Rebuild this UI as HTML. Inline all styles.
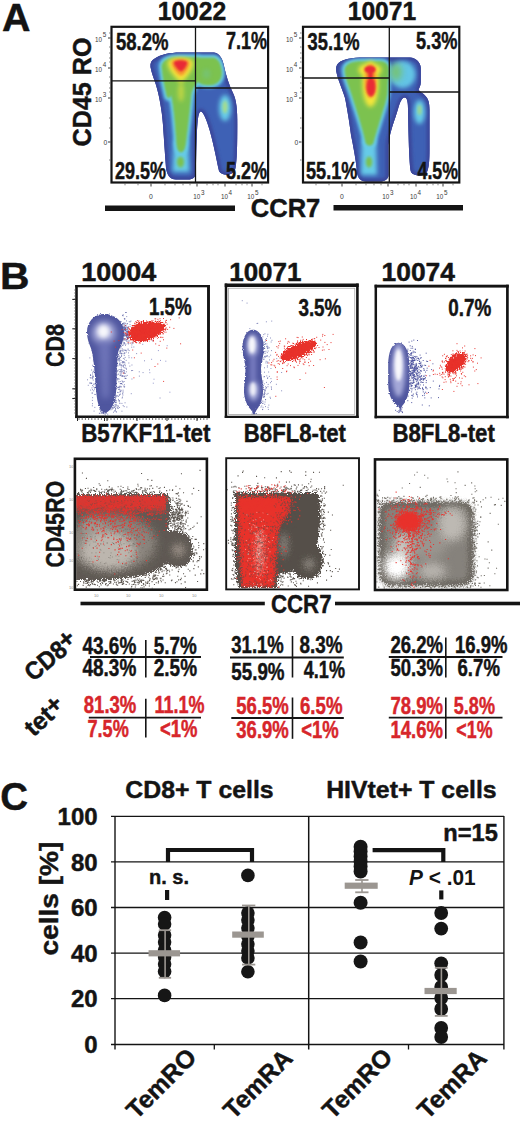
<!DOCTYPE html>
<html><head><meta charset="utf-8"><title>Figure</title>
<style>
html,body{margin:0;padding:0;background:#fff;}
body{width:520px;height:1121px;overflow:hidden;font-family:"Liberation Sans",sans-serif;}
svg{display:block;font-family:"Liberation Sans",sans-serif;}
</style></head><body>
<svg width="520" height="1121" viewBox="0 0 520 1121">
<defs>
<filter id="bl06" x="-20%" y="-20%" width="140%" height="140%"><feGaussianBlur stdDeviation="0.6"/></filter>
<filter id="bl1" x="-30%" y="-30%" width="160%" height="160%"><feGaussianBlur stdDeviation="1"/></filter>
<filter id="bl15" x="-30%" y="-30%" width="160%" height="160%"><feGaussianBlur stdDeviation="1.5"/></filter>
<filter id="bl2" x="-40%" y="-40%" width="180%" height="180%"><feGaussianBlur stdDeviation="2"/></filter>
<filter id="bl3" x="-50%" y="-50%" width="200%" height="200%"><feGaussianBlur stdDeviation="3"/></filter>
<filter id="bl4" x="-50%" y="-50%" width="200%" height="200%"><feGaussianBlur stdDeviation="4"/></filter>
<path id="shA1" d="M180,52.5 L214,52.5 C220,53 223,60 224,66 C226,75 229,85 233,93 C236.5,100 237.5,110 237.3,125 C237.3,145 237,160 235.5,168 C233.5,176.5 222,176.5 219,171 C216.5,160 213,140 208,125 C205,116 202,110 200,112 C197.5,114 196.5,130 196,172 C196,177 193,179.5 188,179.5 L176,179.5 C170,179.5 167,175 166,168 C165,155 164,140 163,125 C162,110 159,95 156,85 C154,79 151.5,73 150.5,67 C150,63 151.5,60.5 154,59 C160,54.5 170,52.5 180,52.5 Z"/>
<path id="shA2" d="M364,57.5 L410,57.5 C416,58 420.5,62 420.8,68 L420.8,82 C420.8,86 419,88 418.5,90 C420,92 423,93 425.5,96 C428.5,99 429.5,103 429.5,110 L429.5,150 C429.5,160 429,168 427,172 C425,176.5 413,176.5 411,172 C409,165 408.5,130 408,112 C408.3,102 407,97.5 404.8,97.5 C402,97.5 400,102 398,109 C395,120 390,130 388.5,145 L388.5,175 C388.5,179 385,181.5 380,181.5 L366,181.5 C360,181.5 357.5,177 357,172 C356,160 353,145 351,135 C349,120 347,108 345,98 C342,88 337.5,79 336.2,71 C335.6,67.5 336.5,65 338.5,63 C343,59 352,57.5 364,57.5 Z"/>
<clipPath id="cA1"><use href="#shA1"/></clipPath>
<clipPath id="cA2"><use href="#shA2"/></clipPath>
</defs>
<g id="panelA">
<use href="#shA1" fill="#3b469b" filter="url(#bl06)"/>
<g clip-path="url(#cA1)">
<use href="#shA1" fill="#3e61b5"/>
<use href="#shA1" fill="none" stroke="#3b469b" stroke-width="6" filter="url(#bl15)"/>
<g filter="url(#bl2)" fill="#66cbe8"><path d="M174,140 L188,140 L189.5,172 L172.5,172 Z"/></g>
<g filter="url(#bl2)" fill="#66cbe8"><ellipse cx="225" cy="108" rx="6" ry="13"/></g>
<g filter="url(#bl15)" fill="#66cbe8" stroke="#66cbe8" stroke-width="6.5" stroke-linejoin="round"><path d="M162,68 C161,61 168,57.5 178,57.5 L199,57.5 L199,80 C196,84 192,88 191,95 C190,105 188,125 186,140 C185,148 184,152 181,152 C178,152 177,148 176.5,140 C175.5,125 174,108 172,98 C171.5,95 171,93 170.5,95 C170,98 168,99 167,96 C165,88 163,78 162,68 Z"/><path d="M197,58 L214,58 C219,59 221,66 221.5,72 C222,80 217,85 209,85 C203,85 198,83 197,80 Z"/></g>
<g filter="url(#bl1)" fill="#7bc24f" stroke="#7bc24f" stroke-width="0.8" stroke-linejoin="round"><path d="M162,68 C161,61 168,57.5 178,57.5 L199,57.5 L199,80 C196,84 192,88 191,95 C190,105 188,125 186,140 C185,148 184,152 181,152 C178,152 177,148 176.5,140 C175.5,125 174,108 172,98 C171.5,95 171,93 170.5,95 C170,98 168,99 167,96 C165,88 163,78 162,68 Z"/><path d="M197,58 L214,58 C219,59 221,66 221.5,72 C222,80 217,85 209,85 C203,85 198,83 197,80 Z"/></g>
<g filter="url(#bl15)" fill="#7bc24f"><ellipse cx="180.5" cy="162" rx="3.6" ry="5.5"/></g>
<g filter="url(#bl2)" fill="#66cbe8" opacity="0.22"><ellipse cx="206.5" cy="74" rx="4" ry="5"/></g>
<g filter="url(#bl15)" fill="#a6dc8e"><ellipse cx="225" cy="107" rx="2.6" ry="6.5"/></g>
<g filter="url(#bl2)" fill="#f4e63a"><path d="M168,61 C172,56.5 189,56.5 193,61 C195,67 186,80 181,82 C176,80 166,67 168,61 Z"/><ellipse cx="181" cy="92" rx="3" ry="10" opacity="0.55"/></g>
<g filter="url(#bl15)" fill="#f6982e"><path d="M171.5,61.5 C175,58.5 186,58.5 189.5,61.5 C190.5,66 185,75 181,76 C177,75 170.5,66 171.5,61.5 Z"/></g>
<g filter="url(#bl1)" fill="#e92c36"><path d="M174,62 C176.5,59.8 184.5,59.8 187,62 C188,64.5 184,70.5 181,71.5 C178,70.5 173,64.5 174,62 Z"/></g>
</g>
<use href="#shA2" fill="#3b469b" filter="url(#bl06)"/>
<g clip-path="url(#cA2)">
<use href="#shA2" fill="#3e61b5"/>
<use href="#shA2" fill="none" stroke="#3b469b" stroke-width="6" filter="url(#bl15)"/>
<g filter="url(#bl2)" fill="#66cbe8"><path d="M362,138 L376,138 L377,175 L361,175 Z"/></g>
<g filter="url(#bl2)" fill="#66cbe8" opacity="0.95"><ellipse cx="402.5" cy="74.5" rx="13" ry="13.5"/></g>
<g filter="url(#bl2)" fill="#66cbe8"><ellipse cx="419.5" cy="112" rx="5.5" ry="12"/></g>
<g filter="url(#bl15)" fill="#66cbe8" stroke="#66cbe8" stroke-width="6.5" stroke-linejoin="round"><path d="M345,70 C345,64 352,61.5 362,61.5 L380,61.5 C386,61.5 388.5,65 388.5,70 L387,95 C385,105 378,125 373,143 C372,146 367,146 366,143 C362,125 356,108 353,98 C350,88 345,78 345,70 Z"/></g>
<g filter="url(#bl1)" fill="#7bc24f" stroke="#7bc24f" stroke-width="0.8" stroke-linejoin="round"><path d="M345,70 C345,64 352,61.5 362,61.5 L380,61.5 C386,61.5 388.5,65 388.5,70 L387,95 C385,105 378,125 373,143 C372,146 367,146 366,143 C362,125 356,108 353,98 C350,88 345,78 345,70 Z"/></g>
<g filter="url(#bl3)" fill="#7bc24f" opacity="0.7"><ellipse cx="396" cy="72" rx="6" ry="9"/></g>
<g filter="url(#bl15)" fill="#7bc24f"><ellipse cx="369" cy="162" rx="3.2" ry="5.5"/></g>
<g filter="url(#bl15)" fill="#9fd88a"><ellipse cx="419.5" cy="110" rx="2" ry="5"/></g>
<g filter="url(#bl2)" fill="#f4e63a"><ellipse cx="370.5" cy="84" rx="8" ry="23"/><ellipse cx="370" cy="70" rx="11.5" ry="7"/></g>
<g filter="url(#bl15)" fill="#f6982e"><ellipse cx="370.5" cy="81" rx="5.8" ry="17"/></g>
<g filter="url(#bl1)" fill="#e92c36"><ellipse cx="370" cy="69.5" rx="5.8" ry="3.8"/><ellipse cx="371" cy="87" rx="4.6" ry="9.5"/><rect x="368.3" y="70" width="4.4" height="10"/></g>
</g>
<text x="2" y="31" font-size="38" font-weight="bold" fill="#141414" stroke="#141414" stroke-width="0.45" stroke-linejoin="round" textLength="28.5" lengthAdjust="spacingAndGlyphs" >A</text>
<text x="157.7" y="20.3" font-size="25" font-weight="bold" fill="#141414" stroke="#141414" stroke-width="0.45" stroke-linejoin="round" textLength="68.5" lengthAdjust="spacingAndGlyphs" >10022</text>
<text x="347.7" y="20.3" font-size="25" font-weight="bold" fill="#141414" stroke="#141414" stroke-width="0.45" stroke-linejoin="round" textLength="68.5" lengthAdjust="spacingAndGlyphs" >10071</text>
<text x="90.8" y="146.5" font-size="26" font-weight="bold" fill="#141414" stroke="#141414" stroke-width="0.45" stroke-linejoin="round" textLength="109" lengthAdjust="spacingAndGlyphs" transform="rotate(-90 90.8 146.5)" >CD45 RO</text>
<rect x="111.5" y="26.8" width="156.6" height="155.7" fill="none" stroke="#141414" stroke-width="2.2" />
<rect x="303" y="26.8" width="156.3" height="155.7" fill="none" stroke="#141414" stroke-width="2.2" />
<line x1="195.5" y1="27" x2="195.5" y2="182" stroke="#141414" stroke-width="1.3" />
<line x1="112" y1="80.8" x2="195.5" y2="80.8" stroke="#141414" stroke-width="1.3" />
<line x1="195.5" y1="88" x2="268" y2="88" stroke="#141414" stroke-width="1.3" />
<line x1="389.3" y1="27" x2="389.3" y2="182" stroke="#141414" stroke-width="1.3" />
<line x1="303" y1="78" x2="389.3" y2="78" stroke="#141414" stroke-width="1.3" />
<line x1="389.3" y1="92" x2="459" y2="92" stroke="#141414" stroke-width="1.3" />
<text x="116" y="49.5" font-size="23" font-weight="bold" fill="#141414" stroke="#141414" stroke-width="0.45" stroke-linejoin="round" textLength="52.5" lengthAdjust="spacingAndGlyphs" >58.2%</text>
<text x="226" y="49" font-size="23" font-weight="bold" fill="#141414" stroke="#141414" stroke-width="0.45" stroke-linejoin="round" textLength="41" lengthAdjust="spacingAndGlyphs" >7.1%</text>
<text x="115" y="178.8" font-size="23" font-weight="bold" fill="#141414" stroke="#141414" stroke-width="0.45" stroke-linejoin="round" textLength="51" lengthAdjust="spacingAndGlyphs" >29.5%</text>
<text x="226" y="178.8" font-size="23" font-weight="bold" fill="#141414" stroke="#141414" stroke-width="0.45" stroke-linejoin="round" textLength="41" lengthAdjust="spacingAndGlyphs" >5.2%</text>
<text x="307.5" y="49.5" font-size="23" font-weight="bold" fill="#141414" stroke="#141414" stroke-width="0.45" stroke-linejoin="round" textLength="52" lengthAdjust="spacingAndGlyphs" >35.1%</text>
<text x="416" y="49" font-size="23" font-weight="bold" fill="#141414" stroke="#141414" stroke-width="0.45" stroke-linejoin="round" textLength="41.5" lengthAdjust="spacingAndGlyphs" >5.3%</text>
<text x="306" y="178.8" font-size="23" font-weight="bold" fill="#141414" stroke="#141414" stroke-width="0.45" stroke-linejoin="round" textLength="51.5" lengthAdjust="spacingAndGlyphs" >55.1%</text>
<text x="417.5" y="179.2" font-size="23" font-weight="bold" fill="#141414" stroke="#141414" stroke-width="0.45" stroke-linejoin="round" textLength="40.5" lengthAdjust="spacingAndGlyphs" >4.5%</text>
<text x="95.0" y="41.6" font-size="6.3" fill="#3c3c3c">10</text><text x="102.7" y="37.300000000000004" font-size="6.3" fill="#3c3c3c">5</text>
<text x="95.0" y="71.6" font-size="6.3" fill="#3c3c3c">10</text><text x="102.7" y="67.3" font-size="6.3" fill="#3c3c3c">4</text>
<text x="95.0" y="101.6" font-size="6.3" fill="#3c3c3c">10</text><text x="102.7" y="97.3" font-size="6.3" fill="#3c3c3c">3</text>
<text x="103.5" y="144.6" font-size="6.8" fill="#3c3c3c">0</text>
<text x="193.3" y="199.4" font-size="6.3" fill="#3c3c3c">10</text><text x="201.0" y="195.1" font-size="6.3" fill="#3c3c3c">3</text>
<text x="220.9" y="199.4" font-size="6.3" fill="#3c3c3c">10</text><text x="228.6" y="195.1" font-size="6.3" fill="#3c3c3c">4</text>
<text x="247.3" y="199.4" font-size="6.3" fill="#3c3c3c">10</text><text x="255.0" y="195.1" font-size="6.3" fill="#3c3c3c">5</text>
<text x="149" y="199.4" font-size="6.8" fill="#3c3c3c">0</text>
<line x1="108" y1="38" x2="110.5" y2="38" stroke="#222" stroke-width="0.9" />
<line x1="108" y1="68" x2="110.5" y2="68" stroke="#222" stroke-width="0.9" />
<line x1="108" y1="98" x2="110.5" y2="98" stroke="#222" stroke-width="0.9" />
<line x1="108" y1="142" x2="110.5" y2="142" stroke="#222" stroke-width="0.9" />
<line x1="109" y1="33" x2="110.5" y2="33" stroke="#555" stroke-width="0.7" />
<line x1="109" y1="47" x2="110.5" y2="47" stroke="#555" stroke-width="0.7" />
<line x1="109" y1="53" x2="110.5" y2="53" stroke="#555" stroke-width="0.7" />
<line x1="109" y1="58" x2="110.5" y2="58" stroke="#555" stroke-width="0.7" />
<line x1="109" y1="62" x2="110.5" y2="62" stroke="#555" stroke-width="0.7" />
<line x1="109" y1="77" x2="110.5" y2="77" stroke="#555" stroke-width="0.7" />
<line x1="109" y1="83" x2="110.5" y2="83" stroke="#555" stroke-width="0.7" />
<line x1="109" y1="88" x2="110.5" y2="88" stroke="#555" stroke-width="0.7" />
<line x1="109" y1="92" x2="110.5" y2="92" stroke="#555" stroke-width="0.7" />
<line x1="109" y1="118" x2="110.5" y2="118" stroke="#555" stroke-width="0.7" />
<line x1="109" y1="128" x2="110.5" y2="128" stroke="#555" stroke-width="0.7" />
<line x1="109" y1="160" x2="110.5" y2="160" stroke="#555" stroke-width="0.7" />
<line x1="151" y1="183.6" x2="151" y2="186.5" stroke="#222" stroke-width="0.9" />
<line x1="197" y1="183.6" x2="197" y2="186.5" stroke="#222" stroke-width="0.9" />
<line x1="225" y1="183.6" x2="225" y2="186.5" stroke="#222" stroke-width="0.9" />
<line x1="252" y1="183.6" x2="252" y2="186.5" stroke="#222" stroke-width="0.9" />
<line x1="125" y1="183.6" x2="125" y2="185.3" stroke="#555" stroke-width="0.7" />
<line x1="138" y1="183.6" x2="138" y2="185.3" stroke="#555" stroke-width="0.7" />
<line x1="165" y1="183.6" x2="165" y2="185.3" stroke="#555" stroke-width="0.7" />
<line x1="175" y1="183.6" x2="175" y2="185.3" stroke="#555" stroke-width="0.7" />
<line x1="183" y1="183.6" x2="183" y2="185.3" stroke="#555" stroke-width="0.7" />
<line x1="190" y1="183.6" x2="190" y2="185.3" stroke="#555" stroke-width="0.7" />
<line x1="207" y1="183.6" x2="207" y2="185.3" stroke="#555" stroke-width="0.7" />
<line x1="213" y1="183.6" x2="213" y2="185.3" stroke="#555" stroke-width="0.7" />
<line x1="218" y1="183.6" x2="218" y2="185.3" stroke="#555" stroke-width="0.7" />
<line x1="236" y1="183.6" x2="236" y2="185.3" stroke="#555" stroke-width="0.7" />
<line x1="242" y1="183.6" x2="242" y2="185.3" stroke="#555" stroke-width="0.7" />
<line x1="247" y1="183.6" x2="247" y2="185.3" stroke="#555" stroke-width="0.7" />
<line x1="262" y1="183.6" x2="262" y2="185.3" stroke="#555" stroke-width="0.7" />
<text x="286.0" y="41.6" font-size="6.3" fill="#3c3c3c">10</text><text x="293.7" y="37.300000000000004" font-size="6.3" fill="#3c3c3c">5</text>
<text x="286.0" y="71.6" font-size="6.3" fill="#3c3c3c">10</text><text x="293.7" y="67.3" font-size="6.3" fill="#3c3c3c">4</text>
<text x="286.0" y="101.6" font-size="6.3" fill="#3c3c3c">10</text><text x="293.7" y="97.3" font-size="6.3" fill="#3c3c3c">3</text>
<text x="294.5" y="144.6" font-size="6.8" fill="#3c3c3c">0</text>
<text x="382.3" y="199.4" font-size="6.3" fill="#3c3c3c">10</text><text x="390.0" y="195.1" font-size="6.3" fill="#3c3c3c">3</text>
<text x="409.9" y="199.4" font-size="6.3" fill="#3c3c3c">10</text><text x="417.59999999999997" y="195.1" font-size="6.3" fill="#3c3c3c">4</text>
<text x="436.3" y="199.4" font-size="6.3" fill="#3c3c3c">10</text><text x="444.0" y="195.1" font-size="6.3" fill="#3c3c3c">5</text>
<text x="340" y="199.4" font-size="6.8" fill="#3c3c3c">0</text>
<line x1="299" y1="38" x2="301.5" y2="38" stroke="#222" stroke-width="0.9" />
<line x1="299" y1="68" x2="301.5" y2="68" stroke="#222" stroke-width="0.9" />
<line x1="299" y1="98" x2="301.5" y2="98" stroke="#222" stroke-width="0.9" />
<line x1="299" y1="142" x2="301.5" y2="142" stroke="#222" stroke-width="0.9" />
<line x1="300" y1="33" x2="301.5" y2="33" stroke="#555" stroke-width="0.7" />
<line x1="300" y1="47" x2="301.5" y2="47" stroke="#555" stroke-width="0.7" />
<line x1="300" y1="53" x2="301.5" y2="53" stroke="#555" stroke-width="0.7" />
<line x1="300" y1="58" x2="301.5" y2="58" stroke="#555" stroke-width="0.7" />
<line x1="300" y1="62" x2="301.5" y2="62" stroke="#555" stroke-width="0.7" />
<line x1="300" y1="77" x2="301.5" y2="77" stroke="#555" stroke-width="0.7" />
<line x1="300" y1="83" x2="301.5" y2="83" stroke="#555" stroke-width="0.7" />
<line x1="300" y1="88" x2="301.5" y2="88" stroke="#555" stroke-width="0.7" />
<line x1="300" y1="92" x2="301.5" y2="92" stroke="#555" stroke-width="0.7" />
<line x1="300" y1="118" x2="301.5" y2="118" stroke="#555" stroke-width="0.7" />
<line x1="300" y1="128" x2="301.5" y2="128" stroke="#555" stroke-width="0.7" />
<line x1="300" y1="160" x2="301.5" y2="160" stroke="#555" stroke-width="0.7" />
<line x1="342" y1="183.6" x2="342" y2="186.5" stroke="#222" stroke-width="0.9" />
<line x1="388" y1="183.6" x2="388" y2="186.5" stroke="#222" stroke-width="0.9" />
<line x1="416" y1="183.6" x2="416" y2="186.5" stroke="#222" stroke-width="0.9" />
<line x1="443" y1="183.6" x2="443" y2="186.5" stroke="#222" stroke-width="0.9" />
<line x1="316" y1="183.6" x2="316" y2="185.3" stroke="#555" stroke-width="0.7" />
<line x1="329" y1="183.6" x2="329" y2="185.3" stroke="#555" stroke-width="0.7" />
<line x1="356" y1="183.6" x2="356" y2="185.3" stroke="#555" stroke-width="0.7" />
<line x1="366" y1="183.6" x2="366" y2="185.3" stroke="#555" stroke-width="0.7" />
<line x1="374" y1="183.6" x2="374" y2="185.3" stroke="#555" stroke-width="0.7" />
<line x1="381" y1="183.6" x2="381" y2="185.3" stroke="#555" stroke-width="0.7" />
<line x1="398" y1="183.6" x2="398" y2="185.3" stroke="#555" stroke-width="0.7" />
<line x1="404" y1="183.6" x2="404" y2="185.3" stroke="#555" stroke-width="0.7" />
<line x1="409" y1="183.6" x2="409" y2="185.3" stroke="#555" stroke-width="0.7" />
<line x1="427" y1="183.6" x2="427" y2="185.3" stroke="#555" stroke-width="0.7" />
<line x1="433" y1="183.6" x2="433" y2="185.3" stroke="#555" stroke-width="0.7" />
<line x1="438" y1="183.6" x2="438" y2="185.3" stroke="#555" stroke-width="0.7" />
<line x1="453" y1="183.6" x2="453" y2="185.3" stroke="#555" stroke-width="0.7" />
<rect x="105" y="205.5" width="130" height="5.5" fill="#141414" />
<rect x="333.5" y="205" width="129.5" height="5.5" fill="#141414" />
<text x="250.8" y="216.6" font-size="25.5" font-weight="bold" fill="#141414" stroke="#141414" stroke-width="0.45" stroke-linejoin="round" textLength="69.5" lengthAdjust="spacingAndGlyphs" >CCR7</text>
</g>
<defs>
<filter id="rough" x="-5%" y="-5%" width="110%" height="110%"><feTurbulence type="fractalNoise" baseFrequency="0.85" numOctaves="1" seed="3" result="n"/><feDisplacementMap in="SourceGraphic" in2="n" scale="5" xChannelSelector="R" yChannelSelector="G"/></filter>
<filter id="rough2" x="-10%" y="-10%" width="120%" height="120%"><feTurbulence type="fractalNoise" baseFrequency="0.9" numOctaves="1" seed="8" result="n"/><feDisplacementMap in="SourceGraphic" in2="n" scale="3" xChannelSelector="R" yChannelSelector="G"/></filter>
<filter id="rough3" x="-10%" y="-10%" width="120%" height="120%"><feTurbulence type="fractalNoise" baseFrequency="0.8" numOctaves="2" seed="5" result="n"/><feDisplacementMap in="SourceGraphic" in2="n" scale="8" xChannelSelector="R" yChannelSelector="G"/></filter>
<clipPath id="cB1"><rect x="77.8" y="287.3" width="129.3" height="128.2"/></clipPath>
<clipPath id="cB2"><rect x="228.5" y="288" width="127" height="126.5"/></clipPath>
<clipPath id="cB3"><rect x="378.5" y="288" width="127" height="126.5"/></clipPath>
<clipPath id="cB4"><rect x="76.2" y="460.1" width="129.4" height="128.4"/></clipPath>
<clipPath id="cB5"><rect x="227.1" y="459.1" width="131" height="129.2"/></clipPath>
<clipPath id="cB6"><rect x="376.3" y="460.7" width="129.7" height="128"/></clipPath>
<path id="blob1" d="M104,314 C115,314 124,322 124,332 C124,340 121,346 118.5,351 C117,356 117,370 116.5,385 C116,396 115,402 112,407 C109.5,411 106.5,413 104.5,413 C102,413 99,408 98,403 C96.5,397 95.5,385 94.8,374 C94,362 92.5,354 91.5,350 C90,345 87,340 87,332 C87,322 94,314 104,314 Z"/>
<path id="blob2" d="M253,329.7 C259,329.7 263.8,337 263.8,347 C263.8,356 261.5,362 261,368.6 C261,375 263,382 263,391 C263,400 259,407 256,411 L254,416 L252,411 C248,407 244,400 244,391 C244,382 245.5,375 245.5,368.6 C245.5,362 242.5,356 242.5,347 C242.5,337 247,329.7 253,329.7 Z"/>
<path id="blob3" d="M398.5,342.7 C405.5,342.7 409.3,352 409.3,365 L409.3,384 C409.3,395 406,402 402.5,405.5 L400.5,409.5 L398,406 C392,402 388.2,395 388.2,384 L388.2,365 C388.2,352 392,342.7 398.5,342.7 Z"/>
<clipPath id="cb1"><use href="#blob1"/></clipPath>
<clipPath id="cb2"><use href="#blob2"/></clipPath>
<clipPath id="cb3"><use href="#blob3"/></clipPath>
</defs>
<g id="panelB">
<defs><linearGradient id="rfade" x1="0" y1="0" x2="0" y2="1"><stop offset="0" stop-color="#e8322c" stop-opacity="0.95"/><stop offset="0.55" stop-color="#e8322c" stop-opacity="0.9"/><stop offset="1" stop-color="#e8322c" stop-opacity="0"/></linearGradient></defs>
<g clip-path="url(#cB1)">
<path d="M125.1,335.8h0.9M129.8,321.8h0.9M129.3,334.1h0.9M123.2,339.0h0.9M124.0,335.3h0.9M123.2,333.8h0.9M127.0,338.6h0.9M124.8,333.1h0.9M127.6,334.4h0.9M118.5,331.1h0.9M130.5,336.4h0.9M124.7,325.4h0.9M127.4,337.5h0.9M124.5,328.5h0.9M123.7,324.4h0.9M126.6,334.6h0.9M127.9,343.9h0.9M124.3,338.7h0.9M124.5,328.4h0.9M127.4,336.9h0.9M122.0,328.8h0.9M119.7,331.1h0.9M126.4,332.6h0.9M122.7,315.8h0.9M118.3,333.3h0.9M122.2,324.8h0.9M123.4,327.1h0.9M120.8,321.7h0.9M119.8,321.4h0.9M125.1,325.4h0.9M128.1,337.8h0.9M124.2,343.7h0.9M122.4,331.8h0.9M126.3,339.6h0.9M127.5,330.2h0.9M123.9,318.6h0.9M126.9,333.0h0.9M128.7,335.1h0.9M124.3,329.0h0.9M122.2,334.1h0.9M126.2,336.0h0.9M125.9,326.0h0.9M128.8,321.7h0.9M120.5,330.5h0.9M122.7,330.5h0.9M122.1,329.5h0.9M118.9,338.9h0.9M125.4,344.1h0.9M126.8,329.1h0.9M122.4,336.9h0.9M129.8,338.6h0.9M127.9,337.0h0.9M127.2,339.3h0.9M126.4,329.3h0.9M128.3,337.2h0.9M120.3,346.2h0.9M127.1,337.6h0.9M127.1,327.7h0.9M118.8,336.3h0.9M126.2,340.8h0.9M124.1,334.6h0.9M127.7,328.1h0.9M123.5,342.8h0.9M124.9,323.3h0.9M126.2,335.5h0.9M121.9,331.9h0.9M127.1,323.6h0.9M124.6,340.5h0.9M126.7,334.4h0.9M123.2,323.8h0.9M128.8,336.2h0.9M127.1,329.0h0.9M124.4,318.7h0.9M127.2,327.2h0.9M129.4,333.8h0.9M131.3,336.4h0.9M119.5,333.2h0.9M128.1,332.3h0.9M126.6,335.3h0.9M124.7,330.5h0.9M121.5,340.2h0.9M129.4,333.0h0.9M120.6,334.1h0.9M127.0,335.8h0.9M129.6,324.6h0.9M119.4,327.0h0.9M123.9,342.7h0.9M120.4,334.3h0.9M125.9,330.0h0.9M130.3,334.4h0.9M132.1,328.6h0.9M118.8,333.9h0.9M123.0,327.3h0.9M127.5,333.9h0.9M130.5,321.0h0.9M126.5,341.3h0.9M122.4,328.4h0.9M126.0,320.9h0.9M124.9,330.4h0.9M124.3,329.4h0.9M122.4,333.1h0.9M126.4,324.0h0.9M126.1,334.8h0.9M124.7,357.4h0.9M124.2,323.0h0.9M120.5,334.4h0.9M123.3,329.8h0.9M129.2,333.3h0.9M124.3,319.3h0.9M120.0,323.9h0.9M129.7,335.2h0.9M126.9,331.7h0.9M132.4,343.4h0.9M125.2,327.1h0.9M123.4,333.2h0.9M119.9,352.4h0.9M129.6,326.6h0.9M134.0,325.7h0.9M122.1,331.8h0.9M122.7,331.7h0.9M127.1,337.9h0.9M122.1,332.9h0.9M124.1,326.7h0.9M123.8,333.5h0.9M125.7,350.5h0.9M128.8,340.9h0.9M125.1,312.5h0.9M128.2,331.0h0.9M123.5,325.9h0.9M126.1,336.4h0.9M117.5,330.8h0.9M119.9,345.5h0.9M127.8,338.5h0.9M122.9,338.2h0.9M127.0,333.3h0.9M126.9,331.7h0.9M129.6,334.4h0.9M127.8,341.1h0.9M128.6,335.7h0.9M124.6,329.5h0.9M122.6,340.9h0.9M122.4,333.3h0.9M123.3,331.5h0.9M121.0,326.5h0.9M123.1,328.0h0.9M124.7,327.5h0.9M125.9,312.5h0.9M123.8,339.1h0.9M118.3,336.0h0.9M124.7,330.5h0.9M125.8,339.3h0.9M128.8,335.1h0.9M127.0,334.6h0.9M122.7,314.7h0.9M122.5,330.4h0.9M132.0,335.7h0.9M127.6,343.3h0.9M131.4,344.9h0.9M132.5,342.0h0.9M122.1,323.9h0.9M126.3,316.6h0.9M126.6,336.0h0.9M127.0,332.2h0.9M126.9,338.7h0.9M125.7,331.1h0.9M125.6,333.5h0.9M119.7,321.5h0.9M124.4,335.1h0.9M122.4,328.9h0.9M125.4,334.4h0.9M123.4,335.2h0.9M127.2,331.2h0.9M127.9,334.2h0.9M126.1,331.9h0.9M126.1,337.3h0.9M125.3,335.5h0.9M123.4,328.2h0.9M124.4,327.9h0.9M123.3,344.2h0.9M126.4,331.3h0.9M125.0,338.9h0.9M127.0,334.8h0.9M120.3,328.1h0.9M128.1,326.8h0.9M122.3,332.8h0.9M122.4,333.8h0.9M124.3,336.3h0.9M123.0,323.1h0.9M126.0,327.8h0.9M123.0,331.3h0.9M121.3,343.2h0.9M122.0,315.5h0.9M129.6,335.1h0.9M125.2,328.2h0.9M120.9,335.0h0.9M125.0,328.6h0.9M119.6,334.6h0.9M131.3,343.0h0.9M119.7,334.5h0.9M126.7,335.0h0.9M121.3,353.2h0.9M117.4,370.4h0.9M121.9,350.8h0.9M119.3,365.1h0.9M117.2,347.5h0.9M119.9,394.1h0.9M119.2,351.7h0.9M122.6,366.0h0.9M119.9,365.0h0.9M118.1,387.3h0.9M125.1,345.3h0.9M123.5,367.5h0.9M124.4,364.7h0.9M122.1,376.5h0.9M119.6,375.6h0.9M118.5,360.6h0.9M119.0,371.8h0.9M123.3,362.0h0.9M120.4,375.5h0.9M114.8,366.4h0.9M119.9,357.5h0.9M115.0,367.6h0.9M120.6,373.8h0.9M115.8,404.3h0.9M115.6,360.1h0.9M120.4,372.9h0.9M119.7,391.4h0.9M114.2,334.7h0.9M122.6,340.1h0.9M127.6,349.0h0.9M114.8,366.2h0.9M126.4,407.0h0.9M117.6,374.3h0.9M118.3,387.3h0.9M119.4,364.4h0.9M114.9,328.6h0.9M124.5,331.0h0.9M121.7,384.3h0.9M117.4,371.0h0.9M119.0,347.2h0.9M114.7,385.9h0.9M118.8,343.4h0.9M123.3,386.1h0.9M114.0,391.2h0.9M118.5,355.8h0.9M120.5,350.3h0.9M123.7,381.5h0.9M124.7,350.5h0.9M118.4,381.8h0.9M117.4,348.9h0.9M121.6,380.9h0.9M118.7,369.5h0.9M118.9,361.1h0.9M123.8,353.7h0.9M125.9,371.8h0.9M120.9,337.7h0.9M119.3,363.6h0.9M122.0,361.7h0.9M113.4,378.9h0.9M119.9,347.9h0.9M116.3,395.4h0.9M128.4,363.0h0.9M122.5,349.8h0.9M120.5,390.2h0.9M119.3,394.6h0.9M111.2,365.0h0.9M122.5,353.7h0.9M125.7,368.3h0.9M117.4,357.0h0.9M122.4,363.0h0.9M122.5,392.9h0.9M114.6,374.3h0.9M123.3,370.3h0.9M124.7,373.5h0.9M120.8,367.1h0.9M119.8,381.5h0.9M122.8,382.1h0.9M114.6,362.1h0.9M120.3,369.7h0.9M123.7,406.6h0.9M115.7,374.7h0.9M123.5,365.0h0.9M118.5,400.8h0.9M112.7,368.2h0.9M119.6,350.4h0.9M116.6,378.8h0.9M121.1,353.6h0.9M115.9,360.0h0.9M123.7,373.2h0.9M117.4,366.0h0.9M121.2,355.8h0.9M117.9,359.2h0.9M118.9,358.5h0.9M124.2,386.7h0.9M120.8,356.5h0.9M118.6,358.8h0.9M115.6,400.6h0.9M124.1,359.1h0.9M122.6,391.8h0.9M118.9,389.1h0.9M120.9,365.6h0.9M116.4,345.3h0.9M116.4,375.2h0.9M117.1,378.8h0.9M121.2,383.5h0.9M121.0,369.2h0.9M117.4,387.3h0.9M122.6,390.2h0.9M122.7,351.1h0.9M120.6,390.9h0.9M123.6,370.8h0.9M119.0,358.9h0.9M119.6,362.9h0.9M121.7,398.0h0.9M119.9,383.7h0.9M122.8,339.4h0.9M115.6,369.3h0.9M125.0,365.8h0.9M117.3,365.2h0.9M119.4,359.8h0.9M115.2,344.7h0.9M122.1,381.8h0.9M124.5,353.0h0.9M123.7,362.1h0.9M122.9,358.4h0.9M114.5,356.4h0.9M117.3,379.9h0.9M118.4,374.1h0.9M116.7,357.2h0.9M123.9,352.9h0.9M120.6,360.5h0.9M119.9,383.5h0.9M121.7,370.0h0.9M116.7,371.7h0.9M116.8,362.7h0.9M116.9,363.9h0.9M121.7,371.5h0.9M121.2,338.5h0.9M122.0,393.8h0.9M123.8,355.4h0.9M115.2,358.9h0.9M118.0,389.4h0.9M120.5,371.6h0.9M115.3,368.7h0.9M118.1,358.7h0.9M123.5,343.0h0.9M123.9,371.0h0.9M123.8,387.1h0.9M120.2,353.6h0.9M119.3,389.8h0.9M123.8,350.0h0.9M118.7,356.3h0.9M121.2,376.1h0.9M124.6,368.0h0.9M118.7,379.1h0.9M117.9,356.1h0.9M120.0,351.5h0.9M122.1,338.1h0.9M121.7,348.7h0.9M120.5,350.8h0.9M121.9,345.2h0.9M114.4,372.9h0.9M117.0,357.4h0.9M120.6,336.2h0.9M116.7,407.7h0.9M115.3,354.6h0.9M115.8,347.9h0.9M116.8,387.8h0.9M119.4,386.6h0.9M116.4,349.6h0.9M120.8,344.4h0.9M125.9,352.0h0.9M119.5,386.1h0.9M124.5,363.0h0.9M121.0,355.1h0.9M116.1,367.5h0.9M119.1,387.3h0.9M116.6,345.8h0.9M122.7,361.9h0.9M116.0,345.9h0.9M124.6,402.8h0.9M122.0,397.1h0.9M112.9,383.2h0.9M122.7,365.9h0.9M125.4,378.5h0.9M117.2,334.4h0.9M123.4,372.4h0.9M113.7,346.6h0.9M120.9,346.8h0.9M114.2,356.7h0.9M121.7,362.4h0.9M113.7,377.2h0.9M110.8,379.2h0.9M121.4,372.2h0.9M128.0,352.9h0.9M117.9,378.8h0.9M122.9,366.1h0.9M120.4,386.9h0.9M118.9,353.3h0.9M122.2,323.8h0.9M125.7,360.4h0.9M115.7,402.4h0.9M122.0,375.5h0.9M121.2,364.9h0.9M115.0,382.1h0.9M125.7,376.1h0.9M126.8,375.4h0.9M116.7,359.8h0.9M126.1,369.2h0.9M120.2,371.2h0.9M119.4,357.7h0.9M125.3,350.1h0.9M120.8,370.2h0.9M121.1,383.5h0.9M125.3,378.4h0.9M124.5,375.9h0.9M123.1,376.1h0.9M115.1,409.3h0.9M114.5,372.2h0.9M123.9,384.7h0.9M120.8,386.8h0.9M114.2,394.3h0.9M114.9,402.6h0.9M117.7,406.5h0.9M119.9,391.8h0.9M115.1,387.2h0.9M115.3,396.0h0.9M114.3,400.6h0.9M109.8,397.7h0.9M117.9,396.4h0.9M113.1,408.1h0.9M108.0,408.9h0.9M113.5,407.3h0.9M108.0,395.5h0.9M110.5,402.6h0.9M114.1,400.8h0.9M110.8,392.1h0.9M117.8,408.3h0.9M108.9,402.7h0.9M114.9,398.7h0.9M116.0,412.0h0.9M119.1,407.5h0.9M117.3,408.1h0.9M114.8,410.5h0.9M114.3,407.1h0.9M113.8,393.2h0.9M118.0,399.4h0.9M111.7,409.1h0.9M115.9,396.7h0.9M113.7,402.4h0.9M114.9,404.9h0.9M113.1,412.2h0.9M121.5,411.2h0.9M111.7,408.4h0.9M114.9,400.8h0.9M115.0,408.5h0.9M116.2,405.8h0.9M115.6,401.0h0.9M115.5,411.6h0.9M117.5,405.6h0.9M108.8,396.8h0.9M114.1,411.0h0.9M109.7,400.3h0.9M114.9,406.2h0.9M109.9,391.4h0.9M110.7,402.0h0.9M113.8,395.5h0.9M118.9,395.3h0.9M116.1,388.7h0.9M115.1,417.1h0.9M119.0,401.0h0.9M110.7,403.7h0.9M106.7,409.8h0.9M112.6,401.2h0.9M113.1,405.7h0.9M118.4,392.6h0.9M121.5,403.4h0.9M109.4,399.2h0.9M122.7,405.6h0.9M119.5,403.3h0.9M117.0,392.4h0.9M115.3,389.1h0.9M122.5,395.0h0.9M114.3,407.2h0.9M112.4,405.0h0.9M114.5,404.9h0.9M109.3,387.9h0.9M115.7,383.2h0.9M113.7,397.7h0.9M115.2,399.7h0.9M115.3,397.8h0.9M110.3,404.5h0.9M118.7,400.8h0.9M110.5,393.7h0.9M117.2,395.9h0.9M108.5,403.0h0.9M115.4,402.5h0.9M111.2,401.5h0.9M114.2,417.9h0.9M111.8,400.2h0.9M92.2,385.5h0.9M90.5,378.3h0.9M91.5,350.4h0.9M92.8,386.8h0.9M92.9,376.3h0.9M91.8,393.0h0.9M92.6,377.7h0.9M92.1,378.7h0.9M89.2,383.0h0.9M87.1,379.8h0.9M95.5,373.7h0.9M93.2,354.9h0.9M91.9,405.8h0.9M89.4,357.9h0.9M90.1,375.2h0.9M94.0,389.1h0.9M87.8,385.3h0.9M91.5,387.9h0.9M93.3,390.8h0.9M92.2,397.7h0.9M93.1,384.2h0.9M91.8,420.7h0.9M95.6,365.8h0.9M90.5,383.2h0.9M90.0,374.9h0.9M92.4,372.4h0.9M94.1,384.0h0.9M91.9,400.4h0.9M93.6,370.1h0.9M91.2,370.0h0.9M90.2,390.1h0.9M94.1,387.6h0.9M94.4,407.4h0.9M94.3,394.4h0.9M91.3,383.2h0.9M90.3,375.4h0.9M90.2,383.0h0.9M91.7,377.5h0.9M92.9,360.9h0.9M92.8,380.1h0.9M89.8,377.5h0.9M92.3,376.7h0.9M92.0,374.0h0.9M92.1,403.7h0.9M92.0,389.7h0.9M91.7,393.1h0.9M92.9,371.5h0.9M92.2,365.7h0.9M92.3,376.0h0.9M91.0,383.4h0.9M102.0,410.7h0.9M102.4,413.5h0.9M105.9,413.0h0.9M103.9,410.8h0.9M100.0,411.7h0.9M101.7,411.3h0.9M101.0,412.6h0.9M103.5,410.9h0.9M99.5,413.4h0.9M102.5,407.2h0.9M105.1,411.3h0.9M103.1,407.8h0.9M100.3,410.8h0.9M101.2,413.3h0.9M103.4,412.1h0.9M104.4,411.7h0.9M105.5,412.2h0.9M102.6,415.9h0.9M99.0,409.2h0.9M107.3,414.2h0.9M103.9,408.2h0.9M104.2,410.8h0.9M103.9,412.4h0.9M99.9,409.9h0.9M102.0,412.5h0.9M103.8,413.8h0.9M106.1,409.0h0.9M103.2,411.8h0.9M93.6,411.1h0.9M102.3,407.1h0.9M104.1,411.5h0.9M106.9,410.0h0.9M105.1,415.3h0.9M110.5,409.8h0.9M107.3,416.2h0.9M107.0,410.7h0.9M105.8,416.8h0.9M98.9,413.3h0.9M105.5,413.1h0.9M104.8,414.0h0.9M144.0,360.8h0.9M149.0,369.9h0.9M152.3,340.8h0.9M131.5,365.0h0.9M122.5,345.5h0.9M108.3,364.3h0.9M131.1,370.6h0.9M142.6,372.6h0.9M138.8,371.8h0.9M136.2,353.6h0.9M131.5,379.0h0.9M128.6,357.7h0.9M132.2,370.5h0.9M138.9,376.1h0.9M117.4,360.0h0.9M142.3,344.3h0.9M120.4,374.7h0.9M133.4,347.0h0.9M128.7,350.6h0.9M131.3,347.2h0.9M124.5,378.3h0.9M123.4,362.2h0.9M132.7,328.9h0.9M124.1,376.6h0.9M159.6,398.0h0.9M130.8,393.7h0.9M128.4,355.8h0.9M129.4,366.1h0.9M124.2,373.0h0.9M110.4,379.1h0.9" stroke="#50569f" stroke-width="0.9" fill="none" opacity="0.8"/>
<g filter="url(#rough2)"><use href="#blob1" fill="#50569f"/></g>
<g clip-path="url(#cb1)"><g filter="url(#bl3)"><ellipse cx="104" cy="333" rx="12" ry="12" fill="#a4a8d8"/><path d="M98,340 L111,340 L109,398 L102,398 Z" fill="#6d73b8"/></g><g filter="url(#bl2)"><ellipse cx="103.5" cy="331.5" rx="6.2" ry="6.8" fill="#f6f6fb"/></g></g>
<g filter="url(#rough3)"><path d="M129,333 C129,327 136,322 146,321.5 C155,321 165,322 165.5,326 C166,330 158,337 150,340 C142,343 134,343 131,340 C129.5,338 129,336 129,333 Z" fill="#e8322c"/></g>
<path d="M146.8,333.3h1.0M134.5,335.2h1.0M154.4,331.2h1.0M153.4,333.8h1.0M131.6,334.3h1.0M142.1,332.7h1.0M150.8,339.9h1.0M145.8,330.8h1.0M152.4,334.1h1.0M154.5,329.5h1.0M151.2,327.3h1.0M144.1,328.8h1.0M130.4,329.7h1.0M152.5,329.7h1.0M160.3,324.6h1.0M166.6,324.2h1.0M146.9,337.7h1.0M145.3,330.4h1.0M162.7,333.8h1.0M161.7,329.2h1.0M150.5,334.9h1.0M152.8,326.1h1.0M137.8,333.6h1.0M155.2,343.9h1.0M137.9,337.4h1.0M145.4,336.7h1.0M144.8,332.6h1.0M141.8,336.7h1.0M121.8,329.6h1.0M136.0,328.3h1.0M149.9,332.6h1.0M146.1,335.6h1.0M141.1,329.7h1.0M150.2,329.0h1.0M152.8,327.5h1.0M154.7,328.0h1.0M135.8,326.4h1.0M144.4,323.2h1.0M142.1,331.3h1.0M134.4,323.6h1.0M128.6,329.1h1.0M144.0,327.6h1.0M135.2,327.3h1.0M169.2,327.3h1.0M144.2,328.8h1.0M143.3,331.0h1.0M140.4,326.4h1.0M165.1,322.7h1.0M136.3,335.8h1.0M144.5,333.2h1.0M137.0,330.2h1.0M144.9,333.2h1.0M145.6,332.0h1.0M157.8,329.3h1.0M132.4,342.7h1.0M145.1,328.8h1.0M163.7,329.5h1.0M140.8,334.3h1.0M143.6,330.0h1.0M134.9,326.6h1.0M118.4,340.6h1.0M145.0,332.5h1.0M158.5,328.4h1.0M140.8,332.1h1.0M125.9,335.2h1.0M147.6,325.4h1.0M147.0,332.2h1.0M154.5,318.8h1.0M155.5,328.6h1.0M141.2,323.4h1.0M149.7,328.0h1.0M127.2,338.8h1.0M157.5,326.9h1.0M147.2,327.8h1.0M158.0,331.1h1.0M156.9,326.9h1.0M142.2,329.2h1.0M143.7,329.0h1.0M138.1,340.9h1.0M124.3,339.1h1.0M144.9,333.6h1.0M146.0,324.0h1.0M134.8,336.6h1.0M151.9,322.2h1.0M147.4,333.1h1.0M149.4,323.7h1.0M139.7,343.0h1.0M124.8,325.7h1.0M155.5,335.5h1.0M153.2,333.6h1.0M142.5,321.4h1.0M140.9,330.4h1.0M144.4,339.1h1.0M145.6,337.1h1.0M138.4,323.0h1.0M123.5,332.5h1.0M152.8,322.6h1.0M128.5,328.6h1.0M141.4,328.0h1.0M144.6,341.3h1.0M148.7,330.8h1.0M128.1,333.2h1.0M158.4,326.1h1.0M153.6,332.8h1.0M154.8,332.6h1.0M158.4,322.8h1.0M138.9,340.4h1.0M110.8,332.0h1.0M149.1,328.4h1.0M160.4,330.1h1.0M160.3,337.2h1.0M139.7,330.0h1.0M145.2,332.4h1.0M150.4,337.0h1.0M127.1,338.2h1.0M140.0,338.3h1.0M140.2,337.7h1.0M163.2,328.4h1.0M139.6,335.5h1.0M163.8,332.0h1.0M146.0,330.5h1.0M129.7,343.1h1.0M167.5,314.9h1.0M134.4,327.9h1.0M154.2,337.0h1.0M164.8,329.0h1.0M139.4,328.4h1.0M133.1,335.5h1.0M158.4,334.1h1.0M146.0,327.5h1.0M133.6,337.6h1.0M134.2,332.5h1.0M141.6,330.9h1.0M156.2,328.1h1.0M144.1,337.3h1.0M151.7,323.1h1.0M163.3,324.9h1.0M160.3,331.3h1.0M160.0,320.8h1.0M157.4,319.3h1.0M129.3,337.4h1.0M159.1,327.9h1.0M149.3,329.1h1.0M144.8,331.7h1.0M133.1,327.9h1.0M132.2,350.0h1.0M132.8,327.9h1.0M145.2,328.4h1.0M131.7,325.7h1.0M136.7,330.3h1.0M141.0,340.3h1.0M153.1,329.2h1.0M143.4,334.5h1.0M143.8,328.4h1.0M162.3,337.4h1.0M142.7,332.3h1.0M150.9,322.6h1.0M135.4,337.2h1.0M149.0,327.9h1.0M147.9,333.7h1.0M148.0,331.0h1.0M141.2,333.1h1.0M135.0,333.8h1.0M141.7,326.5h1.0M139.2,323.6h1.0M158.2,333.5h1.0M155.5,327.9h1.0M133.3,334.9h1.0M152.1,326.7h1.0M138.5,320.9h1.0M149.4,322.7h1.0M142.3,339.3h1.0M129.2,329.8h1.0M156.4,326.3h1.0M149.1,321.7h1.0M132.1,330.6h1.0M125.1,333.0h1.0M139.9,330.7h1.0M133.1,333.0h1.0M141.3,328.1h1.0M151.9,326.1h1.0M161.7,327.2h1.0M142.5,333.2h1.0M160.6,326.7h1.0M160.4,337.4h1.0M141.5,332.7h1.0M128.2,335.3h1.0M154.4,325.2h1.0M153.7,334.8h1.0M170.1,319.7h1.0M159.5,318.7h1.0M153.2,323.6h1.0M164.8,330.1h1.0M133.4,326.9h1.0M149.5,337.1h1.0M143.0,331.1h1.0M163.0,318.5h1.0M151.8,328.1h1.0M115.1,347.2h1.0M159.7,322.8h1.0M134.7,325.6h1.0M154.9,331.6h1.0M142.4,338.7h1.0M149.8,335.5h1.0M152.5,327.4h1.0M148.3,331.2h1.0M136.2,334.5h1.0M162.5,333.7h1.0M152.8,341.2h1.0M145.8,330.0h1.0M155.2,336.0h1.0M139.9,330.0h1.0M167.1,329.4h1.0M147.4,325.0h1.0M149.2,325.6h1.0M150.3,332.0h1.0M135.3,327.8h1.0M134.5,338.0h1.0M147.8,327.1h1.0M150.0,330.2h1.0M160.5,327.0h1.0M150.6,327.7h1.0M134.6,333.8h1.0M153.0,335.2h1.0M158.6,345.4h1.0M155.6,321.9h1.0M150.1,331.4h1.0M132.8,332.4h1.0M157.6,323.0h1.0M138.6,333.8h1.0M151.3,324.5h1.0M129.1,333.7h1.0M155.8,335.5h1.0M135.4,321.5h1.0M158.1,329.4h1.0M165.6,328.9h1.0M157.6,322.7h1.0M134.1,336.1h1.0M136.4,334.6h1.0M136.3,330.7h1.0M154.6,335.6h1.0M148.3,322.8h1.0M148.5,333.7h1.0M149.2,328.6h1.0M151.1,323.6h1.0M152.9,328.1h1.0M163.9,324.8h1.0M146.4,335.1h1.0M146.6,322.1h1.0M125.9,333.8h1.0M131.3,331.2h1.0M140.4,340.6h1.0M132.0,327.3h1.0M149.6,335.8h1.0M155.2,318.8h1.0M141.7,333.4h1.0M140.6,331.0h1.0M140.9,333.8h1.0M146.6,326.5h1.0M137.9,321.3h1.0M125.1,329.6h1.0M165.5,309.5h1.0M150.8,323.0h1.0M134.4,323.1h1.0M161.9,328.7h1.0M138.0,335.5h1.0M139.1,342.8h1.0M130.7,334.1h1.0M165.0,321.1h1.0M180.1,343.8h1.0M134.6,335.8h1.0M152.7,329.2h1.0M162.9,327.8h1.0M178.7,317.9h1.0M113.6,341.1h1.0M151.1,334.0h1.0M159.7,341.3h1.0M127.7,342.4h1.0M155.5,336.9h1.0M152.7,340.0h1.0M159.0,328.2h1.0M139.5,329.9h1.0M154.7,330.5h1.0M138.3,324.4h1.0M157.4,329.5h1.0M150.6,329.1h1.0M143.6,337.2h1.0M127.5,334.6h1.0M171.1,315.1h1.0M165.0,329.7h1.0M163.0,339.8h1.0M136.9,320.5h1.0M142.6,327.3h1.0M173.4,328.4h1.0M158.3,321.1h1.0M135.3,329.8h1.0M149.3,332.1h1.0M149.4,322.4h1.0M145.9,334.3h1.0M134.9,336.6h1.0M166.0,320.4h1.0M157.4,330.8h1.0M146.7,339.7h1.0M125.1,333.9h1.0M140.4,336.1h1.0M149.2,336.3h1.0M161.3,328.4h1.0M144.1,339.5h1.0M165.5,332.2h1.0M149.8,324.7h1.0M154.5,366.5h1.0M133.4,377.8h1.0M122.8,373.2h1.0M133.9,357.8h1.0M140.7,353.1h1.0M157.3,364.0h1.0M163.1,381.4h1.0M166.3,348.1h1.0" stroke="#e8322c" stroke-width="1.0" fill="none" opacity="0.95"/>
<path d="M151.1,359.3h1.0M119.1,403.2h1.0M127.6,349.9h1.0M152.8,383.2h1.0M160.0,360.4h1.0M157.9,350.6h1.0M153.5,379.2h1.0M131.2,357.8h1.0M169.4,392.2h1.0M149.3,372.7h1.0M165.3,361.2h1.0M166.7,345.7h1.0" stroke="#8b8fc8" stroke-width="1.0" fill="none" opacity="0.9"/>
</g>
<g clip-path="url(#cB2)">
<path d="M267.0,378.4h0.9M264.7,356.2h0.9M266.8,356.0h0.9M264.3,351.6h0.9M263.6,359.3h0.9M264.0,346.5h0.9M263.4,357.8h0.9M264.3,348.4h0.9M267.5,346.9h0.9M261.9,352.4h0.9M260.9,350.6h0.9M264.5,333.8h0.9M268.2,372.0h0.9M266.8,352.6h0.9M267.4,334.3h0.9M267.3,362.0h0.9M262.9,351.0h0.9M264.8,353.3h0.9M258.7,358.3h0.9M263.2,342.3h0.9M265.9,321.8h0.9M261.1,350.3h0.9M260.0,353.7h0.9M261.7,361.3h0.9M265.0,343.7h0.9M267.1,348.6h0.9M270.2,355.2h0.9M267.7,348.1h0.9M261.2,348.8h0.9M259.5,353.8h0.9M264.9,341.3h0.9M266.9,367.1h0.9M261.0,342.0h0.9M263.4,351.6h0.9M263.6,348.0h0.9M264.7,344.2h0.9M264.2,356.6h0.9M265.7,361.3h0.9M266.9,365.8h0.9M264.8,357.1h0.9M266.3,346.7h0.9M269.0,359.9h0.9M262.4,336.8h0.9M262.3,351.7h0.9M265.8,356.4h0.9M268.7,356.8h0.9M265.0,339.7h0.9M267.0,336.2h0.9M264.0,367.8h0.9M266.7,346.0h0.9M263.3,334.6h0.9M266.1,338.7h0.9M265.5,351.2h0.9M265.5,362.9h0.9M267.7,351.0h0.9M267.0,363.0h0.9M263.4,353.3h0.9M266.6,355.7h0.9M261.0,360.8h0.9M266.9,347.2h0.9M264.4,390.1h0.9M262.9,395.0h0.9M262.3,382.6h0.9M265.1,390.9h0.9M261.9,381.2h0.9M263.9,376.5h0.9M262.0,409.6h0.9M263.5,396.6h0.9M262.5,401.2h0.9M266.1,382.4h0.9M263.9,391.8h0.9M263.8,390.0h0.9M267.3,377.8h0.9M257.3,397.5h0.9M261.2,384.8h0.9M257.6,390.0h0.9M263.6,376.9h0.9M264.6,402.0h0.9M265.0,399.6h0.9M264.2,396.0h0.9M261.7,382.9h0.9M267.5,386.7h0.9M264.3,404.3h0.9M263.0,389.3h0.9M261.1,394.7h0.9M264.5,393.4h0.9M262.5,380.9h0.9M262.6,407.3h0.9M264.0,372.2h0.9M264.1,394.3h0.9M261.8,391.2h0.9M266.3,375.9h0.9M261.4,395.4h0.9M261.1,397.2h0.9M264.2,392.6h0.9M263.8,383.8h0.9M263.7,396.5h0.9M262.7,403.2h0.9M263.6,394.3h0.9M262.3,409.3h0.9M259.9,400.6h0.9M265.2,399.7h0.9M261.3,405.9h0.9M263.0,385.4h0.9M265.2,386.8h0.9M263.6,397.2h0.9M269.6,397.2h0.9M260.5,407.1h0.9M261.9,403.5h0.9M263.7,393.8h0.9M266.5,394.3h0.9M263.0,389.3h0.9M260.4,388.4h0.9M266.1,387.6h0.9M261.5,401.1h0.9M263.1,387.4h0.9M265.5,388.6h0.9M262.1,393.7h0.9M262.5,387.0h0.9M264.6,389.9h0.9M258.2,385.5h0.9M271.0,389.4h0.9M267.6,393.4h0.9M270.1,382.7h0.9M271.0,388.0h0.9M259.9,370.0h0.9M281.2,372.5h0.9M270.0,398.3h0.9M270.1,338.0h0.9M260.4,384.9h0.9M272.5,440.6h0.9M271.5,340.3h0.9M267.6,407.3h0.9M270.7,342.0h0.9M275.9,384.3h0.9M267.9,409.4h0.9M265.1,406.6h0.9M276.3,358.6h0.9M271.0,350.6h0.9M268.8,347.8h0.9M281.2,390.8h0.9M270.5,368.5h0.9M268.9,376.4h0.9M271.1,381.4h0.9M267.7,384.4h0.9M270.8,386.8h0.9M270.5,378.6h0.9M266.4,343.9h0.9M268.4,405.1h0.9M271.3,321.1h0.9M256.1,413.6h0.9M252.4,409.5h0.9M253.2,405.7h0.9M252.5,408.1h0.9M252.8,414.2h0.9M253.5,415.1h0.9M253.0,414.9h0.9M251.4,414.3h0.9M255.3,409.4h0.9M252.4,415.1h0.9M256.3,416.6h0.9M253.3,411.0h0.9M252.2,415.9h0.9M254.4,412.0h0.9M255.4,413.7h0.9M251.7,414.2h0.9M253.0,408.7h0.9M256.4,417.5h0.9M251.6,410.5h0.9M251.9,412.8h0.9M257.3,323.3h0.9M249.4,328.6h0.9M246.6,303.1h0.9M256.6,323.5h0.9M241.8,300.7h0.9" stroke="#50569f" stroke-width="0.9" fill="none" opacity="0.8"/>
<g filter="url(#rough2)"><use href="#blob2" fill="#50569f"/></g>
<g clip-path="url(#cb2)"><g filter="url(#bl2)"><ellipse cx="252.5" cy="346" rx="6" ry="12" fill="#a4a8d8"/><ellipse cx="253.5" cy="390" rx="5.5" ry="11" fill="#a4a8d8"/><rect x="250" y="355" width="6" height="30" fill="#777cbf"/></g><g filter="url(#bl15)"><ellipse cx="252" cy="345" rx="3.6" ry="8.5" fill="#f6f6fb"/><ellipse cx="253" cy="389" rx="3" ry="7" fill="#eeeff8"/></g></g>
<g filter="url(#rough3)"><ellipse cx="298.5" cy="350.5" rx="19.5" ry="7" fill="#e8322c" transform="rotate(-25 298.5 350.5)"/></g>
<path d="M289.7,355.2h1.0M290.2,356.0h1.0M304.7,345.8h1.0M313.0,350.7h1.0M322.5,347.0h1.0M311.4,344.5h1.0M290.8,352.9h1.0M301.1,347.7h1.0M283.2,355.1h1.0M309.7,352.5h1.0M303.3,349.6h1.0M291.6,351.9h1.0M297.3,349.8h1.0M297.4,354.0h1.0M291.2,351.7h1.0M314.0,345.0h1.0M332.6,334.4h1.0M310.8,352.3h1.0M312.9,350.2h1.0M297.7,343.0h1.0M294.8,351.3h1.0M324.4,342.4h1.0M294.0,350.1h1.0M305.0,352.0h1.0M298.4,352.4h1.0M306.7,350.0h1.0M298.3,350.3h1.0M306.1,348.7h1.0M286.3,359.1h1.0M294.7,344.1h1.0M311.9,339.2h1.0M285.6,350.9h1.0M295.3,361.4h1.0M314.5,344.7h1.0M304.2,349.9h1.0M311.0,345.7h1.0M273.5,359.3h1.0M299.0,346.2h1.0M286.9,360.6h1.0M283.0,355.7h1.0M306.8,355.4h1.0M312.3,345.2h1.0M282.9,358.3h1.0M286.4,354.9h1.0M292.4,352.9h1.0M297.6,351.1h1.0M287.7,364.0h1.0M328.5,349.5h1.0M302.9,342.1h1.0M295.5,353.3h1.0M294.8,356.2h1.0M322.3,334.4h1.0M322.0,336.1h1.0M292.6,350.8h1.0M297.6,337.6h1.0M314.0,346.9h1.0M285.9,356.2h1.0M292.3,352.9h1.0M313.8,343.9h1.0M291.8,355.0h1.0M299.0,363.1h1.0M284.5,358.1h1.0M292.3,358.1h1.0M305.2,344.5h1.0M290.6,356.2h1.0M283.9,355.6h1.0M291.6,352.9h1.0M316.2,337.3h1.0M299.0,345.8h1.0M293.6,355.4h1.0M302.0,353.1h1.0M304.5,350.3h1.0M298.6,346.8h1.0M279.6,361.1h1.0M296.6,337.4h1.0M298.4,355.9h1.0M307.8,346.0h1.0M284.5,358.6h1.0M312.6,350.4h1.0M292.3,351.1h1.0M282.0,363.6h1.0M312.3,341.7h1.0M294.1,355.6h1.0M301.8,346.8h1.0M297.5,352.8h1.0M313.6,351.6h1.0M309.3,342.0h1.0M309.5,342.1h1.0M305.7,345.4h1.0M281.5,360.2h1.0M286.0,371.7h1.0M299.5,346.9h1.0M283.8,346.2h1.0M302.3,345.3h1.0M297.0,342.6h1.0M281.9,355.3h1.0M287.2,356.0h1.0M284.1,352.1h1.0M287.4,352.1h1.0M292.3,343.2h1.0M306.4,348.0h1.0M311.6,340.4h1.0M290.2,360.5h1.0M294.6,358.3h1.0M313.7,338.7h1.0M307.6,344.4h1.0M301.2,349.7h1.0M274.4,366.1h1.0M283.9,348.2h1.0M300.1,349.5h1.0M296.0,362.2h1.0M320.2,340.1h1.0M300.0,351.2h1.0M301.7,349.2h1.0M284.0,350.9h1.0M289.1,360.3h1.0M291.8,355.3h1.0M292.0,354.6h1.0M297.5,355.2h1.0M304.3,352.4h1.0M297.1,340.9h1.0M310.6,347.8h1.0M282.5,355.0h1.0M301.2,350.4h1.0M299.7,346.2h1.0M314.2,338.6h1.0M298.2,356.2h1.0M302.1,349.0h1.0M289.0,353.6h1.0M302.6,347.3h1.0M303.1,349.1h1.0M291.6,353.9h1.0M288.7,342.2h1.0M296.4,347.0h1.0M304.4,346.7h1.0M287.5,360.0h1.0M311.2,352.4h1.0M293.0,348.2h1.0M323.6,349.9h1.0M314.8,343.7h1.0M295.2,355.1h1.0M290.6,351.6h1.0M324.3,335.5h1.0M308.6,354.1h1.0M304.4,346.9h1.0M293.7,352.5h1.0M299.6,356.8h1.0M311.1,354.5h1.0M302.2,340.9h1.0M289.1,354.3h1.0M312.3,344.4h1.0M305.9,357.5h1.0M293.4,367.0h1.0M309.5,345.6h1.0M297.5,353.5h1.0M309.1,350.8h1.0M295.0,359.0h1.0M302.0,347.6h1.0M282.6,363.1h1.0M301.3,345.8h1.0M276.3,346.6h1.0M297.6,343.8h1.0M271.3,364.9h1.0M299.6,354.8h1.0M301.8,337.0h1.0M300.2,340.3h1.0M311.8,344.7h1.0M279.8,341.1h1.0M317.1,345.5h1.0M318.5,347.5h1.0M279.2,343.6h1.0M291.6,358.6h1.0M292.0,353.1h1.0M301.5,357.6h1.0M301.4,351.4h1.0M271.1,362.6h1.0M305.5,348.6h1.0M297.9,356.7h1.0M288.0,357.2h1.0M309.2,346.4h1.0M291.9,346.3h1.0M312.2,347.5h1.0M304.7,348.5h1.0M299.1,361.1h1.0M311.6,345.1h1.0M307.4,346.6h1.0M291.9,350.9h1.0M282.6,362.7h1.0M292.3,353.0h1.0M304.0,344.8h1.0M299.5,359.7h1.0M321.9,350.2h1.0M300.7,347.8h1.0M298.7,345.5h1.0M305.6,354.2h1.0M287.3,351.9h1.0M303.4,364.6h1.0M291.2,354.0h1.0M275.0,367.6h1.0M276.5,354.4h1.0M306.8,347.3h1.0M296.2,358.4h1.0M298.4,353.8h1.0M281.4,356.3h1.0M297.5,365.4h1.0M308.9,350.6h1.0M299.3,349.7h1.0M291.8,351.1h1.0M315.0,342.2h1.0M301.0,357.7h1.0M293.3,349.5h1.0M311.4,345.5h1.0M278.0,356.4h1.0M307.5,354.1h1.0M286.2,356.2h1.0M292.0,359.2h1.0M292.5,357.3h1.0M298.9,347.9h1.0M301.4,353.9h1.0M304.1,354.0h1.0M298.6,344.9h1.0M315.6,347.3h1.0M324.9,358.8h1.0M305.9,346.3h1.0M308.4,350.3h1.0M291.8,347.1h1.0M287.7,358.9h1.0M304.0,345.5h1.0M300.8,354.5h1.0M308.1,346.6h1.0M276.3,355.2h1.0M330.5,342.6h1.0M284.4,356.7h1.0M297.0,346.4h1.0M309.8,346.5h1.0M281.6,353.9h1.0M293.6,355.9h1.0M276.5,361.3h1.0M282.3,356.8h1.0M279.0,364.2h1.0M277.7,360.6h1.0M308.5,359.2h1.0M268.4,363.0h1.0M310.7,340.8h1.0M294.1,349.8h1.0M291.2,359.0h1.0M278.3,341.6h1.0M302.5,358.9h1.0M293.3,360.7h1.0M285.1,338.8h1.0M310.1,361.2h1.0M284.2,346.2h1.0M290.6,356.2h1.0M302.7,363.8h1.0M302.7,339.4h1.0M287.0,343.2h1.0M292.9,347.4h1.0M291.6,348.2h1.0M302.8,352.3h1.0M311.0,345.9h1.0M281.1,357.0h1.0M291.0,353.5h1.0M292.9,355.4h1.0M298.9,347.4h1.0M313.5,352.4h1.0M293.8,356.7h1.0M293.8,347.8h1.0M313.1,365.5h1.0M275.1,352.4h1.0M286.6,365.7h1.0M286.4,352.9h1.0M294.9,359.4h1.0M298.3,359.6h1.0M290.0,365.6h1.0M319.6,359.7h1.0M282.9,353.4h1.0M299.5,379.5h1.0M308.6,354.9h1.0M301.3,347.0h1.0M290.1,346.4h1.0M305.2,373.1h1.0M308.7,365.7h1.0M293.8,356.7h1.0M304.2,359.8h1.0M286.3,371.1h1.0M295.2,357.3h1.0M272.5,361.0h1.0M282.8,360.6h1.0M282.2,368.5h1.0M309.5,351.5h1.0M284.8,349.6h1.0M299.7,361.4h1.0M277.6,347.9h1.0M289.3,352.1h1.0M293.9,367.7h1.0M284.0,362.7h1.0M305.2,354.9h1.0M273.6,365.3h1.0M304.5,362.1h1.0M326.7,344.6h1.0M278.2,345.7h1.0M294.9,358.7h1.0M265.9,340.5h1.0M287.7,341.4h1.0M276.6,377.0h1.0M304.3,362.2h1.0M286.2,355.7h1.0M270.4,364.8h1.0M277.7,363.6h1.0M276.6,372.0h1.0M276.7,379.4h1.0M280.2,361.6h1.0M308.0,362.6h1.0M315.1,348.7h1.0M323.9,387.5h1.0M275.3,396.3h1.0M285.1,352.5h1.0M277.0,372.0h1.0" stroke="#e8322c" stroke-width="1.0" fill="none" opacity="0.95"/>
</g>
<g clip-path="url(#cB3)">
<path d="M412.7,351.2h1.0M413.4,360.5h1.0M413.8,374.5h1.0M408.5,384.6h1.0M410.8,362.9h1.0M415.9,365.3h1.0M410.6,367.2h1.0M414.4,367.7h1.0M415.1,357.2h1.0M407.7,363.7h1.0M414.3,372.2h1.0M413.1,370.8h1.0M413.4,369.7h1.0M415.5,356.4h1.0M412.4,362.3h1.0M411.4,360.2h1.0M412.8,383.0h1.0M410.3,388.3h1.0M412.5,373.9h1.0M406.0,390.1h1.0M415.6,365.6h1.0M409.8,365.7h1.0M412.6,352.7h1.0M412.0,372.4h1.0M411.5,363.6h1.0M411.5,370.7h1.0M411.4,375.8h1.0M407.0,366.4h1.0M409.8,355.0h1.0M414.2,368.9h1.0M408.6,368.6h1.0M408.5,369.9h1.0M416.6,378.2h1.0M414.3,366.8h1.0M415.2,366.1h1.0M411.1,391.9h1.0M411.9,383.4h1.0M413.1,368.4h1.0M412.6,357.5h1.0M411.0,363.9h1.0M407.4,374.5h1.0M409.3,380.5h1.0M407.3,400.7h1.0M415.2,366.5h1.0M410.1,371.7h1.0M410.7,365.2h1.0M411.9,370.8h1.0M411.2,364.9h1.0M412.5,356.0h1.0M409.6,383.0h1.0M407.3,371.5h1.0M415.6,386.4h1.0M409.3,363.4h1.0M409.9,373.3h1.0M409.1,378.4h1.0M409.7,345.8h1.0M411.2,353.0h1.0M413.0,379.6h1.0M408.4,371.3h1.0M411.8,346.4h1.0M409.4,360.5h1.0M414.2,356.5h1.0M408.0,363.8h1.0M411.4,389.9h1.0M412.9,362.7h1.0M407.6,396.1h1.0M411.4,366.9h1.0M411.5,360.7h1.0M409.1,390.3h1.0M410.5,382.3h1.0M413.6,387.9h1.0M411.7,395.2h1.0M410.0,383.9h1.0M410.5,385.9h1.0M412.2,348.2h1.0M414.3,359.7h1.0M413.1,376.0h1.0M412.9,373.0h1.0M415.0,379.6h1.0M407.2,364.3h1.0M407.4,384.7h1.0M405.3,396.4h1.0M413.2,378.0h1.0M405.3,381.3h1.0M410.9,377.0h1.0M412.9,382.5h1.0M407.5,373.3h1.0M409.4,364.1h1.0M410.4,373.1h1.0M412.9,372.0h1.0M407.2,351.0h1.0M411.8,373.6h1.0M412.8,371.0h1.0M411.4,373.3h1.0M411.4,363.6h1.0M414.2,376.8h1.0M411.6,378.6h1.0M411.0,361.5h1.0M410.2,374.8h1.0M412.7,380.6h1.0M410.3,380.2h1.0M412.7,358.7h1.0M411.3,357.4h1.0M413.9,370.8h1.0M409.0,357.0h1.0M411.2,402.6h1.0M411.9,360.0h1.0M412.1,360.1h1.0M413.9,378.6h1.0M412.0,364.2h1.0M413.3,340.1h1.0M415.9,368.3h1.0M413.1,357.4h1.0M408.4,363.3h1.0M407.4,349.2h1.0M412.7,358.3h1.0M410.1,367.7h1.0M411.7,368.8h1.0M410.6,355.4h1.0M414.3,360.5h1.0M414.0,358.7h1.0M408.2,371.4h1.0M411.7,367.6h1.0M410.3,353.4h1.0M407.7,377.7h1.0M412.6,360.4h1.0M410.6,374.4h1.0M412.1,357.6h1.0M417.2,373.2h1.0M414.3,367.8h1.0M413.8,370.0h1.0M410.0,375.7h1.0M408.0,374.9h1.0M414.1,371.4h1.0M410.2,371.4h1.0M411.1,352.9h1.0M410.1,368.4h1.0M411.3,341.1h1.0M417.0,340.5h1.0M410.2,365.2h1.0M410.3,366.4h1.0M411.5,388.4h1.0M411.7,377.8h1.0M408.0,383.5h1.0M406.6,365.3h1.0M409.5,375.0h1.0M410.5,384.2h1.0M409.0,376.1h1.0M408.5,373.9h1.0M408.6,370.7h1.0M410.0,357.6h1.0M410.7,358.0h1.0M406.9,351.1h1.0M409.6,374.7h1.0M411.8,366.0h1.0M410.6,360.9h1.0M407.5,374.1h1.0M410.1,362.2h1.0M410.9,383.0h1.0M412.9,394.1h1.0M406.9,375.4h1.0M412.6,360.8h1.0M409.8,350.5h1.0M411.4,395.5h1.0M412.6,375.5h1.0M408.8,354.6h1.0M408.9,383.5h1.0M410.6,348.3h1.0M412.7,364.0h1.0M409.6,366.6h1.0M414.8,349.2h1.0M411.3,358.6h1.0M427.1,361.5h1.0M414.6,385.2h1.0M418.1,366.3h1.0M416.6,356.9h1.0M409.3,386.3h1.0M414.0,376.8h1.0M417.3,377.8h1.0M420.6,365.2h1.0M414.9,389.7h1.0M418.1,372.6h1.0M414.9,352.3h1.0M419.0,361.5h1.0M405.4,364.7h1.0M419.1,372.2h1.0M413.7,382.4h1.0M413.8,366.0h1.0M403.7,367.4h1.0M411.7,398.2h1.0M419.2,374.9h1.0M426.7,368.2h1.0M413.3,374.4h1.0M413.5,360.2h1.0M418.6,379.9h1.0M417.7,384.7h1.0M413.8,367.6h1.0M415.7,385.0h1.0M414.7,370.8h1.0M419.2,377.2h1.0M420.0,365.8h1.0M424.3,365.2h1.0M420.6,357.5h1.0M419.4,376.4h1.0M417.2,370.9h1.0M420.7,371.2h1.0M412.1,361.6h1.0M426.1,361.2h1.0M417.7,367.0h1.0M422.8,379.2h1.0M412.9,377.3h1.0M421.1,366.5h1.0M418.3,377.2h1.0M415.7,393.3h1.0M413.5,375.2h1.0M412.6,396.2h1.0M424.5,378.8h1.0M422.0,388.6h1.0M417.0,368.2h1.0M417.4,386.9h1.0M413.2,361.0h1.0M408.3,376.7h1.0M408.5,370.3h1.0M413.8,352.0h1.0M415.8,359.0h1.0M411.2,386.4h1.0M420.1,379.4h1.0M418.8,388.2h1.0M417.2,376.1h1.0M408.6,342.1h1.0M415.5,376.7h1.0M416.4,367.7h1.0M410.8,368.4h1.0M406.7,369.0h1.0M425.1,365.5h1.0M419.3,363.4h1.0M414.8,387.6h1.0M423.7,378.9h1.0M421.5,366.8h1.0M418.5,369.3h1.0M417.5,384.7h1.0M420.0,378.1h1.0M423.1,376.1h1.0M416.8,360.5h1.0M415.5,369.2h1.0M419.1,361.5h1.0M403.8,352.9h1.0M416.9,383.8h1.0M414.7,370.3h1.0M416.4,369.4h1.0M415.7,363.4h1.0M418.0,382.2h1.0M417.0,396.9h1.0M416.8,380.4h1.0M415.9,384.1h1.0M418.5,360.2h1.0M414.2,375.8h1.0M420.9,376.3h1.0M408.9,390.3h1.0M417.4,374.0h1.0M418.5,363.5h1.0M410.8,373.2h1.0M414.6,369.1h1.0M422.5,389.8h1.0M415.9,381.2h1.0M412.5,377.7h1.0M403.1,375.9h1.0M418.0,383.2h1.0M417.0,368.5h1.0M419.2,363.8h1.0M425.7,353.2h1.0M416.5,386.9h1.0M417.1,379.4h1.0M413.4,380.9h1.0M416.2,374.3h1.0M416.4,392.2h1.0M419.9,363.1h1.0M419.0,387.1h1.0M413.1,364.6h1.0M414.4,368.9h1.0M422.7,360.5h1.0M412.2,374.8h1.0M419.9,370.6h1.0M423.8,378.6h1.0M419.4,367.4h1.0M417.6,358.5h1.0M422.6,380.0h1.0M418.1,388.0h1.0M416.5,381.9h1.0M415.6,373.2h1.0M421.7,378.2h1.0M419.6,355.1h1.0M423.5,370.1h1.0M415.0,386.5h1.0M415.1,378.8h1.0M414.5,364.4h1.0M417.8,383.2h1.0M413.4,372.3h1.0M420.7,381.8h1.0M418.0,358.3h1.0M412.1,367.9h1.0M403.2,377.3h1.0M408.3,377.1h1.0M423.0,379.8h1.0M416.2,373.6h1.0M417.2,371.6h1.0M414.6,378.9h1.0M418.3,383.3h1.0M407.8,357.1h1.0M407.5,370.2h1.0M409.1,371.5h1.0M416.8,375.5h1.0M419.7,384.9h1.0M418.6,359.2h1.0M415.9,379.6h1.0M410.7,354.7h1.0M420.1,365.5h1.0M415.2,368.0h1.0M416.4,370.8h1.0M416.2,367.0h1.0M414.4,368.1h1.0M413.2,370.0h1.0M413.8,370.8h1.0M410.7,353.5h1.0M417.6,358.4h1.0M415.7,369.0h1.0M421.1,379.5h1.0M408.3,384.8h1.0M421.8,405.0h1.0M416.2,374.9h1.0M415.7,365.1h1.0M412.9,375.7h1.0M412.8,381.2h1.0M409.8,375.3h1.0M420.5,362.2h1.0M415.5,372.7h1.0M419.7,373.3h1.0M420.2,358.3h1.0M414.2,360.5h1.0M415.4,386.9h1.0M414.9,349.4h1.0M421.1,375.6h1.0M417.1,370.9h1.0M417.2,389.0h1.0M419.7,380.5h1.0M416.1,364.3h1.0M425.7,387.6h1.0M412.3,367.6h1.0M422.1,395.6h1.0M422.8,391.9h1.0M411.4,372.9h1.0M420.4,382.3h1.0M417.8,375.8h1.0M420.4,363.9h1.0M411.1,385.4h1.0M417.6,378.5h1.0M412.1,383.1h1.0M415.0,385.5h1.0M422.9,389.3h1.0M415.9,385.2h1.0M425.3,386.9h1.0M426.5,388.8h1.0M428.8,405.8h1.0M425.1,387.9h1.0M424.3,397.9h1.0M438.9,386.5h1.0M429.3,375.8h1.0M439.1,385.4h1.0M420.6,367.3h1.0M425.7,382.6h1.0M422.9,378.8h1.0M423.3,368.5h1.0M424.0,393.3h1.0M425.1,392.2h1.0M423.0,385.0h1.0M438.5,388.9h1.0M430.7,397.9h1.0M420.8,378.6h1.0M422.2,365.3h1.0M431.1,369.6h1.0M429.8,387.6h1.0M421.8,382.5h1.0M432.4,363.8h1.0M416.1,394.4h1.0M422.7,382.4h1.0M438.0,397.6h1.0M407.9,392.4h1.0M424.6,375.3h1.0M432.8,381.1h1.0M425.0,372.1h1.0M420.6,370.9h1.0M419.8,376.8h1.0M411.6,385.5h1.0M416.8,395.0h1.0M426.4,370.4h1.0M422.0,387.8h1.0M425.9,380.6h1.0M425.0,377.7h1.0M428.0,392.5h1.0M414.5,376.3h1.0M423.9,395.2h1.0M423.6,376.6h1.0M423.8,370.2h1.0M419.8,388.6h1.0M410.8,364.3h1.0M396.7,411.6h1.0M398.7,405.6h1.0M399.1,407.8h1.0M398.5,410.6h1.0M395.1,410.3h1.0M396.4,406.5h1.0M400.1,406.9h1.0M400.1,410.2h1.0M397.1,406.5h1.0M399.6,409.7h1.0M399.5,411.4h1.0M401.1,409.1h1.0M397.6,402.4h1.0M402.0,412.0h1.0M398.5,411.9h1.0M401.9,412.6h1.0M400.9,411.2h1.0M397.1,404.9h1.0M398.4,412.6h1.0M399.6,409.9h1.0" stroke="#454b9a" stroke-width="1.0" fill="none" opacity="0.9"/>
<g filter="url(#rough2)"><use href="#blob3" fill="#50569f"/></g>
<g clip-path="url(#cb3)"><g filter="url(#bl2)"><ellipse cx="398.5" cy="370" rx="7" ry="27" fill="#a4a8d8"/></g><g filter="url(#bl15)"><ellipse cx="398.5" cy="365" rx="4" ry="16" fill="#f8f8fc"/></g></g>
<g filter="url(#rough3)"><ellipse cx="456" cy="362.5" rx="12.5" ry="7.2" fill="#e8322c" transform="rotate(-40 456 362.5)"/></g>
<path d="M464.0,360.0h1.0M453.2,360.7h1.0M456.8,366.0h1.0M454.1,362.8h1.0M471.1,360.3h1.0M452.6,354.6h1.0M453.0,361.0h1.0M446.5,366.6h1.0M459.6,360.6h1.0M456.0,362.0h1.0M452.3,355.7h1.0M456.5,350.4h1.0M461.4,359.5h1.0M461.1,368.0h1.0M462.3,366.9h1.0M455.7,360.5h1.0M462.2,360.6h1.0M457.8,355.7h1.0M452.7,356.3h1.0M455.0,371.5h1.0M463.7,360.8h1.0M460.8,356.6h1.0M448.7,366.6h1.0M461.7,364.0h1.0M455.0,365.7h1.0M442.0,372.5h1.0M457.0,363.8h1.0M462.1,357.6h1.0M450.6,364.8h1.0M449.8,363.5h1.0M465.5,360.8h1.0M448.1,366.4h1.0M446.9,362.9h1.0M460.1,371.0h1.0M464.1,364.1h1.0M461.8,361.3h1.0M452.9,365.0h1.0M455.1,364.9h1.0M452.3,356.7h1.0M453.9,364.5h1.0M451.9,368.1h1.0M449.0,367.4h1.0M462.0,360.6h1.0M452.5,360.8h1.0M474.4,348.6h1.0M455.1,353.5h1.0M451.6,366.3h1.0M454.4,360.2h1.0M454.2,355.8h1.0M457.5,359.0h1.0M459.1,360.3h1.0M457.2,358.0h1.0M458.4,366.7h1.0M458.0,356.6h1.0M472.6,354.9h1.0M455.9,367.5h1.0M452.0,362.2h1.0M465.1,364.3h1.0M459.6,351.0h1.0M462.9,360.3h1.0M463.9,356.5h1.0M458.4,365.7h1.0M449.9,357.8h1.0M456.5,354.7h1.0M457.7,355.9h1.0M466.5,354.0h1.0M466.0,354.8h1.0M445.1,371.9h1.0M460.1,357.5h1.0M449.9,363.3h1.0M439.0,368.1h1.0M457.2,358.9h1.0M456.8,365.3h1.0M457.2,368.1h1.0M446.7,367.2h1.0M453.3,371.7h1.0M450.6,358.5h1.0M449.5,373.1h1.0M452.0,359.0h1.0M457.6,362.8h1.0M452.2,359.7h1.0M454.9,357.3h1.0M454.0,360.8h1.0M453.5,373.8h1.0M447.7,365.3h1.0M458.9,364.1h1.0M462.5,358.1h1.0M458.0,362.9h1.0M454.0,366.3h1.0M459.1,364.0h1.0M441.3,367.3h1.0M450.1,367.8h1.0M454.9,365.8h1.0M453.8,360.7h1.0M455.2,365.5h1.0M451.2,360.1h1.0M451.1,371.3h1.0M450.3,362.8h1.0M456.7,360.2h1.0M447.3,374.9h1.0M452.1,372.7h1.0M452.1,362.2h1.0M463.1,352.6h1.0M463.3,362.8h1.0M456.5,343.7h1.0M468.4,360.7h1.0M457.4,369.7h1.0M452.3,358.9h1.0M452.6,373.0h1.0M464.4,357.9h1.0M461.9,360.5h1.0M452.4,350.8h1.0M458.5,357.3h1.0M458.2,359.5h1.0M456.0,359.9h1.0M456.5,359.7h1.0M462.5,355.3h1.0M442.2,355.8h1.0M449.0,367.1h1.0M453.9,359.9h1.0M462.8,356.2h1.0M455.9,359.4h1.0M454.8,363.6h1.0M462.0,359.3h1.0M462.3,368.6h1.0M441.8,369.2h1.0M455.2,374.0h1.0M442.5,372.3h1.0M451.9,360.3h1.0M448.8,359.4h1.0M461.4,363.5h1.0M464.2,346.0h1.0M455.3,369.0h1.0M457.2,363.8h1.0M451.9,362.3h1.0M436.8,374.4h1.0M452.9,368.2h1.0M452.1,366.8h1.0M460.1,363.9h1.0M450.9,366.8h1.0M446.5,367.2h1.0M461.3,361.5h1.0M451.9,358.3h1.0M453.2,370.2h1.0M451.6,366.6h1.0M450.7,359.8h1.0M457.8,354.5h1.0M463.7,354.0h1.0M442.3,362.3h1.0M467.5,361.7h1.0M459.4,365.8h1.0M454.8,356.5h1.0M461.6,357.1h1.0M455.5,373.8h1.0M462.6,359.6h1.0M444.9,365.3h1.0M446.4,356.7h1.0M445.7,360.6h1.0M470.1,358.3h1.0M467.1,355.3h1.0M456.5,353.6h1.0M461.4,362.5h1.0M451.7,363.8h1.0M464.6,351.0h1.0M462.9,353.3h1.0M460.1,356.1h1.0M460.7,369.3h1.0M451.0,360.6h1.0M454.3,361.3h1.0M468.4,360.7h1.0M455.1,372.9h1.0M453.7,358.1h1.0M472.6,361.9h1.0M465.0,362.1h1.0M462.0,347.9h1.0M464.4,367.1h1.0M454.1,354.6h1.0M466.7,357.9h1.0M456.5,354.7h1.0M452.6,353.9h1.0M455.8,368.2h1.0M448.5,371.5h1.0M465.0,354.4h1.0M454.3,365.2h1.0M451.4,365.7h1.0M460.7,356.9h1.0M447.4,362.8h1.0M449.9,371.4h1.0M452.9,365.3h1.0M455.1,361.7h1.0M456.1,358.7h1.0M458.5,358.6h1.0M457.3,351.6h1.0M454.6,361.7h1.0M455.4,356.7h1.0M459.7,367.7h1.0M449.4,361.9h1.0M457.3,358.5h1.0M458.5,360.5h1.0M470.1,355.8h1.0M454.5,369.7h1.0M453.9,378.4h1.0M475.8,369.6h1.0M444.0,361.9h1.0M443.9,354.3h1.0M475.0,355.6h1.0M441.6,376.9h1.0M462.3,372.3h1.0M459.0,377.9h1.0M434.6,374.1h1.0M453.4,391.4h1.0M459.1,369.5h1.0M428.4,366.2h1.0M452.6,380.5h1.0M460.1,369.1h1.0M449.1,375.5h1.0M445.4,358.2h1.0M442.3,373.3h1.0M444.8,376.7h1.0M443.5,374.2h1.0M449.8,379.3h1.0M461.6,378.3h1.0M457.6,383.4h1.0M474.3,371.0h1.0M454.6,367.9h1.0M460.3,383.8h1.0M472.4,361.8h1.0M452.8,379.2h1.0M441.3,374.5h1.0M445.2,360.4h1.0M429.6,360.4h1.0M455.7,370.6h1.0M459.9,359.3h1.0M456.0,368.5h1.0M450.2,381.2h1.0M441.8,361.0h1.0M446.7,355.7h1.0M462.3,367.6h1.0M447.9,377.0h1.0M444.9,372.2h1.0M458.0,362.0h1.0M445.0,358.5h1.0M452.9,369.5h1.0M451.3,363.6h1.0M444.6,379.6h1.0M452.9,380.2h1.0M457.6,361.9h1.0M450.4,376.1h1.0M449.0,374.5h1.0M456.0,375.8h1.0M460.6,381.8h1.0M477.0,363.2h1.0M445.6,381.9h1.0M454.9,377.4h1.0M467.2,357.7h1.0M450.4,371.8h1.0M455.2,372.6h1.0M441.9,389.5h1.0M465.1,376.7h1.0M468.5,384.8h1.0M452.9,359.1h1.0M448.2,372.7h1.0M445.9,356.6h1.0M447.0,368.2h1.0M450.8,354.6h1.0M455.2,381.1h1.0M460.9,373.5h1.0M432.6,371.0h1.0M448.5,376.4h1.0M426.4,393.3h1.0M456.5,386.3h1.0M461.1,374.2h1.0M448.2,374.4h1.0M471.9,358.4h1.0M443.5,382.3h1.0M448.2,376.2h1.0M439.2,373.3h1.0M439.9,365.3h1.0M450.4,382.7h1.0M432.9,374.5h1.0M439.6,375.2h1.0M472.9,367.1h1.0M447.3,373.0h1.0M463.8,375.8h1.0M433.0,370.2h1.0M452.4,378.5h1.0M449.2,358.8h1.0M441.7,361.3h1.0M440.5,366.7h1.0M448.8,373.9h1.0M477.4,383.6h1.0M442.4,377.8h1.0M461.7,385.7h1.0M480.6,357.9h1.0M425.8,375.7h1.0M455.7,360.4h1.0" stroke="#e8322c" stroke-width="1.0" fill="none" opacity="0.95"/>
</g>
<g clip-path="url(#cB4)">
<path d="M93.5,495.9h1.1M131.2,491.6h1.1M96.2,488.7h1.1M136.3,492.7h1.1M122.0,494.8h1.1M111.1,489.4h1.1M142.3,490.7h1.1M141.1,487.9h1.1M36.7,487.0h1.1M115.5,494.4h1.1M129.2,499.6h1.1M139.7,489.1h1.1M108.8,486.9h1.1M90.8,494.5h1.1M128.8,493.6h1.1M145.4,492.2h1.1M63.6,494.7h1.1M80.2,490.2h1.1M107.5,491.7h1.1M47.7,493.0h1.1M107.2,490.2h1.1M149.6,492.2h1.1M93.2,490.4h1.1M129.1,492.1h1.1M98.5,491.4h1.1M137.6,486.0h1.1M144.4,491.2h1.1M163.9,487.4h1.1M127.2,488.9h1.1M156.4,486.8h1.1M137.0,493.0h1.1M110.8,490.2h1.1M169.1,490.0h1.1M107.1,494.1h1.1M130.0,492.8h1.1M198.1,490.5h1.1M150.9,485.8h1.1M100.4,492.6h1.1M133.8,490.3h1.1M108.4,490.1h1.1M120.6,492.8h1.1M80.0,489.4h1.1M131.5,490.8h1.1M78.5,493.2h1.1M136.0,492.4h1.1M136.1,489.5h1.1M150.3,494.6h1.1M191.6,493.9h1.1M75.4,495.7h1.1M89.2,490.9h1.1M95.1,491.5h1.1M108.0,493.6h1.1M151.3,492.1h1.1M114.9,491.3h1.1M107.4,490.7h1.1M91.2,490.2h1.1M106.1,489.4h1.1M111.8,489.4h1.1M121.8,492.0h1.1M82.0,490.2h1.1M122.6,487.5h1.1M141.9,491.1h1.1M135.3,495.1h1.1M87.6,494.4h1.1M149.5,486.0h1.1M149.0,488.9h1.1M133.9,492.9h1.1M88.2,491.2h1.1M80.8,491.2h1.1M126.1,490.7h1.1M94.1,491.2h1.1M84.9,488.5h1.1M151.6,494.0h1.1M152.2,488.4h1.1M144.2,490.7h1.1M164.2,494.8h1.1M151.9,493.7h1.1M90.3,491.0h1.1M159.3,491.0h1.1M128.5,489.5h1.1M138.2,489.8h1.1M171.9,490.4h1.1M138.2,494.4h1.1M172.1,489.9h1.1M126.6,492.4h1.1M113.5,492.1h1.1M103.8,492.0h1.1M120.9,490.3h1.1M74.6,492.9h1.1M123.1,491.4h1.1M121.3,491.3h1.1M108.9,489.9h1.1M58.1,485.7h1.1M60.6,492.9h1.1M146.1,492.9h1.1M96.2,489.8h1.1M166.1,490.6h1.1M103.5,491.8h1.1M135.7,488.6h1.1M81.6,492.8h1.1M105.8,492.8h1.1M118.4,493.2h1.1M142.4,493.4h1.1M175.4,486.3h1.1M153.9,492.4h1.1M81.4,490.0h1.1M125.2,493.8h1.1M119.9,493.7h1.1M105.9,493.1h1.1M142.6,490.9h1.1M172.3,498.0h1.1M111.3,490.9h1.1M158.5,488.5h1.1M166.9,493.5h1.1M93.1,487.5h1.1M178.2,495.9h1.1M175.6,493.6h1.1M133.9,494.4h1.1M176.3,493.7h1.1M132.5,492.1h1.1M159.6,487.8h1.1M144.6,489.6h1.1M99.1,492.5h1.1M132.9,490.6h1.1M120.0,492.0h1.1M110.2,489.4h1.1M90.4,489.2h1.1M101.6,491.8h1.1M88.0,492.9h1.1M159.2,491.1h1.1M66.2,488.7h1.1M127.3,487.0h1.1M106.7,496.1h1.1M87.5,488.3h1.1M146.8,488.9h1.1M101.1,489.3h1.1M161.3,493.3h1.1M119.7,489.2h1.1M135.0,492.4h1.1M121.1,491.8h1.1M144.5,488.2h1.1M153.2,491.5h1.1M111.5,488.0h1.1M124.7,490.7h1.1M177.8,492.9h1.1M107.8,490.5h1.1M179.3,488.8h1.1M113.2,490.0h1.1M108.3,490.6h1.1M74.4,491.9h1.1M99.6,485.4h1.1M72.7,486.5h1.1M107.8,492.2h1.1M145.8,490.7h1.1M123.2,491.0h1.1M106.9,491.5h1.1M94.2,490.6h1.1M104.4,489.9h1.1M81.3,491.3h1.1M86.9,492.6h1.1M178.5,520.2h1.1M177.1,528.3h1.1M172.3,513.1h1.1M178.0,528.4h1.1M171.8,521.0h1.1M174.0,521.0h1.1M177.6,514.8h1.1M177.5,524.9h1.1M181.8,509.3h1.1M180.9,522.8h1.1M179.1,526.4h1.1M175.5,510.1h1.1M176.9,507.5h1.1M175.9,509.3h1.1M184.7,515.8h1.1M179.0,519.5h1.1M174.1,524.2h1.1M173.2,533.5h1.1M182.5,531.0h1.1M173.1,518.7h1.1M178.6,512.7h1.1M177.8,505.2h1.1M181.7,523.7h1.1M173.1,520.9h1.1M179.0,513.7h1.1M177.9,514.7h1.1M180.5,515.1h1.1M183.0,492.7h1.1M177.5,515.7h1.1M176.0,519.2h1.1M180.9,515.1h1.1M170.7,506.5h1.1M177.8,516.6h1.1M172.6,520.6h1.1M171.6,532.6h1.1M170.0,525.9h1.1M169.7,521.6h1.1M180.7,515.7h1.1M180.9,504.0h1.1M177.5,511.9h1.1M181.6,503.8h1.1M177.2,515.3h1.1M174.8,525.9h1.1M172.2,525.8h1.1M180.4,524.5h1.1M180.7,516.4h1.1M182.6,525.3h1.1M173.5,513.7h1.1M175.8,498.4h1.1M171.1,517.5h1.1M182.1,516.6h1.1M180.2,500.3h1.1M179.3,511.4h1.1M177.0,493.9h1.1M176.4,511.9h1.1M175.4,527.2h1.1M181.9,510.3h1.1M174.3,528.2h1.1M181.0,518.3h1.1M178.4,509.5h1.1M172.6,500.0h1.1M170.7,523.1h1.1M173.6,522.3h1.1M176.9,502.7h1.1M171.3,512.4h1.1M179.9,526.3h1.1M182.1,509.4h1.1M179.5,519.8h1.1M169.6,498.4h1.1M166.6,507.8h1.1M181.0,522.8h1.1M183.7,505.4h1.1M175.3,503.1h1.1M179.4,503.5h1.1M175.9,512.8h1.1M174.2,501.8h1.1M181.5,515.2h1.1M174.6,521.3h1.1M180.9,530.2h1.1M184.8,512.6h1.1M176.5,530.9h1.1M185.4,521.3h1.1M171.2,514.2h1.1M181.2,520.9h1.1M177.1,530.0h1.1M188.5,529.8h1.1M177.3,523.1h1.1M173.5,515.4h1.1M184.3,523.8h1.1M170.3,518.2h1.1M179.1,517.7h1.1M173.7,518.6h1.1M183.3,532.7h1.1M176.6,505.3h1.1M180.9,515.5h1.1M176.9,506.2h1.1M172.2,524.1h1.1M167.5,526.3h1.1M185.1,528.6h1.1M178.1,513.0h1.1M171.9,516.7h1.1M175.7,523.2h1.1M181.5,517.9h1.1M170.4,518.9h1.1M187.2,518.0h1.1M176.0,518.7h1.1M175.4,515.2h1.1M182.8,520.3h1.1M178.0,502.9h1.1M172.6,512.4h1.1M181.2,504.1h1.1M179.1,515.5h1.1M182.1,509.6h1.1M172.9,521.1h1.1M172.0,527.7h1.1M179.9,505.0h1.1M175.1,509.2h1.1M167.4,519.3h1.1M174.4,529.4h1.1M179.9,523.3h1.1M173.8,520.3h1.1M182.8,515.7h1.1M174.8,512.2h1.1M176.6,519.8h1.1M169.7,520.8h1.1M173.4,517.7h1.1M176.2,511.0h1.1M179.6,501.7h1.1M177.9,508.5h1.1M181.8,512.8h1.1M167.2,505.7h1.1M177.1,519.2h1.1M176.4,503.3h1.1M172.3,513.5h1.1M176.8,519.4h1.1M173.7,523.7h1.1M178.9,518.5h1.1M175.4,527.2h1.1M179.3,510.9h1.1M172.9,509.2h1.1M182.7,526.2h1.1M178.8,508.2h1.1M185.0,514.8h1.1M176.4,500.5h1.1M174.7,526.4h1.1M177.6,522.8h1.1M174.9,509.4h1.1M172.3,500.4h1.1M177.1,518.5h1.1M176.7,518.7h1.1M174.1,526.8h1.1M175.3,533.1h1.1M172.6,518.4h1.1M177.7,514.2h1.1M171.0,514.1h1.1M184.6,513.5h1.1M177.1,503.8h1.1M181.2,508.1h1.1M171.6,515.4h1.1M178.6,501.3h1.1M176.4,504.3h1.1M181.4,527.3h1.1M180.9,510.1h1.1M169.6,523.5h1.1M182.2,526.2h1.1M170.3,516.3h1.1M183.0,523.7h1.1M176.8,514.6h1.1M171.6,508.3h1.1M180.2,515.2h1.1M177.2,516.8h1.1M172.5,517.3h1.1M173.7,516.9h1.1M179.2,512.6h1.1M170.8,525.9h1.1M173.1,514.4h1.1M185.4,512.5h1.1M173.5,524.7h1.1M178.7,507.2h1.1M179.0,516.2h1.1M181.3,529.6h1.1M181.0,516.9h1.1M165.6,529.1h1.1M174.8,514.0h1.1M182.4,511.7h1.1M173.4,514.8h1.1M185.2,511.2h1.1M178.1,513.1h1.1M171.5,512.3h1.1M179.6,523.6h1.1M185.8,520.0h1.1M174.0,514.4h1.1M179.5,509.6h1.1M173.0,545.4h1.1M174.4,514.5h1.1M177.5,529.0h1.1M179.3,505.7h1.1M178.6,509.7h1.1M178.0,527.5h1.1M187.9,506.4h1.1M172.1,506.7h1.1M168.6,515.8h1.1M179.6,509.8h1.1M177.9,513.7h1.1M170.5,517.8h1.1M184.8,524.2h1.1M173.8,518.0h1.1M170.6,519.0h1.1M178.9,528.3h1.1M179.9,529.2h1.1M187.7,513.2h1.1M170.1,499.6h1.1M171.2,507.3h1.1M175.8,526.0h1.1M175.0,512.1h1.1M176.7,510.0h1.1M173.8,512.3h1.1M170.0,530.8h1.1M175.0,516.9h1.1M180.2,513.0h1.1M180.6,510.1h1.1M174.0,506.5h1.1M179.5,541.9h1.1M178.9,516.0h1.1M174.8,517.8h1.1M175.4,513.5h1.1M177.2,526.1h1.1M189.7,507.3h1.1M177.8,499.0h1.1M173.0,511.2h1.1M176.3,519.4h1.1M174.5,536.9h1.1M182.2,515.7h1.1M167.2,508.6h1.1M172.1,514.4h1.1M180.8,509.3h1.1M178.9,509.3h1.1M177.2,517.2h1.1M180.3,519.1h1.1M171.0,510.5h1.1M178.7,526.4h1.1M171.9,515.7h1.1M171.2,517.5h1.1M179.3,511.8h1.1M173.4,519.8h1.1M175.4,520.1h1.1M179.9,522.4h1.1M172.3,509.1h1.1M179.8,522.2h1.1M187.3,511.3h1.1M176.1,517.3h1.1M181.4,523.2h1.1M180.6,530.2h1.1M171.3,512.4h1.1M170.8,506.4h1.1M177.1,517.7h1.1M167.4,527.5h1.1M177.3,513.5h1.1M178.2,538.5h1.1M179.2,499.4h1.1M197.0,581.5h1.1M193.1,553.2h1.1M192.5,554.0h1.1M170.0,559.9h1.1M195.4,549.9h1.1M193.2,546.9h1.1M194.1,565.3h1.1M177.0,525.7h1.1M176.9,530.0h1.1M194.7,575.1h1.1M183.7,559.4h1.1M175.5,557.1h1.1M170.0,554.4h1.1M182.7,554.1h1.1M164.0,539.7h1.1M186.3,547.5h1.1M181.5,538.8h1.1M161.7,564.4h1.1M184.9,558.3h1.1M193.6,553.7h1.1M182.5,555.4h1.1M164.3,549.3h1.1M172.6,537.4h1.1M189.3,570.9h1.1M164.6,558.5h1.1M175.3,548.9h1.1M192.9,557.8h1.1M176.3,565.8h1.1M172.9,564.7h1.1M189.0,558.7h1.1M198.3,560.6h1.1M184.2,548.2h1.1M164.2,566.8h1.1M160.9,562.1h1.1M176.7,562.1h1.1M158.7,535.7h1.1M178.6,558.5h1.1M190.1,558.8h1.1M148.8,560.3h1.1M177.5,520.4h1.1M183.3,528.9h1.1M173.3,554.1h1.1M184.1,539.7h1.1M185.4,555.4h1.1M191.8,549.7h1.1M210.9,560.9h1.1M183.3,544.2h1.1M169.2,538.2h1.1M167.7,556.9h1.1M165.2,547.4h1.1M187.8,536.8h1.1M183.5,527.3h1.1M185.0,587.6h1.1M181.9,546.4h1.1M198.1,547.8h1.1M192.3,527.5h1.1M191.3,538.6h1.1M171.7,548.7h1.1M175.8,554.4h1.1M164.4,559.7h1.1M172.0,541.7h1.1M180.6,556.2h1.1M165.4,564.1h1.1M172.2,544.5h1.1M203.0,549.7h1.1M177.4,529.2h1.1M162.1,540.9h1.1M165.1,534.2h1.1M178.5,558.4h1.1M189.3,548.3h1.1M178.5,569.3h1.1M189.6,552.7h1.1M183.2,559.9h1.1M166.6,556.6h1.1M191.5,552.9h1.1M174.3,537.8h1.1M201.4,570.1h1.1M172.7,549.4h1.1M177.9,528.7h1.1M173.2,543.7h1.1M176.5,537.5h1.1M184.9,564.5h1.1M177.4,562.9h1.1M193.3,568.6h1.1M184.5,576.4h1.1M198.0,542.8h1.1M180.4,528.1h1.1M194.6,539.4h1.1M193.6,555.4h1.1M178.0,518.4h1.1M209.1,543.4h1.1M197.2,560.5h1.1M186.0,540.4h1.1M177.4,549.1h1.1M178.8,539.7h1.1M177.7,571.3h1.1M183.0,573.7h1.1M166.6,538.4h1.1M180.4,540.5h1.1M172.8,552.1h1.1M199.1,558.9h1.1M188.7,555.8h1.1M199.1,558.6h1.1M207.4,562.7h1.1M185.3,565.5h1.1M203.2,573.6h1.1M184.2,553.5h1.1M187.2,545.9h1.1M168.9,550.7h1.1M180.8,578.3h1.1M196.5,561.7h1.1M185.6,560.3h1.1M175.5,567.9h1.1M180.0,566.6h1.1M171.4,580.1h1.1M172.1,542.3h1.1M163.3,554.3h1.1M192.7,560.9h1.1M192.6,561.7h1.1M178.6,547.3h1.1M164.4,532.5h1.1M177.1,548.6h1.1M203.2,543.6h1.1M164.5,550.5h1.1M174.1,564.9h1.1M174.4,560.1h1.1M189.2,538.0h1.1M165.2,542.7h1.1M183.0,554.0h1.1M170.4,565.2h1.1M175.8,550.8h1.1M165.8,554.2h1.1M186.0,533.4h1.1M174.2,545.6h1.1M173.1,541.9h1.1M192.6,553.8h1.1M183.9,548.1h1.1M207.3,540.7h1.1M184.8,538.2h1.1M180.9,553.6h1.1M181.4,543.3h1.1M211.8,564.6h1.1M194.4,552.8h1.1M176.7,547.7h1.1M183.7,561.7h1.1M174.0,536.6h1.1M187.7,561.7h1.1M174.2,542.2h1.1M173.5,559.4h1.1M185.1,542.6h1.1M195.7,539.4h1.1M189.9,528.7h1.1M188.6,551.2h1.1M180.5,556.4h1.1M152.0,533.9h1.1M178.0,571.8h1.1M177.5,550.4h1.1M186.1,537.1h1.1M200.2,573.9h1.1M188.7,545.7h1.1M159.7,567.9h1.1M180.2,516.9h1.1M177.2,576.2h1.1M188.2,552.7h1.1M179.2,550.4h1.1M157.7,554.3h1.1M169.4,536.7h1.1M176.1,561.5h1.1M156.1,555.7h1.1M178.4,554.2h1.1M176.5,543.6h1.1M192.2,536.5h1.1M178.4,554.7h1.1M172.5,560.2h1.1M178.3,552.0h1.1M179.9,548.0h1.1M191.0,544.2h1.1M168.6,558.9h1.1M153.5,567.6h1.1M211.7,548.5h1.1M188.5,540.2h1.1M180.1,579.6h1.1M207.8,531.8h1.1M166.4,553.4h1.1M170.4,549.1h1.1M174.5,565.9h1.1M185.3,548.7h1.1M174.2,530.6h1.1M188.7,536.8h1.1M175.5,551.6h1.1M194.7,550.0h1.1M185.0,542.4h1.1M160.3,543.7h1.1M179.2,531.8h1.1M166.3,532.7h1.1M177.9,542.8h1.1M179.5,542.1h1.1M205.6,548.6h1.1M176.8,536.3h1.1M160.7,568.9h1.1M180.7,529.5h1.1M165.9,560.7h1.1M200.8,556.9h1.1M187.7,569.2h1.1M197.8,566.9h1.1M174.8,534.8h1.1M167.2,554.7h1.1M182.8,559.6h1.1M163.3,561.7h1.1M168.1,556.7h1.1M170.5,543.9h1.1M177.7,565.9h1.1M161.6,549.3h1.1M155.3,544.9h1.1M196.1,552.9h1.1M173.0,545.4h1.1M177.2,542.8h1.1M186.3,552.2h1.1M184.5,581.9h1.1M171.7,554.6h1.1M174.2,551.7h1.1M198.3,545.5h1.1M194.1,554.9h1.1M188.2,536.8h1.1M198.9,556.6h1.1M157.4,554.0h1.1M181.0,551.9h1.1M176.2,556.4h1.1M157.0,548.5h1.1M183.5,558.7h1.1M187.1,557.2h1.1M182.6,557.4h1.1M158.4,550.9h1.1M177.0,561.2h1.1M182.1,548.7h1.1M176.8,566.0h1.1M182.9,549.5h1.1M185.5,565.9h1.1M196.3,553.8h1.1M182.4,550.5h1.1M88.1,580.3h1.1M135.2,584.9h1.1M127.4,579.4h1.1M118.4,582.5h1.1M128.8,584.0h1.1M120.9,579.0h1.1M90.8,576.4h1.1M83.3,583.1h1.1M135.2,577.7h1.1M122.3,579.9h1.1M160.8,581.7h1.1M174.9,582.6h1.1M140.9,581.2h1.1M135.5,580.1h1.1M133.4,584.4h1.1M120.2,582.5h1.1M98.8,586.8h1.1M41.6,579.6h1.1M139.1,581.7h1.1M134.1,581.8h1.1M118.2,583.3h1.1M120.9,582.5h1.1M145.1,582.0h1.1M143.5,586.9h1.1M122.8,581.5h1.1M110.1,583.0h1.1M134.5,582.4h1.1M140.2,580.4h1.1M180.7,583.8h1.1M91.1,577.2h1.1M131.5,584.8h1.1M91.9,578.0h1.1M104.2,581.1h1.1M184.6,582.2h1.1M105.3,580.7h1.1M113.6,580.6h1.1M100.6,585.0h1.1M142.0,588.0h1.1M105.1,584.6h1.1M69.3,582.3h1.1M121.2,580.3h1.1M140.9,580.0h1.1M116.4,585.0h1.1M121.6,584.2h1.1M97.0,585.3h1.1M90.0,584.5h1.1M117.1,585.3h1.1M84.3,580.4h1.1M104.2,579.9h1.1M88.4,579.4h1.1M110.0,581.9h1.1M139.6,581.4h1.1M115.7,582.2h1.1M149.3,578.9h1.1M127.2,582.4h1.1M112.9,584.0h1.1M90.5,582.1h1.1M119.5,575.1h1.1M83.1,581.9h1.1M138.3,581.0h1.1M77.8,584.2h1.1M76.4,581.5h1.1M91.8,583.5h1.1M68.2,580.9h1.1M119.4,582.7h1.1M94.0,584.4h1.1M103.0,581.2h1.1M134.0,582.7h1.1M52.7,582.3h1.1M109.1,583.5h1.1M126.4,581.6h1.1M145.6,583.1h1.1M120.0,577.3h1.1M96.9,581.3h1.1M143.1,584.0h1.1M142.8,583.6h1.1M179.9,579.5h1.1M178.1,579.9h1.1M110.3,582.9h1.1M155.7,582.8h1.1M122.3,583.1h1.1M87.0,582.1h1.1M136.6,582.2h1.1M153.9,584.5h1.1M48.7,579.6h1.1M154.6,578.4h1.1M92.4,584.4h1.1M162.5,580.0h1.1M123.1,583.6h1.1M120.6,580.2h1.1M156.4,579.1h1.1M106.7,585.8h1.1M176.4,581.7h1.1M88.6,578.4h1.1M98.9,581.3h1.1M84.9,581.5h1.1M131.6,581.4h1.1M114.1,582.3h1.1M139.1,579.0h1.1M147.5,581.2h1.1M138.9,583.0h1.1M147.0,583.4h1.1M147.3,582.1h1.1M113.4,579.9h1.1M94.6,576.9h1.1M87.5,585.5h1.1M137.2,579.1h1.1M100.4,580.7h1.1M87.7,581.9h1.1M91.4,583.0h1.1M109.2,581.8h1.1M122.0,579.8h1.1M108.1,581.8h1.1M85.7,587.1h1.1M130.7,588.2h1.1M51.0,581.3h1.1M105.7,583.5h1.1M144.7,577.5h1.1M122.4,582.4h1.1M148.9,583.7h1.1M117.6,581.1h1.1M131.2,586.5h1.1M115.8,584.1h1.1M102.1,583.4h1.1M125.3,575.3h1.1M142.2,580.4h1.1M57.7,583.7h1.1M90.8,580.7h1.1M53.9,577.5h1.1M87.1,580.5h1.1M76.9,585.7h1.1M99.9,583.6h1.1M105.0,584.1h1.1M140.9,582.4h1.1M148.8,586.0h1.1M90.3,574.9h1.1M99.1,578.9h1.1M131.1,586.7h1.1M94.7,584.6h1.1M101.5,582.5h1.1M60.0,581.1h1.1M134.0,577.4h1.1M120.6,580.9h1.1M85.5,581.6h1.1M75.2,579.6h1.1M82.6,585.4h1.1M125.6,584.5h1.1M99.2,581.2h1.1M78.1,584.2h1.1M103.7,581.8h1.1M137.7,582.6h1.1M149.0,580.7h1.1M151.7,588.2h1.1M117.1,578.2h1.1M121.0,581.6h1.1M122.1,584.5h1.1M132.9,584.5h1.1M130.8,577.9h1.1M86.4,579.6h1.1M92.9,581.7h1.1M103.0,579.9h1.1M134.2,580.3h1.1M99.4,581.3h1.1M92.1,581.5h1.1M143.2,584.7h1.1M155.8,577.7h1.1M88.1,584.6h1.1M110.2,581.4h1.1M147.1,583.4h1.1M102.7,581.1h1.1M140.4,587.8h1.1M73.6,577.4h1.1M107.8,584.9h1.1M132.9,580.8h1.1M157.9,581.4h1.1M141.3,585.5h1.1M67.8,581.4h1.1M70.2,584.2h1.1M89.2,585.6h1.1M137.7,580.5h1.1M134.8,587.0h1.1M145.0,585.1h1.1M133.7,581.4h1.1M97.6,582.5h1.1M103.2,580.2h1.1M88.5,582.7h1.1M137.7,584.2h1.1M77.9,584.5h1.1M115.7,582.5h1.1M121.0,580.7h1.1M149.1,580.4h1.1M92.1,579.6h1.1M125.3,581.3h1.1M85.4,583.5h1.1M143.2,580.5h1.1M103.6,580.3h1.1M105.2,579.3h1.1M86.8,583.4h1.1M96.6,581.3h1.1M95.4,577.9h1.1M166.8,557.6h1.1M166.4,573.2h1.1M158.1,573.0h1.1M155.1,569.5h1.1M157.6,569.5h1.1M150.5,570.4h1.1M166.0,569.0h1.1M169.0,571.7h1.1M166.2,571.7h1.1M159.8,567.8h1.1M159.8,578.2h1.1M162.2,576.4h1.1M171.6,570.0h1.1M151.5,581.6h1.1M157.8,582.9h1.1M152.4,577.4h1.1M148.2,577.2h1.1M160.6,569.2h1.1M167.0,570.4h1.1M149.4,564.8h1.1M165.8,570.0h1.1M163.3,576.3h1.1M161.7,570.0h1.1M168.8,564.3h1.1M152.6,579.1h1.1M170.9,580.7h1.1M155.0,578.7h1.1M162.3,565.0h1.1M145.5,575.6h1.1M165.7,568.2h1.1M158.1,571.3h1.1M153.4,575.0h1.1M149.7,578.8h1.1M159.5,569.1h1.1M168.5,570.3h1.1M162.1,566.2h1.1M155.2,571.9h1.1M151.7,567.5h1.1M149.5,569.7h1.1M155.2,575.3h1.1M145.0,571.8h1.1M154.8,572.4h1.1M166.6,573.2h1.1M157.4,575.5h1.1M156.6,578.1h1.1M153.0,566.6h1.1M163.5,564.6h1.1M162.9,574.2h1.1M169.2,575.0h1.1M152.2,578.2h1.1M148.9,575.4h1.1M152.9,579.7h1.1M147.9,574.2h1.1M157.4,569.0h1.1M154.3,576.4h1.1M150.9,567.9h1.1M157.3,568.8h1.1M165.8,573.7h1.1M163.5,570.7h1.1M152.7,576.1h1.1M158.0,570.2h1.1M160.2,580.2h1.1M163.0,567.3h1.1M155.0,575.1h1.1M147.4,569.8h1.1M160.5,578.3h1.1M149.9,569.3h1.1M154.7,575.4h1.1M155.6,557.6h1.1M165.1,568.6h1.1M153.9,579.4h1.1M159.0,572.8h1.1M156.0,572.3h1.1M153.3,576.0h1.1M164.7,582.8h1.1M154.0,567.0h1.1M161.5,571.6h1.1M160.0,569.9h1.1M142.9,575.1h1.1M144.5,568.8h1.1M120.4,486.3h1.1M107.2,480.8h1.1M180.9,473.7h1.1M193.1,488.4h1.1M98.6,483.7h1.1M199.5,470.4h1.1M147.3,479.6h1.1M117.6,486.8h1.1M137.3,484.3h1.1M85.9,478.4h1.1M140.3,487.5h1.1M151.3,480.4h1.1M141.0,473.5h1.1M81.9,473.0h1.1M200.6,516.7h1.1M186.0,512.9h1.1M193.5,526.3h1.1M185.7,522.3h1.1M187.4,525.8h1.1M187.5,505.6h1.1M180.3,529.5h1.1M180.2,528.3h1.1M182.0,518.1h1.1M196.7,523.1h1.1M186.4,501.4h1.1M190.2,529.0h1.1" stroke="#554f49" stroke-width="1.1" fill="none" opacity="0.95"/>
<g filter="url(#rough3)">
<g fill="#5f5953"><path d="M70,494 L168,494 C171,500 171,518 168,531 C173,529.5 185,530.5 190,539 C194.5,548 193,559 187,564 C181,568 172,567 166,563 C162,568 152,573 140,576 L110,580 L70,580 Z"/></g>
<g filter="url(#bl4)"><ellipse cx="112" cy="543" rx="44" ry="28" fill="#8a847d"/><ellipse cx="108" cy="551" rx="27" ry="19" fill="#bcb6ae"/><ellipse cx="92" cy="526" rx="12" ry="10" fill="#a39e96" opacity="0.8"/></g>
<g filter="url(#bl3)"><ellipse cx="178.5" cy="550" rx="6.5" ry="6.5" fill="#948a82"/></g>
<rect x="70" y="495.5" width="96.5" height="19" fill="url(#rfade)" opacity="0.95"/>
</g>
<path d="M145.0,527.2h1.0M131.6,562.0h1.0M132.5,545.8h1.0M117.0,576.7h1.0M142.6,579.1h1.0M130.0,556.4h1.0M125.4,575.6h1.0M94.6,538.9h1.0M159.0,564.3h1.0M148.1,540.5h1.0M132.6,555.2h1.0M153.6,536.0h1.0M120.0,541.7h1.0M118.7,515.2h1.0M130.6,514.9h1.0M134.8,550.3h1.0M136.6,536.1h1.0M94.7,536.7h1.0M90.0,519.2h1.0M118.9,532.8h1.0M104.7,522.6h1.0M143.9,532.7h1.0M100.2,562.7h1.0M92.5,547.8h1.0M132.4,569.0h1.0M94.0,503.6h1.0M95.0,533.6h1.0M83.8,575.9h1.0M142.3,565.2h1.0M149.6,534.2h1.0M162.0,548.4h1.0M106.4,543.0h1.0M139.8,542.4h1.0M133.6,544.6h1.0M103.7,534.9h1.0M129.2,545.0h1.0M141.4,532.2h1.0M114.7,569.9h1.0M132.9,543.6h1.0M149.0,536.8h1.0M137.6,515.4h1.0M91.6,563.5h1.0M136.1,535.3h1.0M138.0,511.5h1.0M109.6,558.0h1.0M109.4,577.5h1.0M118.9,538.5h1.0M105.2,572.9h1.0M78.9,572.6h1.0M142.7,531.3h1.0M153.1,573.5h1.0M97.6,558.2h1.0M86.8,500.1h1.0M83.9,537.2h1.0M106.5,567.4h1.0M123.4,536.5h1.0M162.2,550.7h1.0M100.1,544.0h1.0M113.4,566.3h1.0M150.3,558.4h1.0M122.9,530.8h1.0M108.4,504.1h1.0M88.3,563.3h1.0M119.7,539.3h1.0M130.7,566.5h1.0M121.6,575.5h1.0M145.8,542.3h1.0M121.1,544.8h1.0M153.9,566.9h1.0M119.3,544.0h1.0M142.4,505.4h1.0M105.3,563.1h1.0M167.5,556.4h1.0M152.9,536.4h1.0M135.9,560.8h1.0M85.4,540.5h1.0M120.9,539.8h1.0M104.3,517.9h1.0M120.1,512.4h1.0M89.1,545.1h1.0M120.0,518.9h1.0M135.2,567.8h1.0M115.8,509.6h1.0M110.4,579.0h1.0M142.4,547.7h1.0M149.1,563.6h1.0M118.4,560.0h1.0M95.5,552.8h1.0M94.2,525.0h1.0M111.2,565.9h1.0M118.2,540.9h1.0M133.4,531.2h1.0M119.1,502.7h1.0M120.2,543.0h1.0M130.4,539.1h1.0M147.0,505.6h1.0M144.1,569.3h1.0M96.1,545.8h1.0M126.7,529.3h1.0M133.5,561.1h1.0M126.0,513.2h1.0M139.5,513.6h1.0M154.7,546.8h1.0M92.6,565.0h1.0M138.8,545.7h1.0M110.6,552.9h1.0M123.5,543.7h1.0M116.7,559.5h1.0M91.4,537.0h1.0M113.0,543.5h1.0M106.3,575.0h1.0M90.1,536.7h1.0M125.3,563.9h1.0M103.8,545.2h1.0M163.6,563.4h1.0M147.9,529.1h1.0M86.4,516.4h1.0M124.4,573.3h1.0M97.3,579.6h1.0M129.5,574.8h1.0M118.4,556.2h1.0M83.5,552.7h1.0M107.0,543.0h1.0M130.3,561.2h1.0M113.8,544.1h1.0M120.2,525.6h1.0M127.2,570.4h1.0M112.4,568.1h1.0M156.6,559.9h1.0M130.2,539.7h1.0M100.4,550.2h1.0M128.2,552.8h1.0M141.4,522.2h1.0M135.2,538.0h1.0M136.4,524.6h1.0M139.0,572.7h1.0M132.1,518.1h1.0M109.1,521.3h1.0M138.1,528.4h1.0M145.4,551.5h1.0M142.2,527.4h1.0M124.5,564.2h1.0M91.4,552.9h1.0M110.0,555.6h1.0M146.1,519.9h1.0M152.0,545.8h1.0M120.2,549.7h1.0M82.1,533.6h1.0M130.5,545.5h1.0M145.6,555.2h1.0M138.9,536.4h1.0M94.8,546.4h1.0M83.4,521.2h1.0M88.7,561.6h1.0M83.4,533.6h1.0M145.9,574.6h1.0M165.4,537.4h1.0M146.2,557.2h1.0M95.2,541.9h1.0M135.7,557.9h1.0M129.3,529.3h1.0M93.5,529.9h1.0M153.7,574.7h1.0M103.9,563.6h1.0M118.2,544.4h1.0M133.7,543.9h1.0M79.1,569.1h1.0M93.0,548.0h1.0M136.1,550.9h1.0M93.4,542.0h1.0M111.9,542.7h1.0M116.0,575.9h1.0M104.7,536.8h1.0M138.2,537.2h1.0M117.1,572.0h1.0M118.2,578.9h1.0M80.7,528.9h1.0M108.3,557.5h1.0M122.4,535.3h1.0M111.9,557.0h1.0M146.1,512.9h1.0M113.0,543.4h1.0M99.6,571.7h1.0M165.1,552.4h1.0M111.2,569.9h1.0M115.5,555.9h1.0M103.1,541.9h1.0M117.7,547.8h1.0M86.2,540.8h1.0M152.5,547.2h1.0M86.2,529.1h1.0M95.6,572.9h1.0M136.1,530.5h1.0M79.2,560.0h1.0M135.8,570.8h1.0M128.9,550.3h1.0M161.1,564.2h1.0M88.2,573.3h1.0M78.0,558.2h1.0M160.5,558.5h1.0M147.3,520.9h1.0M128.4,541.7h1.0M82.3,566.7h1.0M139.6,552.3h1.0M95.1,526.9h1.0M89.2,557.9h1.0M136.7,558.5h1.0M119.4,528.6h1.0M124.8,529.2h1.0M99.7,549.4h1.0M144.0,537.1h1.0M97.9,559.5h1.0M131.0,534.8h1.0M96.8,556.2h1.0M88.6,569.1h1.0M103.4,552.8h1.0M102.9,508.0h1.0M137.7,564.3h1.0M129.7,568.2h1.0M140.2,508.9h1.0M89.6,569.1h1.0M97.4,579.5h1.0M148.3,551.3h1.0M164.8,514.3h1.0M126.3,505.6h1.0M81.1,557.5h1.0M135.0,570.2h1.0M126.9,541.3h1.0M83.9,543.3h1.0M100.5,543.8h1.0" stroke="#554f49" stroke-width="1.0" fill="none" opacity="0.4"/>
<path d="M97.4,508.7h1.0M116.8,501.2h1.0M92.0,503.9h1.0M113.1,505.3h1.0M159.2,500.7h1.0M126.4,505.2h1.0M105.2,503.0h1.0M165.0,498.5h1.0M164.7,504.3h1.0M165.2,503.7h1.0M100.6,506.0h1.0M117.6,501.5h1.0M111.8,505.7h1.0M131.2,505.1h1.0M121.5,503.2h1.0M115.2,507.2h1.0M139.1,506.5h1.0M127.1,501.0h1.0M133.1,501.5h1.0M100.8,508.7h1.0M124.6,505.2h1.0M150.6,505.5h1.0M90.3,504.4h1.0M113.5,502.6h1.0M95.3,503.6h1.0M103.9,507.3h1.0M106.2,505.6h1.0M88.7,500.9h1.0M139.7,501.3h1.0M153.0,505.5h1.0M130.3,500.1h1.0M111.3,504.8h1.0M130.5,503.8h1.0M102.7,499.1h1.0M137.3,504.2h1.0M127.2,509.2h1.0M131.6,504.2h1.0M117.3,503.9h1.0M80.4,505.7h1.0M123.3,502.5h1.0M113.5,511.1h1.0M121.2,501.9h1.0M124.3,500.7h1.0M110.6,502.2h1.0M88.0,501.9h1.0M113.9,501.1h1.0M87.1,506.5h1.0M120.7,508.9h1.0M124.2,506.9h1.0M100.4,501.5h1.0M85.5,509.7h1.0M141.9,499.8h1.0M104.1,503.0h1.0M144.4,502.4h1.0M104.5,500.4h1.0M109.5,503.8h1.0M123.7,506.8h1.0M161.6,511.7h1.0M91.0,505.1h1.0M129.9,505.4h1.0M139.0,501.0h1.0M139.7,507.6h1.0M150.7,500.0h1.0M110.1,501.3h1.0M121.2,500.7h1.0M125.1,498.8h1.0M157.5,506.6h1.0M95.5,500.8h1.0M137.6,510.6h1.0M96.5,502.7h1.0M109.8,500.1h1.0M140.2,503.9h1.0" stroke="#554f49" stroke-width="1.0" fill="none" opacity="0.5"/>
<path d="M89.6,514.8h1.1M126.1,517.5h1.1M127.0,513.9h1.1M147.0,518.6h1.1M148.0,520.2h1.1M107.4,508.4h1.1M105.3,508.8h1.1M151.9,504.9h1.1M108.1,509.8h1.1M137.4,508.8h1.1M88.8,525.7h1.1M129.6,521.5h1.1M123.4,502.2h1.1M114.6,510.2h1.1M135.1,499.5h1.1M134.3,513.7h1.1M129.2,507.0h1.1M156.6,514.0h1.1M116.1,515.6h1.1M95.1,507.2h1.1M145.4,522.5h1.1M107.8,506.3h1.1M163.6,500.3h1.1M112.8,527.6h1.1M91.2,512.3h1.1M92.2,513.9h1.1M153.1,518.2h1.1M121.2,502.2h1.1M121.9,512.6h1.1M160.2,501.2h1.1M115.7,509.8h1.1M96.4,526.4h1.1M128.8,507.5h1.1M93.0,516.6h1.1M133.2,503.9h1.1M147.9,533.0h1.1M123.7,509.1h1.1M105.1,514.6h1.1M121.6,510.7h1.1M165.3,519.3h1.1M118.6,505.2h1.1M97.7,509.5h1.1M113.8,505.8h1.1M113.1,507.9h1.1M99.1,526.3h1.1M151.3,509.7h1.1M119.1,521.2h1.1M88.6,508.3h1.1M130.5,514.0h1.1M80.0,507.0h1.1M107.4,497.3h1.1M93.0,507.4h1.1M126.9,517.6h1.1M109.9,520.3h1.1M100.5,519.0h1.1M126.0,507.4h1.1M132.2,508.9h1.1M125.3,503.1h1.1M151.6,513.2h1.1M86.5,517.0h1.1M130.0,512.8h1.1M118.4,514.0h1.1M147.3,514.6h1.1M111.9,509.9h1.1M137.5,512.7h1.1M126.3,506.1h1.1M136.7,505.3h1.1M121.9,512.8h1.1M141.8,512.4h1.1M78.9,504.4h1.1M91.2,522.3h1.1M114.3,520.0h1.1M165.6,523.6h1.1M93.1,510.6h1.1M107.5,509.6h1.1M138.0,513.8h1.1M102.2,518.1h1.1M78.9,522.2h1.1M141.7,510.3h1.1M84.0,497.1h1.1M128.4,509.6h1.1M133.4,518.0h1.1M87.9,516.4h1.1M131.4,528.4h1.1M114.5,508.6h1.1M86.6,506.2h1.1M124.8,513.5h1.1M123.9,523.4h1.1M123.3,502.6h1.1M136.6,504.8h1.1M98.6,512.2h1.1M80.5,518.0h1.1M147.8,508.3h1.1M86.5,511.9h1.1M107.3,511.5h1.1M128.5,513.2h1.1M113.0,521.4h1.1M88.0,502.4h1.1M146.1,501.0h1.1M100.4,509.5h1.1M98.4,515.4h1.1M119.3,513.8h1.1M121.9,498.9h1.1M118.0,506.9h1.1M131.4,514.7h1.1M118.1,502.8h1.1M87.8,508.1h1.1M111.7,515.1h1.1M101.9,505.3h1.1M163.7,499.6h1.1M108.9,509.0h1.1M129.9,509.5h1.1M119.3,517.5h1.1M140.3,509.9h1.1M103.7,507.9h1.1M129.9,526.4h1.1M113.8,515.8h1.1M108.9,505.9h1.1M98.1,512.1h1.1M104.5,500.6h1.1M150.8,513.0h1.1M119.8,505.8h1.1M130.0,515.6h1.1M134.6,521.3h1.1M122.3,500.1h1.1M134.4,519.7h1.1M124.0,525.5h1.1M93.7,496.8h1.1M137.6,500.4h1.1M129.7,518.4h1.1M130.6,524.1h1.1M82.9,510.7h1.1M125.4,501.9h1.1M160.6,519.8h1.1M118.5,501.9h1.1M157.7,506.7h1.1M143.2,507.1h1.1M141.9,507.0h1.1M97.1,515.4h1.1M97.8,504.7h1.1M97.1,512.6h1.1M151.6,519.3h1.1M154.6,519.4h1.1M86.1,521.2h1.1M78.7,508.9h1.1M121.0,499.4h1.1M156.4,512.9h1.1M125.3,513.2h1.1M136.2,513.6h1.1M131.7,508.8h1.1M134.5,514.8h1.1M113.2,504.3h1.1M131.6,517.4h1.1M137.7,524.2h1.1M114.0,512.6h1.1M167.4,512.0h1.1M85.5,516.2h1.1M105.7,515.6h1.1M92.0,515.7h1.1M149.1,513.1h1.1M149.7,509.7h1.1M94.9,522.9h1.1M119.4,503.2h1.1M103.7,519.7h1.1M93.1,515.1h1.1M127.0,504.9h1.1M134.0,500.7h1.1M95.3,504.3h1.1M117.1,504.7h1.1M141.7,521.1h1.1M158.3,507.3h1.1M127.6,506.6h1.1M93.0,504.6h1.1M119.2,511.4h1.1M108.0,515.6h1.1M99.8,506.6h1.1M96.7,503.0h1.1M100.5,511.1h1.1M121.9,517.8h1.1M137.4,516.9h1.1M93.0,504.5h1.1M159.6,513.9h1.1M110.0,507.4h1.1M126.5,501.6h1.1M162.5,512.9h1.1M90.2,509.0h1.1M99.1,513.7h1.1M99.3,517.6h1.1M87.4,508.1h1.1M138.7,503.5h1.1M111.0,506.2h1.1M120.4,517.1h1.1M120.0,512.3h1.1M111.6,517.1h1.1M162.5,509.1h1.1M112.6,516.8h1.1M92.1,508.2h1.1M97.4,511.6h1.1M123.1,510.7h1.1M122.7,509.9h1.1M126.1,512.0h1.1M105.2,518.4h1.1M130.6,506.8h1.1M131.2,499.2h1.1M82.0,514.6h1.1M129.5,525.0h1.1M130.0,519.1h1.1M109.6,503.2h1.1M150.3,514.8h1.1M119.4,519.5h1.1M95.4,518.0h1.1M145.7,524.6h1.1M115.7,515.7h1.1M144.0,506.2h1.1M136.0,505.1h1.1M148.0,499.5h1.1M156.8,502.6h1.1M138.4,519.4h1.1M89.8,516.4h1.1M85.6,520.4h1.1M132.1,508.8h1.1M120.8,525.2h1.1M102.0,517.0h1.1M117.2,506.4h1.1M82.7,522.9h1.1M100.6,502.4h1.1M156.8,507.8h1.1M125.0,510.3h1.1M83.2,510.3h1.1M102.7,502.8h1.1M113.0,517.8h1.1M114.2,512.1h1.1M130.7,515.8h1.1M149.1,508.4h1.1M137.0,507.6h1.1M85.9,504.1h1.1M88.2,510.5h1.1M129.9,514.2h1.1M102.4,523.8h1.1M104.0,502.3h1.1M107.5,500.4h1.1M136.9,513.8h1.1M137.7,521.1h1.1M157.7,519.2h1.1M126.5,510.2h1.1M111.6,509.8h1.1M86.0,524.5h1.1M142.9,510.5h1.1M78.1,514.3h1.1M166.1,518.5h1.1M130.0,511.1h1.1M142.4,510.1h1.1M157.1,509.9h1.1M79.5,511.1h1.1M158.8,531.2h1.1M120.9,516.4h1.1M133.9,516.8h1.1M142.1,506.7h1.1M137.0,502.1h1.1M106.5,496.9h1.1M117.5,507.9h1.1M122.9,513.3h1.1M149.6,513.7h1.1M160.5,516.7h1.1M90.1,508.1h1.1M132.5,510.3h1.1M111.3,507.0h1.1M130.8,512.4h1.1M130.7,516.2h1.1M131.9,517.2h1.1M120.7,521.2h1.1M111.5,508.7h1.1M142.9,509.2h1.1M128.8,509.1h1.1M155.5,514.5h1.1M97.0,518.9h1.1M128.8,505.6h1.1M103.1,515.3h1.1M83.1,522.3h1.1M115.1,506.8h1.1M90.1,502.0h1.1M101.8,512.5h1.1M88.9,521.8h1.1M84.8,517.9h1.1M119.0,509.7h1.1M78.2,512.7h1.1M111.8,506.6h1.1M118.2,516.2h1.1M149.4,506.8h1.1M89.6,509.6h1.1M133.2,516.3h1.1M103.4,518.5h1.1M92.8,517.9h1.1M98.5,517.7h1.1M101.1,520.0h1.1M86.7,506.5h1.1M149.6,504.8h1.1M129.9,517.5h1.1M80.9,508.4h1.1M109.7,509.0h1.1M149.6,500.4h1.1M136.4,518.8h1.1M85.9,521.1h1.1M82.3,510.9h1.1M111.8,521.3h1.1M96.2,518.6h1.1M133.1,521.0h1.1M125.1,523.0h1.1M80.4,504.0h1.1M83.6,518.3h1.1M108.9,511.6h1.1M155.8,518.0h1.1M97.1,510.8h1.1M134.6,527.1h1.1M96.9,524.3h1.1M129.6,512.6h1.1M99.1,515.8h1.1M129.2,514.3h1.1M89.3,514.5h1.1M93.6,519.2h1.1M144.3,502.8h1.1M78.2,520.6h1.1M151.9,515.1h1.1M111.0,509.6h1.1M157.2,508.0h1.1M113.0,510.8h1.1M103.0,500.6h1.1M94.7,513.7h1.1M80.7,514.7h1.1M115.9,519.7h1.1M106.5,517.9h1.1M150.2,507.3h1.1M150.4,508.0h1.1M111.1,505.9h1.1M133.7,512.5h1.1M116.4,517.5h1.1M138.6,510.6h1.1M86.3,513.1h1.1M91.9,517.3h1.1M140.4,518.7h1.1M152.9,507.5h1.1M134.8,517.5h1.1M132.8,509.3h1.1M108.9,512.4h1.1M124.3,509.9h1.1M129.2,521.6h1.1M109.1,515.3h1.1M141.4,508.2h1.1M164.9,513.6h1.1M111.5,510.7h1.1M160.8,513.2h1.1M103.8,505.5h1.1M138.5,504.7h1.1M123.9,512.4h1.1M122.6,527.2h1.1M99.0,503.6h1.1M148.7,514.2h1.1M154.7,501.6h1.1M166.8,500.7h1.1M126.4,509.5h1.1M122.5,518.5h1.1M152.8,514.0h1.1M111.5,520.7h1.1M115.9,515.5h1.1M84.2,505.3h1.1M148.7,514.5h1.1M161.3,509.7h1.1M159.2,510.4h1.1M149.5,508.1h1.1M152.4,506.4h1.1M98.0,503.6h1.1M150.9,506.4h1.1M88.8,524.6h1.1M112.2,521.8h1.1M79.8,512.9h1.1M85.4,511.2h1.1M99.1,517.8h1.1M106.1,509.4h1.1M123.2,520.1h1.1M87.6,513.0h1.1M100.5,517.6h1.1M113.9,506.6h1.1M123.4,524.9h1.1M132.9,513.5h1.1M141.9,516.8h1.1M125.5,506.8h1.1M132.3,507.2h1.1M138.9,517.0h1.1M118.0,500.5h1.1M124.1,520.8h1.1M90.9,507.9h1.1M125.6,518.9h1.1M148.4,507.5h1.1M98.6,511.7h1.1M158.5,512.7h1.1M102.9,518.5h1.1M151.2,506.0h1.1M125.5,514.1h1.1M106.7,517.5h1.1M132.2,506.2h1.1M106.5,512.1h1.1M91.0,506.9h1.1M150.2,509.4h1.1M146.0,520.4h1.1M94.9,505.5h1.1M146.8,510.9h1.1M103.1,511.5h1.1M103.2,509.3h1.1M119.4,505.4h1.1M114.5,522.0h1.1M118.1,498.2h1.1M108.6,516.0h1.1M127.3,516.3h1.1M95.3,507.4h1.1M97.1,513.2h1.1M138.0,503.4h1.1M159.1,519.6h1.1M111.5,512.7h1.1M144.8,511.9h1.1M101.8,512.7h1.1M88.0,517.2h1.1M93.9,511.8h1.1M151.3,515.8h1.1M150.2,514.5h1.1M90.6,508.3h1.1M149.2,519.7h1.1M90.6,523.1h1.1M123.7,519.7h1.1M139.4,512.8h1.1M137.0,504.5h1.1M108.9,506.2h1.1M138.7,507.8h1.1M126.7,517.7h1.1M128.8,506.1h1.1M109.4,507.4h1.1M97.3,501.3h1.1M110.7,500.2h1.1M85.6,518.1h1.1M104.1,510.7h1.1M146.8,514.2h1.1M123.6,534.5h1.1M120.1,540.3h1.1M114.9,529.0h1.1M100.3,515.4h1.1M116.2,503.9h1.1M93.3,508.7h1.1M85.7,527.9h1.1M96.4,524.3h1.1M110.8,535.4h1.1M129.3,527.2h1.1M85.7,533.5h1.1M78.8,522.8h1.1M139.3,534.0h1.1M125.7,563.0h1.1M132.0,509.0h1.1M104.4,526.6h1.1M145.7,532.4h1.1M143.6,531.8h1.1M95.9,511.9h1.1M122.1,527.1h1.1M139.7,528.0h1.1M142.7,529.7h1.1M126.0,546.6h1.1M106.1,534.4h1.1M100.0,520.8h1.1M110.3,528.7h1.1M94.7,556.4h1.1M128.3,515.2h1.1M115.6,542.6h1.1M106.0,514.5h1.1M86.0,499.9h1.1M115.0,514.1h1.1M103.5,530.3h1.1M122.3,521.3h1.1M87.8,514.0h1.1M129.7,512.6h1.1M109.3,509.8h1.1M161.8,508.2h1.1M92.6,515.4h1.1M112.0,529.4h1.1M165.7,526.4h1.1M142.5,539.2h1.1M81.8,515.5h1.1M98.9,524.7h1.1M121.6,527.8h1.1M136.4,518.5h1.1M125.0,534.3h1.1M151.8,538.1h1.1M107.8,522.0h1.1M86.7,504.9h1.1M96.8,530.0h1.1M113.3,538.0h1.1M90.6,539.1h1.1M113.2,516.5h1.1M108.5,510.2h1.1M105.8,520.4h1.1M112.8,508.3h1.1M139.4,530.3h1.1M116.5,531.5h1.1M133.8,534.9h1.1M114.6,523.9h1.1M101.5,505.4h1.1M135.1,519.0h1.1M133.3,561.4h1.1M143.7,543.5h1.1M102.5,535.0h1.1M130.2,521.3h1.1M111.2,515.2h1.1M130.9,556.2h1.1M109.9,521.4h1.1M147.4,515.2h1.1M127.4,535.0h1.1M105.0,523.7h1.1M98.8,514.7h1.1M117.3,518.3h1.1M126.7,549.9h1.1M129.0,539.4h1.1M100.4,528.9h1.1M113.9,526.2h1.1M92.5,530.2h1.1M103.5,509.6h1.1M131.5,532.9h1.1M100.8,517.1h1.1M132.9,528.6h1.1M107.9,525.3h1.1M116.6,529.7h1.1M105.9,517.7h1.1M143.9,540.0h1.1M117.2,530.6h1.1M93.9,512.9h1.1M117.4,531.9h1.1M144.8,519.7h1.1M121.0,531.1h1.1M86.8,538.4h1.1M94.5,517.4h1.1M87.3,524.6h1.1M149.1,526.1h1.1M118.6,525.7h1.1M136.5,557.0h1.1M135.1,530.6h1.1M105.3,507.2h1.1M142.2,526.9h1.1M110.7,516.5h1.1M122.0,563.5h1.1M110.8,507.8h1.1M102.5,536.7h1.1M93.2,517.0h1.1M118.2,519.2h1.1M80.0,521.5h1.1M105.8,514.6h1.1M94.3,523.7h1.1M157.1,535.4h1.1M117.0,554.6h1.1M127.6,526.3h1.1M100.8,514.0h1.1M81.8,548.3h1.1M145.9,560.6h1.1M136.9,530.7h1.1M115.0,520.1h1.1M116.1,526.3h1.1M114.5,549.9h1.1M110.3,506.0h1.1M128.5,545.6h1.1M127.0,510.0h1.1M107.8,512.6h1.1M92.9,529.8h1.1M153.6,535.7h1.1M100.7,540.8h1.1M92.9,548.0h1.1M114.7,526.8h1.1M108.1,537.8h1.1M85.3,543.4h1.1M147.8,526.3h1.1M104.0,521.0h1.1M84.7,496.2h1.1M134.1,538.0h1.1M116.9,507.6h1.1M102.5,530.5h1.1M148.3,523.8h1.1M117.3,541.5h1.1M113.2,515.5h1.1M136.9,534.9h1.1M88.0,523.7h1.1M151.0,502.3h1.1M129.0,522.6h1.1M130.2,551.2h1.1M97.4,543.9h1.1M110.4,533.0h1.1M126.3,538.1h1.1M101.6,539.7h1.1M150.0,521.7h1.1M136.2,546.2h1.1M151.0,529.7h1.1M102.2,536.1h1.1M95.0,523.7h1.1M107.3,537.7h1.1M151.6,506.5h1.1M126.8,506.3h1.1M125.3,555.8h1.1M141.8,535.4h1.1M142.9,508.5h1.1M144.8,499.9h1.1M139.3,523.8h1.1M122.9,508.9h1.1M128.3,546.3h1.1M110.8,544.6h1.1M112.2,505.4h1.1M117.3,525.8h1.1M95.0,505.1h1.1M101.0,515.8h1.1M141.8,516.2h1.1M114.8,506.2h1.1M163.6,530.4h1.1M138.0,503.3h1.1M125.8,510.3h1.1M128.8,539.4h1.1M143.4,539.5h1.1M108.4,548.5h1.1M133.3,509.5h1.1M101.4,537.8h1.1M103.2,528.6h1.1M129.7,504.1h1.1M97.8,533.1h1.1M107.4,514.2h1.1M146.6,507.5h1.1M87.3,499.0h1.1M128.3,532.7h1.1M103.5,531.8h1.1M104.6,518.6h1.1M143.3,536.9h1.1M102.5,527.8h1.1M122.1,496.3h1.1M112.2,526.1h1.1M101.9,515.1h1.1M142.5,517.2h1.1M132.9,515.3h1.1M102.4,534.8h1.1M93.3,518.3h1.1M109.9,524.3h1.1M78.4,526.1h1.1M118.3,549.4h1.1M92.5,562.0h1.1M133.4,505.5h1.1M111.7,521.3h1.1M94.8,511.8h1.1M115.4,526.9h1.1M104.8,533.6h1.1M118.1,562.1h1.1M139.5,543.9h1.1M109.1,514.0h1.1M122.6,526.8h1.1M91.1,514.2h1.1M141.2,534.3h1.1M136.9,529.1h1.1M111.3,517.8h1.1M123.5,513.9h1.1M102.9,544.0h1.1M120.6,538.7h1.1M146.6,505.5h1.1M88.1,525.6h1.1M90.0,514.1h1.1M92.7,508.3h1.1M116.4,513.3h1.1M131.3,521.4h1.1M78.1,555.3h1.1M108.5,497.1h1.1M114.3,532.1h1.1M119.3,496.4h1.1M133.4,523.2h1.1M95.4,516.2h1.1M118.3,552.1h1.1M124.9,511.2h1.1M135.8,552.3h1.1M146.4,502.5h1.1M140.8,511.3h1.1M131.0,530.3h1.1M96.2,533.3h1.1M82.8,527.5h1.1M131.0,550.8h1.1M120.3,554.2h1.1M98.6,556.7h1.1M110.5,523.6h1.1M136.0,539.2h1.1M135.1,520.8h1.1M96.5,548.1h1.1M100.1,521.7h1.1M103.9,517.4h1.1M139.1,502.9h1.1M160.5,512.1h1.1M92.3,505.9h1.1M130.9,524.6h1.1M109.0,510.6h1.1M126.7,540.4h1.1M116.5,539.6h1.1M130.0,538.4h1.1M101.5,531.5h1.1M124.5,499.6h1.1M96.7,524.6h1.1M111.1,505.3h1.1M127.7,538.1h1.1M124.1,504.0h1.1M127.2,532.8h1.1M81.6,526.0h1.1M117.8,542.1h1.1M130.2,531.9h1.1M84.8,529.0h1.1M133.1,507.0h1.1M120.3,548.4h1.1M136.7,543.4h1.1M96.5,560.5h1.1M82.1,538.0h1.1M118.8,548.9h1.1M96.0,540.4h1.1M113.2,539.4h1.1M118.8,539.1h1.1M135.9,554.2h1.1M118.8,507.7h1.1M114.7,500.0h1.1M121.1,512.8h1.1M124.7,550.7h1.1M96.2,520.9h1.1M125.3,512.1h1.1M94.6,511.5h1.1M97.7,532.6h1.1M109.9,524.2h1.1M138.2,544.4h1.1M133.3,519.9h1.1M143.1,511.2h1.1M113.7,533.8h1.1M114.2,574.0h1.1M149.4,522.0h1.1M93.7,523.1h1.1M85.4,540.8h1.1M81.8,517.8h1.1M133.0,516.4h1.1M91.2,529.3h1.1M85.4,503.2h1.1M121.9,548.2h1.1M85.9,527.4h1.1M92.4,528.2h1.1M91.1,522.6h1.1M121.9,524.7h1.1M98.7,545.7h1.1M106.8,511.1h1.1M105.0,522.8h1.1M80.6,533.3h1.1M99.1,552.3h1.1M114.1,523.7h1.1M104.6,516.0h1.1M138.1,532.8h1.1M125.6,511.4h1.1M98.8,509.3h1.1M94.5,519.4h1.1M153.9,503.3h1.1M140.9,520.3h1.1M91.7,527.4h1.1M128.0,525.4h1.1M123.6,514.7h1.1M119.0,545.9h1.1" stroke="#e8322c" stroke-width="1.1" fill="none" opacity="0.95"/>
</g>
<g clip-path="url(#cB5)">
<path d="M297.0,491.4h1.1M314.3,490.0h1.1M271.2,493.1h1.1M282.6,490.6h1.1M284.7,488.1h1.1M266.8,486.7h1.1M274.4,490.0h1.1M233.1,494.6h1.1M244.3,495.6h1.1M251.3,488.0h1.1M245.5,491.5h1.1M286.6,488.0h1.1M284.8,490.8h1.1M285.9,482.1h1.1M268.5,488.3h1.1M301.7,485.0h1.1M299.2,494.1h1.1M290.2,488.9h1.1M266.6,491.3h1.1M315.6,490.1h1.1M244.3,486.3h1.1M232.8,491.8h1.1M241.3,493.1h1.1M306.7,490.7h1.1M277.8,491.6h1.1M260.0,493.1h1.1M214.7,491.6h1.1M269.4,489.7h1.1M249.4,485.5h1.1M220.8,487.7h1.1M303.7,487.9h1.1M276.1,492.2h1.1M311.5,493.8h1.1M274.9,490.1h1.1M289.9,492.8h1.1M257.3,483.4h1.1M291.6,490.8h1.1M264.8,486.8h1.1M291.2,492.7h1.1M280.9,493.6h1.1M246.8,493.2h1.1M276.0,492.3h1.1M279.8,493.3h1.1M257.2,495.1h1.1M272.5,488.7h1.1M299.6,494.5h1.1M307.6,489.2h1.1M277.1,486.3h1.1M216.2,491.8h1.1M295.0,492.3h1.1M323.4,491.1h1.1M269.4,488.4h1.1M253.1,491.9h1.1M283.4,489.6h1.1M281.0,497.1h1.1M298.5,491.2h1.1M259.2,491.4h1.1M321.0,488.8h1.1M299.4,491.9h1.1M249.2,494.9h1.1M302.6,488.2h1.1M272.2,489.2h1.1M293.7,484.9h1.1M285.1,490.0h1.1M277.0,494.7h1.1M283.8,486.9h1.1M264.6,489.1h1.1M256.5,488.1h1.1M269.5,489.4h1.1M268.2,488.0h1.1M285.8,489.1h1.1M280.5,487.0h1.1M233.4,490.7h1.1M297.4,492.8h1.1M274.5,492.3h1.1M297.9,484.9h1.1M293.3,493.8h1.1M282.7,492.1h1.1M290.4,493.3h1.1M238.3,487.7h1.1M316.0,488.5h1.1M326.0,492.0h1.1M292.2,495.0h1.1M262.3,487.5h1.1M293.8,490.9h1.1M267.0,491.3h1.1M318.1,489.1h1.1M264.4,491.1h1.1M245.6,488.7h1.1M254.3,493.7h1.1M256.5,485.6h1.1M294.6,491.0h1.1M274.7,488.7h1.1M283.1,489.9h1.1M267.0,487.6h1.1M310.1,481.7h1.1M276.3,494.4h1.1M281.7,492.1h1.1M316.8,491.3h1.1M283.7,490.0h1.1M262.4,491.0h1.1M269.6,489.3h1.1M305.6,490.5h1.1M285.9,494.0h1.1M255.9,488.4h1.1M306.5,487.8h1.1M238.1,495.4h1.1M220.2,488.8h1.1M250.5,490.8h1.1M226.8,489.7h1.1M270.9,491.8h1.1M276.8,492.0h1.1M269.0,490.5h1.1M261.0,487.5h1.1M248.5,487.5h1.1M300.0,490.4h1.1M224.9,495.3h1.1M294.8,485.2h1.1M282.6,489.9h1.1M274.1,491.5h1.1M287.5,488.6h1.1M235.4,490.8h1.1M301.3,489.9h1.1M289.1,492.4h1.1M304.8,494.8h1.1M222.3,489.3h1.1M282.3,491.0h1.1M272.3,491.4h1.1M216.0,490.6h1.1M267.0,490.2h1.1M277.1,484.2h1.1M255.2,490.4h1.1M285.7,487.2h1.1M290.4,488.9h1.1M264.0,491.3h1.1M266.6,491.7h1.1M295.7,488.9h1.1M250.2,488.8h1.1M288.7,489.3h1.1M310.2,487.2h1.1M274.8,494.4h1.1M285.4,494.9h1.1M276.3,489.6h1.1M297.0,494.6h1.1M236.6,492.2h1.1M231.3,487.1h1.1M253.4,492.6h1.1M259.6,491.9h1.1M300.8,490.5h1.1M311.2,486.0h1.1M290.7,488.4h1.1M308.1,483.7h1.1M265.0,490.0h1.1M261.6,489.3h1.1M235.6,487.0h1.1M305.7,486.6h1.1M289.5,493.8h1.1M274.5,485.8h1.1M240.4,492.1h1.1M249.0,490.3h1.1M324.1,505.6h1.1M317.0,524.0h1.1M321.3,496.2h1.1M324.1,488.6h1.1M320.6,512.3h1.1M317.5,523.0h1.1M316.2,524.0h1.1M319.3,522.3h1.1M323.6,529.0h1.1M324.8,493.1h1.1M321.2,509.8h1.1M323.2,514.2h1.1M323.5,506.2h1.1M322.6,521.8h1.1M319.0,525.3h1.1M322.9,521.5h1.1M318.6,518.9h1.1M321.3,549.0h1.1M323.0,518.4h1.1M323.7,517.7h1.1M320.8,534.0h1.1M323.9,542.3h1.1M324.9,505.0h1.1M323.5,503.8h1.1M321.0,535.9h1.1M321.9,532.8h1.1M321.2,529.1h1.1M321.2,514.0h1.1M322.9,526.6h1.1M323.8,498.3h1.1M321.1,501.8h1.1M323.0,538.8h1.1M321.7,500.4h1.1M321.5,515.4h1.1M318.7,526.2h1.1M322.1,521.8h1.1M320.8,502.6h1.1M321.8,509.4h1.1M323.6,525.5h1.1M323.0,511.5h1.1M322.9,540.0h1.1M319.9,515.6h1.1M317.1,542.3h1.1M320.1,517.2h1.1M321.1,534.3h1.1M321.6,523.4h1.1M324.5,518.3h1.1M321.8,498.9h1.1M324.6,525.3h1.1M320.1,518.4h1.1M318.4,522.2h1.1M323.2,509.9h1.1M318.3,504.4h1.1M317.2,504.1h1.1M319.7,515.8h1.1M321.9,529.6h1.1M323.8,512.4h1.1M321.1,501.9h1.1M323.3,505.6h1.1M321.0,501.3h1.1M317.1,494.7h1.1M318.4,511.7h1.1M317.0,507.9h1.1M320.6,511.9h1.1M315.9,542.7h1.1M317.5,529.8h1.1M319.0,536.8h1.1M323.3,517.4h1.1M322.4,520.7h1.1M320.1,506.1h1.1M321.5,493.0h1.1M320.4,495.5h1.1M327.8,512.1h1.1M316.9,523.6h1.1M316.0,547.7h1.1M316.3,516.0h1.1M317.5,496.1h1.1M320.1,511.9h1.1M323.3,524.0h1.1M320.4,501.2h1.1M320.3,510.5h1.1M320.6,524.0h1.1M321.4,518.7h1.1M318.7,523.1h1.1M322.5,518.1h1.1M320.8,517.0h1.1M321.5,536.0h1.1M322.3,529.7h1.1M322.3,520.9h1.1M322.9,524.7h1.1M307.0,566.3h1.1M307.0,557.7h1.1M312.0,554.5h1.1M309.9,542.7h1.1M335.1,568.5h1.1M310.5,578.4h1.1M312.3,563.7h1.1M330.8,576.4h1.1M298.0,549.0h1.1M309.2,561.3h1.1M321.6,561.7h1.1M310.4,571.2h1.1M307.6,563.8h1.1M299.1,569.1h1.1M308.3,579.2h1.1M300.5,551.3h1.1M319.3,562.0h1.1M314.2,567.5h1.1M305.0,556.0h1.1M320.5,567.2h1.1M297.2,544.3h1.1M298.9,552.3h1.1M316.1,560.4h1.1M311.1,543.6h1.1M295.9,586.4h1.1M300.1,583.3h1.1M305.6,576.6h1.1M301.2,572.2h1.1M310.3,572.9h1.1M306.9,560.2h1.1M313.3,560.6h1.1M307.4,541.1h1.1M311.9,573.1h1.1M303.5,561.1h1.1M312.2,541.8h1.1M311.8,554.0h1.1M315.6,568.5h1.1M311.8,545.5h1.1M303.9,557.4h1.1M307.4,539.5h1.1M321.9,557.7h1.1M305.2,562.1h1.1M308.8,536.9h1.1M325.0,554.5h1.1M314.9,567.6h1.1M315.4,558.8h1.1M298.7,578.7h1.1M298.5,572.2h1.1M311.1,575.3h1.1M330.7,549.5h1.1M288.9,552.7h1.1M290.1,566.4h1.1M314.0,568.4h1.1M310.7,557.1h1.1M297.5,560.4h1.1M317.6,552.3h1.1M310.0,557.6h1.1M302.8,567.1h1.1M307.0,578.4h1.1M302.2,568.9h1.1M311.1,572.4h1.1M300.4,563.7h1.1M295.8,568.5h1.1M300.2,573.4h1.1M311.8,553.1h1.1M319.8,573.5h1.1M301.1,569.4h1.1M297.0,573.9h1.1M311.0,567.7h1.1M319.7,555.7h1.1M303.8,558.2h1.1M323.9,563.3h1.1M299.6,535.6h1.1M323.1,553.9h1.1M315.2,556.2h1.1M289.9,556.9h1.1M313.5,552.1h1.1M305.5,551.2h1.1M306.0,559.7h1.1M300.1,555.9h1.1M308.1,576.8h1.1M301.0,562.6h1.1M309.3,561.8h1.1M319.2,571.6h1.1M322.5,561.8h1.1M319.7,562.4h1.1M317.2,575.3h1.1M312.5,573.1h1.1M305.8,560.5h1.1M296.1,548.6h1.1M318.6,556.2h1.1M303.2,568.7h1.1M309.9,545.1h1.1M293.4,559.4h1.1M312.6,562.2h1.1M322.6,546.6h1.1M306.9,575.6h1.1M317.5,560.1h1.1M306.3,546.3h1.1M309.7,552.1h1.1M302.9,567.3h1.1M279.6,577.5h1.1M311.8,566.0h1.1M313.1,564.8h1.1M314.0,560.8h1.1M326.0,580.1h1.1M317.7,576.6h1.1M312.8,545.7h1.1M301.0,563.2h1.1M338.9,569.1h1.1M293.6,560.8h1.1M303.9,567.7h1.1M302.7,570.0h1.1M319.4,553.3h1.1M311.5,576.7h1.1M313.7,564.6h1.1M289.4,574.4h1.1M302.4,565.9h1.1M319.0,562.0h1.1M302.6,577.3h1.1M294.8,567.0h1.1M310.2,579.8h1.1M301.8,569.5h1.1M308.0,586.3h1.1M311.8,554.6h1.1M297.6,563.9h1.1M307.6,554.8h1.1M322.5,551.4h1.1M305.3,565.0h1.1M305.8,547.2h1.1M302.1,561.9h1.1M311.7,576.8h1.1M313.6,568.7h1.1M298.8,557.2h1.1M309.5,560.3h1.1M326.0,570.6h1.1M290.7,579.6h1.1M318.8,560.2h1.1M317.7,564.3h1.1M291.9,568.2h1.1M290.6,561.0h1.1M302.1,566.8h1.1M322.9,565.8h1.1M301.3,577.0h1.1M308.4,556.6h1.1M309.3,563.8h1.1M307.2,566.6h1.1M329.3,555.2h1.1M311.1,559.4h1.1M295.6,562.7h1.1M311.2,547.4h1.1M315.0,557.7h1.1M296.6,550.9h1.1M310.1,557.5h1.1M301.6,555.7h1.1M294.0,557.7h1.1M298.3,570.3h1.1M316.7,576.0h1.1M306.2,571.7h1.1M290.4,554.3h1.1M315.8,566.3h1.1M304.7,549.4h1.1M276.4,568.8h1.1M296.3,570.7h1.1M282.6,559.2h1.1M301.2,563.3h1.1M337.5,571.5h1.1M329.8,570.6h1.1M310.9,556.9h1.1M298.8,555.1h1.1M295.3,545.0h1.1M299.9,559.2h1.1M310.6,556.5h1.1M321.5,562.7h1.1M308.6,568.7h1.1M321.5,547.9h1.1M306.6,554.7h1.1M285.5,559.1h1.1M311.5,545.7h1.1M319.0,560.6h1.1M314.4,557.4h1.1M319.9,566.4h1.1M298.1,569.7h1.1M305.2,570.0h1.1M308.4,559.9h1.1M311.9,565.2h1.1M314.3,564.8h1.1M318.7,573.7h1.1M303.8,543.2h1.1M296.7,560.0h1.1M303.3,554.6h1.1M306.0,563.7h1.1M303.3,573.7h1.1M298.1,564.9h1.1M317.6,564.1h1.1M318.6,555.2h1.1M318.8,566.0h1.1M316.5,565.1h1.1M314.0,552.0h1.1M303.3,569.3h1.1M303.8,557.7h1.1M311.3,540.2h1.1M288.2,560.6h1.1M310.8,567.9h1.1M286.9,567.3h1.1M327.9,563.9h1.1M314.9,562.0h1.1M301.4,569.5h1.1M307.9,568.6h1.1M302.6,543.2h1.1M324.8,554.9h1.1M320.2,563.5h1.1M309.2,561.7h1.1M302.8,571.2h1.1M314.6,573.1h1.1M311.1,564.1h1.1M307.8,558.5h1.1M302.7,580.7h1.1M291.6,553.6h1.1M293.6,561.5h1.1M300.4,584.0h1.1M290.7,569.3h1.1M298.1,568.9h1.1M327.5,562.6h1.1M308.6,575.4h1.1M315.8,593.5h1.1M301.9,566.0h1.1M322.7,560.3h1.1M309.7,575.1h1.1M316.9,582.9h1.1M320.2,566.7h1.1M313.0,554.0h1.1M329.1,566.4h1.1M298.3,554.5h1.1M304.8,573.0h1.1M313.7,560.6h1.1M307.3,568.3h1.1M313.3,563.7h1.1M331.8,571.6h1.1M305.1,541.4h1.1M234.1,539.9h1.1M233.8,578.1h1.1M234.0,538.9h1.1M230.7,516.7h1.1M236.1,576.9h1.1M232.2,568.6h1.1M234.4,543.0h1.1M232.5,574.5h1.1M233.1,545.8h1.1M232.6,590.3h1.1M230.3,537.8h1.1M232.2,520.8h1.1M236.0,528.8h1.1M231.3,544.1h1.1M233.7,544.8h1.1M230.1,525.3h1.1M235.6,526.5h1.1M230.8,505.2h1.1M231.2,525.9h1.1M233.2,584.8h1.1M234.5,535.3h1.1M230.9,513.9h1.1M233.3,522.3h1.1M234.5,519.5h1.1M233.5,537.1h1.1M232.0,517.2h1.1M234.3,571.9h1.1M235.6,517.5h1.1M238.0,533.1h1.1M236.0,579.8h1.1M230.2,539.2h1.1M236.0,574.4h1.1M235.5,534.8h1.1M234.1,561.5h1.1M234.8,599.1h1.1M235.7,515.1h1.1M233.0,554.4h1.1M231.1,510.2h1.1M233.0,539.1h1.1M234.8,521.8h1.1M232.4,543.4h1.1M232.3,507.5h1.1M231.1,482.3h1.1M234.6,555.7h1.1M231.4,542.8h1.1M233.1,575.3h1.1M232.1,545.4h1.1M236.0,542.7h1.1M235.5,516.5h1.1M238.0,502.4h1.1M232.2,543.7h1.1M231.6,508.0h1.1M234.0,577.8h1.1M230.9,578.9h1.1M232.6,554.7h1.1M234.8,573.4h1.1M233.6,537.7h1.1M235.2,525.3h1.1M232.1,606.1h1.1M232.6,533.3h1.1M233.3,575.0h1.1M235.2,518.0h1.1M235.7,551.0h1.1M235.9,563.5h1.1M233.7,494.1h1.1M232.1,498.5h1.1M232.7,520.5h1.1M233.5,530.1h1.1M230.5,541.4h1.1M231.7,519.1h1.1M230.2,519.5h1.1M234.1,511.3h1.1M234.0,511.4h1.1M231.7,549.9h1.1M235.4,525.5h1.1M233.7,509.8h1.1M233.3,507.4h1.1M234.8,517.7h1.1M234.2,495.4h1.1M231.5,545.1h1.1M232.2,550.7h1.1M230.8,503.0h1.1M234.7,524.7h1.1M233.3,529.5h1.1M235.3,561.6h1.1M232.2,519.1h1.1M231.2,530.2h1.1M235.7,511.2h1.1M235.1,512.9h1.1M230.7,521.3h1.1M235.6,630.1h1.1M232.1,570.6h1.1M236.5,549.4h1.1M234.5,547.3h1.1M232.3,497.5h1.1M233.1,512.7h1.1M233.2,560.5h1.1M227.8,540.4h1.1M234.8,570.2h1.1M232.9,540.1h1.1M235.0,555.0h1.1M228.0,543.1h1.1M234.9,554.6h1.1M233.6,550.2h1.1M231.3,570.2h1.1M237.3,525.6h1.1M235.1,533.8h1.1M231.7,521.0h1.1M232.0,539.7h1.1M234.7,552.6h1.1M237.0,542.1h1.1M234.5,486.2h1.1M232.7,520.7h1.1M237.0,525.1h1.1M232.4,530.9h1.1M236.1,522.3h1.1M234.8,529.8h1.1M233.3,565.1h1.1M232.4,556.4h1.1M232.4,579.2h1.1M272.1,578.7h1.1M276.7,573.3h1.1M275.0,577.8h1.1M292.9,582.7h1.1M290.6,579.6h1.1M280.4,577.0h1.1M280.7,579.0h1.1M287.1,577.0h1.1M295.4,581.2h1.1M297.2,576.0h1.1M279.9,585.2h1.1M292.1,579.1h1.1M283.5,578.1h1.1M297.6,568.3h1.1M305.6,566.5h1.1M289.4,576.3h1.1M289.9,574.9h1.1M264.7,586.7h1.1M289.5,573.4h1.1M271.5,572.3h1.1M280.3,581.1h1.1M291.9,567.0h1.1M272.4,577.5h1.1M303.7,570.6h1.1M280.7,563.2h1.1M291.2,568.1h1.1M280.7,576.2h1.1M290.5,576.9h1.1M280.4,575.6h1.1M284.6,572.4h1.1M266.5,577.2h1.1M292.6,578.3h1.1M290.5,577.2h1.1M282.2,584.9h1.1M282.5,581.7h1.1M276.3,572.2h1.1M279.1,573.6h1.1M286.9,572.2h1.1M287.4,577.5h1.1M290.8,581.9h1.1M294.2,584.6h1.1M292.9,577.7h1.1M288.2,573.8h1.1M287.7,571.5h1.1M283.4,568.7h1.1M294.8,585.4h1.1M279.2,575.1h1.1M278.7,574.3h1.1M287.7,586.0h1.1M273.6,573.7h1.1M282.5,576.4h1.1M273.0,579.0h1.1M278.2,567.7h1.1M312.8,570.2h1.1M272.0,593.1h1.1M292.9,578.7h1.1M280.3,567.2h1.1M275.9,574.1h1.1M273.2,576.5h1.1M289.8,580.0h1.1M282.0,576.5h1.1M285.1,571.1h1.1M298.1,577.0h1.1M274.1,582.5h1.1M268.0,574.0h1.1M286.0,571.3h1.1M295.9,571.6h1.1M286.3,565.5h1.1M296.1,583.2h1.1M294.0,578.6h1.1M256.0,476.4h1.1M280.7,471.6h1.1M318.9,472.2h1.1M305.2,471.9h1.1M237.5,475.9h1.1M310.6,479.3h1.1M264.1,477.7h1.1M312.6,490.3h1.1M296.3,487.1h1.1M242.0,472.4h1.1M289.1,470.9h1.1M288.9,482.0h1.1M257.5,487.4h1.1M290.6,472.4h1.1M233.3,486.9h1.1M275.9,477.9h1.1M291.0,486.3h1.1M242.7,471.0h1.1M305.2,475.4h1.1M304.0,486.5h1.1M313.0,472.4h1.1M320.1,491.4h1.1M324.0,488.1h1.1M324.1,486.6h1.1M331.9,515.0h1.1M342.7,485.2h1.1M330.1,530.2h1.1" stroke="#554f49" stroke-width="1.1" fill="none" opacity="0.95"/>
<g filter="url(#rough3)">
<g fill="#554f49"><path d="M235,493 L318,493 C321,500 321,530 317,545 C325,551 325,571 316,576 C308,581 297,579 293,570 C290,573 284,574 279,574 L277,588 L238,588 L235,560 Z"/></g>
<g filter="url(#bl3)"><ellipse cx="309" cy="564" rx="5.5" ry="5.5" fill="#8a847d"/><ellipse cx="284" cy="545" rx="4" ry="12" fill="#857f78"/></g>
<g filter="url(#bl1)" fill="#e8322c"><path d="M238,497 L291,497 C292,505 288,518 280,525 C276,540 276,570 274,587 L242,587 C240,560 238,530 238,497 Z"/></g>
<g filter="url(#bl2)"><ellipse cx="260" cy="552" rx="5" ry="22" fill="#f4a59c" opacity="0.55"/></g>
</g>
<path d="M267.1,554.3h1.1M254.5,586.1h1.1M272.2,563.9h1.1M260.5,569.1h1.1M241.4,526.4h1.1M262.6,549.7h1.1M257.2,568.7h1.1M273.4,569.1h1.1M263.9,556.0h1.1M255.3,555.8h1.1M254.2,534.0h1.1M271.2,531.2h1.1M243.0,542.9h1.1M242.8,557.1h1.1M265.3,571.0h1.1M280.6,557.0h1.1M266.2,552.8h1.1M259.6,540.6h1.1M266.0,526.2h1.1M254.4,570.0h1.1M264.1,553.2h1.1M275.0,577.9h1.1M256.8,566.7h1.1M272.2,544.3h1.1M257.3,551.2h1.1M263.6,552.6h1.1M265.8,554.5h1.1M277.7,531.1h1.1M267.2,556.2h1.1M263.8,587.9h1.1M258.2,541.2h1.1M278.9,517.2h1.1M261.3,546.7h1.1M272.5,545.4h1.1M239.0,535.3h1.1M264.9,537.7h1.1M249.3,576.2h1.1M266.4,526.2h1.1M277.2,563.4h1.1M251.0,554.9h1.1M250.2,516.3h1.1M261.0,564.9h1.1M274.8,529.4h1.1M244.1,518.6h1.1M252.7,565.1h1.1M271.9,526.4h1.1M251.3,571.7h1.1M255.5,530.7h1.1M257.4,542.1h1.1M269.6,558.0h1.1M268.7,537.7h1.1M254.6,571.1h1.1M267.6,537.9h1.1M261.9,575.9h1.1M248.0,516.1h1.1M256.1,562.4h1.1M276.5,534.9h1.1M242.2,561.6h1.1M275.3,557.7h1.1M245.3,574.3h1.1M266.3,575.4h1.1M246.2,583.5h1.1M248.7,524.8h1.1M269.9,561.3h1.1M239.4,540.0h1.1M272.7,517.6h1.1M270.0,529.5h1.1M240.6,563.9h1.1M269.2,547.6h1.1M259.5,563.3h1.1M263.1,552.7h1.1M260.7,558.0h1.1M274.9,566.2h1.1M283.2,535.5h1.1M265.4,551.1h1.1M279.6,550.8h1.1M254.9,542.3h1.1M248.8,561.5h1.1M247.1,569.8h1.1M272.0,559.6h1.1M274.3,560.9h1.1M241.0,528.6h1.1M264.6,553.3h1.1M266.7,584.9h1.1M257.7,567.0h1.1M268.3,574.0h1.1M264.6,541.3h1.1M260.6,560.1h1.1M251.3,585.2h1.1M261.1,542.4h1.1M262.1,555.1h1.1M260.5,542.2h1.1M247.4,521.2h1.1M255.7,583.5h1.1M258.6,539.5h1.1M261.0,567.8h1.1M263.7,548.3h1.1M263.3,529.3h1.1M248.3,540.8h1.1M257.9,529.8h1.1M265.0,557.8h1.1M272.2,540.2h1.1M265.3,581.8h1.1M244.3,546.4h1.1M270.5,567.4h1.1M281.8,532.5h1.1M272.7,577.6h1.1M275.4,578.1h1.1M262.1,583.3h1.1M256.5,544.7h1.1M277.0,545.9h1.1M272.8,557.6h1.1M262.0,546.4h1.1M260.0,567.5h1.1M264.8,574.5h1.1M275.8,577.1h1.1M264.1,535.4h1.1M264.3,546.3h1.1M267.3,541.1h1.1M254.7,553.0h1.1M272.0,547.3h1.1M253.9,580.9h1.1M274.9,535.5h1.1M272.9,526.7h1.1M263.3,553.1h1.1M269.6,562.7h1.1M280.9,525.8h1.1M255.8,531.6h1.1M248.3,546.9h1.1M260.5,549.8h1.1M256.7,587.4h1.1M259.6,571.3h1.1M275.5,582.8h1.1M265.6,585.9h1.1M252.4,566.2h1.1M257.7,548.8h1.1M249.2,586.4h1.1M273.2,578.3h1.1M245.6,561.8h1.1M281.4,540.2h1.1M256.0,564.9h1.1M262.0,543.0h1.1M266.5,577.1h1.1M262.6,557.0h1.1M272.8,563.4h1.1M262.4,575.5h1.1M260.7,542.8h1.1M260.2,553.8h1.1M242.8,513.4h1.1M252.0,567.5h1.1M266.3,523.0h1.1M251.8,576.8h1.1M267.1,578.4h1.1M280.0,545.8h1.1M263.6,526.8h1.1M261.4,567.2h1.1M268.2,546.3h1.1M248.6,547.8h1.1M253.7,540.6h1.1M246.3,543.0h1.1M249.3,531.4h1.1M282.4,575.0h1.1M250.4,582.3h1.1M260.3,534.3h1.1M255.9,524.0h1.1M254.9,573.1h1.1M256.6,585.9h1.1M257.6,568.0h1.1M264.8,582.5h1.1M256.6,574.1h1.1M265.7,556.7h1.1M258.4,548.7h1.1M256.7,536.6h1.1M257.9,552.8h1.1M282.3,512.5h1.1M258.6,527.9h1.1M269.5,561.3h1.1M267.6,563.7h1.1M248.0,552.7h1.1M246.7,553.9h1.1M259.8,535.9h1.1M275.4,544.8h1.1M270.1,572.9h1.1M259.8,571.6h1.1M256.2,522.8h1.1M257.8,553.2h1.1M258.6,512.4h1.1M242.9,552.6h1.1M243.0,556.4h1.1M259.7,522.0h1.1M263.6,521.8h1.1M238.4,583.9h1.1M246.7,514.7h1.1M259.7,571.8h1.1M263.5,542.2h1.1M251.3,522.9h1.1M250.6,561.5h1.1M243.9,534.4h1.1M266.0,548.9h1.1M264.8,559.5h1.1M265.7,530.0h1.1M269.2,539.5h1.1M259.1,559.7h1.1M276.0,530.8h1.1M247.8,563.1h1.1M254.7,580.2h1.1M252.3,518.4h1.1M268.1,534.3h1.1M263.5,544.9h1.1M274.8,567.0h1.1M249.6,571.4h1.1M263.8,579.1h1.1M249.1,581.5h1.1M267.9,526.6h1.1M279.1,557.4h1.1M249.4,549.6h1.1M275.2,568.0h1.1M248.6,549.8h1.1M263.4,541.8h1.1M247.8,553.9h1.1M281.9,582.4h1.1M260.3,551.9h1.1M255.8,546.8h1.1M274.0,554.1h1.1M251.9,548.2h1.1M258.3,574.2h1.1M257.0,542.7h1.1M275.4,574.6h1.1M282.9,566.3h1.1M249.8,543.6h1.1M281.6,550.0h1.1M275.6,571.8h1.1M257.3,562.7h1.1M270.0,530.0h1.1M254.9,554.1h1.1M249.4,529.7h1.1M274.8,587.2h1.1M252.0,532.4h1.1M260.2,517.5h1.1M270.4,521.3h1.1M258.8,541.7h1.1M276.8,527.2h1.1M262.9,542.3h1.1M278.0,542.5h1.1M266.6,513.5h1.1M265.1,560.4h1.1M254.9,585.8h1.1M272.7,546.2h1.1M242.7,540.8h1.1M269.7,533.3h1.1M278.8,553.1h1.1M274.3,525.9h1.1M267.9,570.6h1.1M260.3,542.8h1.1M249.4,526.2h1.1M251.5,560.8h1.1M258.4,553.0h1.1M249.7,584.8h1.1M264.3,554.4h1.1M256.8,541.5h1.1M278.4,555.7h1.1M265.5,559.2h1.1M271.9,585.5h1.1M241.8,537.2h1.1M270.3,548.1h1.1M253.0,532.0h1.1M244.6,529.6h1.1M253.6,523.5h1.1M273.4,522.8h1.1M245.0,575.9h1.1M260.5,533.4h1.1M254.0,532.4h1.1M267.3,551.4h1.1M275.1,533.4h1.1M249.7,533.4h1.1M270.4,516.3h1.1M258.4,555.0h1.1M273.4,557.6h1.1M260.5,543.3h1.1M280.2,533.2h1.1M263.8,529.0h1.1M280.8,581.8h1.1M252.2,583.5h1.1M274.9,560.4h1.1M269.9,583.0h1.1M256.4,582.4h1.1M249.7,519.9h1.1M255.0,566.1h1.1M262.8,528.6h1.1M249.7,576.2h1.1M252.4,533.3h1.1M269.8,559.1h1.1M276.8,521.5h1.1M281.8,577.2h1.1M253.4,567.1h1.1M249.4,544.8h1.1M269.9,530.4h1.1M258.9,535.1h1.1M272.1,556.2h1.1M274.0,536.5h1.1M257.8,527.6h1.1M260.9,566.2h1.1M242.8,560.7h1.1M243.2,576.8h1.1M271.1,573.3h1.1M241.4,555.0h1.1M244.4,530.8h1.1M256.1,519.1h1.1M270.9,555.3h1.1M238.9,545.5h1.1M262.1,562.3h1.1M278.5,542.0h1.1M247.5,548.3h1.1M270.4,558.5h1.1M275.5,577.7h1.1M272.5,543.7h1.1M244.6,515.0h1.1M260.5,582.3h1.1M258.0,573.6h1.1M248.0,544.6h1.1M238.4,540.2h1.1M244.4,584.4h1.1M245.3,572.0h1.1M259.0,566.8h1.1M273.0,568.6h1.1M255.1,553.2h1.1M252.7,514.0h1.1M255.2,581.1h1.1M270.9,560.2h1.1M259.9,536.4h1.1M262.0,542.3h1.1M253.2,574.8h1.1M260.9,538.2h1.1M256.7,526.9h1.1M275.7,563.4h1.1M262.1,574.5h1.1M276.4,576.5h1.1M267.0,574.3h1.1M264.7,561.5h1.1M240.1,549.9h1.1M249.9,550.9h1.1M273.8,539.7h1.1M266.4,542.4h1.1M259.4,562.2h1.1M278.2,573.6h1.1M270.3,526.5h1.1M256.4,584.9h1.1M248.7,583.4h1.1M252.3,514.4h1.1M260.6,556.2h1.1M264.9,586.7h1.1M274.9,535.2h1.1M252.9,555.4h1.1M251.9,556.7h1.1M273.9,545.7h1.1M275.2,541.6h1.1M252.4,526.7h1.1M265.1,545.2h1.1M257.5,558.5h1.1M252.9,586.8h1.1M275.1,527.4h1.1M281.3,549.1h1.1M266.4,579.5h1.1M253.3,550.4h1.1M276.4,559.9h1.1M280.8,584.4h1.1M259.2,531.8h1.1M258.1,537.0h1.1M260.4,567.6h1.1M242.5,577.2h1.1M270.1,560.9h1.1M271.7,530.1h1.1M239.2,586.3h1.1M247.1,566.7h1.1M245.7,568.7h1.1M249.7,565.9h1.1M260.8,527.5h1.1M260.0,566.7h1.1M239.5,524.0h1.1M262.4,562.7h1.1M266.4,545.2h1.1M246.4,551.1h1.1M251.8,550.7h1.1M254.6,548.8h1.1M266.4,553.2h1.1M260.8,550.3h1.1M258.3,560.7h1.1M272.3,563.3h1.1M276.7,567.3h1.1M278.0,579.4h1.1M261.4,581.4h1.1M244.8,547.3h1.1M249.7,553.4h1.1M256.4,543.0h1.1M245.2,542.1h1.1M241.7,528.2h1.1M256.1,558.5h1.1M254.6,576.8h1.1M253.0,543.9h1.1M283.6,542.4h1.1M272.4,532.0h1.1M243.7,522.5h1.1M272.1,527.7h1.1M258.5,558.1h1.1M250.0,514.0h1.1M258.7,554.8h1.1M248.7,539.3h1.1M258.0,575.2h1.1M269.7,545.7h1.1M257.4,550.5h1.1M248.0,564.7h1.1M251.4,533.9h1.1M242.3,579.8h1.1M260.3,565.7h1.1M266.5,565.9h1.1M259.3,533.5h1.1M268.0,537.5h1.1M246.6,545.8h1.1M255.6,545.2h1.1M254.6,565.7h1.1M274.3,579.8h1.1M258.9,536.7h1.1M258.5,583.4h1.1M257.6,541.3h1.1M280.4,530.9h1.1M253.6,571.8h1.1M250.8,574.8h1.1M263.8,570.5h1.1M259.9,530.6h1.1M278.7,587.3h1.1M275.8,564.0h1.1M265.1,536.0h1.1M259.2,555.4h1.1" stroke="#554f49" stroke-width="1.1" fill="none" opacity="0.6"/>
<path d="M286.1,498.8h1.1M284.7,515.8h1.1M281.5,524.6h1.1M294.8,519.9h1.1M282.0,508.0h1.1M287.1,502.5h1.1M284.6,503.3h1.1M286.5,521.4h1.1M275.3,504.0h1.1M293.8,512.2h1.1M284.6,507.1h1.1M291.7,501.0h1.1M285.5,514.1h1.1M289.8,502.5h1.1M284.4,505.8h1.1M275.8,521.0h1.1M281.4,516.9h1.1M280.8,499.0h1.1M273.0,517.3h1.1M283.5,501.0h1.1M288.3,517.7h1.1M287.1,520.1h1.1M280.1,520.1h1.1M294.7,527.0h1.1M283.6,497.4h1.1M287.0,501.3h1.1M283.6,505.2h1.1M280.1,505.4h1.1M285.7,519.2h1.1M279.3,514.6h1.1M278.3,502.1h1.1M273.8,505.7h1.1M285.9,498.3h1.1M288.4,506.6h1.1M284.6,497.0h1.1M282.6,528.5h1.1M283.6,518.1h1.1M289.7,506.8h1.1M281.9,508.7h1.1M284.5,517.9h1.1M287.0,510.1h1.1M284.1,522.5h1.1M286.8,511.9h1.1M283.2,516.8h1.1M280.9,500.4h1.1M284.9,505.1h1.1M286.4,527.5h1.1M284.6,507.2h1.1M278.3,519.3h1.1M279.3,515.5h1.1M283.9,499.7h1.1M288.0,505.6h1.1M289.3,510.2h1.1M284.2,505.4h1.1M295.5,526.8h1.1M280.3,519.4h1.1M294.1,514.3h1.1M279.7,520.7h1.1M277.9,500.3h1.1M290.6,510.3h1.1M294.2,503.0h1.1M289.7,502.9h1.1M287.5,527.2h1.1M281.8,520.0h1.1M287.0,502.3h1.1M290.0,498.3h1.1M282.7,517.8h1.1M275.4,512.7h1.1M291.4,507.3h1.1M278.1,512.8h1.1M277.1,497.7h1.1M282.1,503.1h1.1M291.3,503.2h1.1M277.3,522.6h1.1M285.1,510.3h1.1M295.8,500.6h1.1M287.3,503.2h1.1M283.6,521.1h1.1M280.2,514.1h1.1M275.8,505.3h1.1M292.9,507.1h1.1M277.0,517.8h1.1M285.7,507.6h1.1M290.6,508.2h1.1M281.4,503.9h1.1M290.8,516.4h1.1M285.6,509.0h1.1M291.9,518.7h1.1M293.6,507.2h1.1M276.6,516.3h1.1M286.7,507.0h1.1M285.3,503.3h1.1M283.8,502.6h1.1M274.9,506.9h1.1M284.0,510.9h1.1M292.3,527.6h1.1M290.5,514.1h1.1M280.8,505.0h1.1M284.2,520.2h1.1M284.2,501.6h1.1M289.6,517.4h1.1M280.9,512.8h1.1M281.1,505.2h1.1M276.6,514.9h1.1M289.5,521.5h1.1M295.9,516.8h1.1M289.6,509.3h1.1" stroke="#554f49" stroke-width="1.1" fill="none" opacity="0.6"/>
<path d="M256.5,556.5h1.0M249.7,558.4h1.0M262.6,512.8h1.0M261.0,584.2h1.0M265.3,537.3h1.0M259.8,575.1h1.0M268.3,580.7h1.0M254.3,571.7h1.0M262.0,526.2h1.0M260.4,541.4h1.0M249.2,523.5h1.0M253.5,550.2h1.0M261.6,585.8h1.0M258.9,578.6h1.0M253.9,542.2h1.0M256.4,526.9h1.0M257.3,568.3h1.0M256.9,567.7h1.0M260.8,545.3h1.0M262.0,532.2h1.0M253.6,586.0h1.0M259.9,579.7h1.0M257.4,569.5h1.0M269.2,542.3h1.0M258.2,557.7h1.0M251.3,527.0h1.0M250.4,586.2h1.0M254.7,527.2h1.0M254.4,534.0h1.0M247.8,544.8h1.0M255.8,547.4h1.0M253.0,583.7h1.0M265.6,569.5h1.0M260.7,533.7h1.0M253.1,558.5h1.0M264.1,557.6h1.0M257.0,584.6h1.0M246.4,514.9h1.0M257.9,538.8h1.0M266.6,528.1h1.0M258.5,555.5h1.0M254.5,571.4h1.0M258.6,546.9h1.0M261.6,529.9h1.0M259.8,554.5h1.0M256.2,536.3h1.0M263.0,519.9h1.0M268.1,541.5h1.0M260.1,552.3h1.0M265.8,535.7h1.0M263.1,536.1h1.0M257.1,549.8h1.0M258.5,535.8h1.0M267.0,571.9h1.0M260.6,564.7h1.0M264.0,552.5h1.0M249.1,574.0h1.0M248.1,529.6h1.0M269.9,579.6h1.0M260.2,531.1h1.0M263.5,572.5h1.0M254.4,560.9h1.0M257.9,553.7h1.0M251.9,546.9h1.0M252.7,524.7h1.0M259.6,517.4h1.0M256.3,512.4h1.0M256.5,560.6h1.0M257.3,550.1h1.0M266.4,557.9h1.0M264.2,525.5h1.0M269.5,551.8h1.0M256.9,575.1h1.0M254.9,533.7h1.0M259.8,539.6h1.0M262.9,542.4h1.0M262.2,576.0h1.0M260.3,545.3h1.0M256.8,557.9h1.0M256.9,553.1h1.0M264.9,539.1h1.0M248.3,551.6h1.0M259.4,553.2h1.0M257.3,557.6h1.0M259.6,540.0h1.0M260.9,521.4h1.0M258.4,536.1h1.0M266.1,567.4h1.0M256.6,534.6h1.0M271.2,580.7h1.0M247.2,560.9h1.0M267.9,548.6h1.0M256.2,527.5h1.0M251.2,529.2h1.0M253.0,573.7h1.0M255.3,548.2h1.0M259.2,553.7h1.0M257.8,554.3h1.0M266.0,567.3h1.0M257.4,565.0h1.0M256.5,540.3h1.0M256.2,555.2h1.0M261.5,544.2h1.0M258.6,560.2h1.0M267.3,514.3h1.0M255.0,543.4h1.0M256.1,577.5h1.0M255.4,519.7h1.0M253.5,532.8h1.0M255.7,552.8h1.0M252.8,520.4h1.0M245.0,549.4h1.0M247.7,554.5h1.0M251.1,564.9h1.0M242.3,551.7h1.0M252.6,554.3h1.0M261.1,538.0h1.0M259.1,553.4h1.0M247.7,553.7h1.0M248.2,558.4h1.0M254.0,564.5h1.0M252.5,564.8h1.0M260.6,563.4h1.0M257.9,554.0h1.0M258.7,550.0h1.0M255.6,536.9h1.0M262.7,563.0h1.0M258.4,575.9h1.0M272.9,537.6h1.0M261.9,562.5h1.0M258.6,545.6h1.0M256.4,544.4h1.0M254.3,525.7h1.0M251.7,542.4h1.0M258.8,562.3h1.0M260.9,559.3h1.0M267.0,567.1h1.0M259.7,533.2h1.0M259.8,564.3h1.0M256.7,547.2h1.0M261.2,563.4h1.0M256.6,572.2h1.0M257.3,537.1h1.0M245.8,540.6h1.0M259.9,584.1h1.0M249.6,531.0h1.0M271.8,540.5h1.0M257.2,572.5h1.0" stroke="#f7c3bc" stroke-width="1.0" fill="none" opacity="0.7"/>
<path d="M254.5,507.1h1.1M243.6,516.6h1.1M275.3,500.9h1.1M266.6,504.6h1.1M263.0,502.2h1.1M264.6,518.8h1.1M256.9,492.6h1.1M264.4,511.1h1.1M276.3,508.4h1.1M249.8,515.3h1.1M268.9,512.4h1.1M256.6,495.1h1.1M285.5,489.9h1.1M280.0,501.6h1.1M287.7,508.8h1.1M257.0,505.8h1.1M260.2,500.7h1.1M271.1,508.9h1.1M261.1,491.4h1.1M279.3,515.8h1.1M263.7,517.8h1.1M241.2,515.5h1.1M246.5,511.0h1.1M272.6,520.3h1.1M269.7,494.9h1.1M235.7,504.6h1.1M272.2,504.5h1.1M253.0,501.4h1.1M240.0,509.1h1.1M266.4,505.1h1.1M261.5,500.6h1.1M284.2,497.9h1.1M284.6,491.1h1.1M289.7,513.1h1.1M245.1,495.3h1.1M283.9,500.6h1.1M270.6,521.1h1.1M237.1,504.8h1.1M267.6,521.8h1.1M288.1,510.5h1.1M299.3,510.7h1.1M264.4,510.1h1.1M287.4,491.7h1.1M275.4,491.5h1.1M266.0,501.5h1.1M264.3,513.0h1.1M253.6,511.0h1.1M270.7,509.7h1.1M236.7,494.7h1.1M255.0,502.3h1.1M235.2,505.4h1.1M251.0,495.6h1.1M276.9,490.4h1.1M267.1,513.0h1.1M269.0,494.7h1.1M257.4,502.4h1.1M243.9,504.0h1.1M284.0,508.2h1.1M281.1,497.0h1.1M243.0,492.9h1.1M260.6,502.1h1.1M274.4,495.9h1.1M244.7,505.3h1.1M250.1,490.0h1.1M275.7,500.3h1.1M269.4,492.3h1.1M286.6,523.9h1.1M280.3,499.2h1.1M278.0,501.0h1.1M251.8,492.2h1.1M266.5,495.2h1.1M247.4,502.3h1.1M280.3,517.8h1.1M282.4,516.2h1.1M264.1,499.9h1.1M285.4,506.5h1.1M273.0,517.0h1.1M269.6,507.3h1.1M264.9,506.2h1.1M286.2,513.2h1.1M267.1,500.4h1.1M254.7,508.2h1.1M278.6,512.3h1.1M294.5,510.5h1.1M271.7,505.1h1.1M289.6,493.0h1.1M261.3,504.1h1.1M284.5,520.1h1.1M286.7,500.0h1.1M261.0,508.1h1.1M240.7,488.9h1.1M263.7,495.1h1.1M269.5,504.5h1.1M283.6,513.1h1.1M298.9,499.3h1.1M281.0,522.2h1.1M247.1,490.9h1.1M255.7,514.6h1.1M277.2,516.6h1.1M277.2,520.7h1.1M275.9,496.7h1.1M236.2,491.7h1.1M259.0,491.0h1.1M267.7,495.7h1.1M263.9,508.6h1.1M255.5,500.9h1.1M271.5,500.9h1.1M293.2,510.3h1.1M242.2,502.6h1.1M293.4,506.2h1.1M248.8,518.2h1.1M249.1,498.1h1.1M247.9,505.5h1.1M284.3,497.4h1.1M278.0,511.4h1.1M290.2,493.7h1.1M252.5,495.9h1.1M244.4,510.7h1.1M279.6,521.5h1.1M247.2,502.9h1.1M269.6,501.3h1.1M298.1,509.3h1.1M246.7,495.4h1.1M282.2,505.9h1.1M264.4,496.6h1.1M262.3,499.8h1.1M259.9,504.4h1.1M243.5,505.3h1.1M250.0,501.8h1.1M261.1,503.8h1.1M277.6,500.8h1.1M240.0,501.8h1.1M297.7,519.1h1.1M260.8,517.9h1.1M284.6,496.4h1.1M244.1,512.2h1.1M291.1,521.9h1.1M279.9,502.7h1.1M278.3,505.1h1.1M235.3,508.0h1.1M277.4,500.2h1.1M284.1,504.8h1.1M268.3,502.8h1.1M261.5,502.4h1.1M264.5,506.6h1.1M266.8,492.2h1.1M251.1,515.2h1.1M276.8,505.9h1.1M255.8,506.9h1.1M289.8,500.6h1.1M253.0,515.6h1.1M257.6,518.9h1.1M295.5,502.2h1.1M283.7,509.3h1.1M250.7,518.6h1.1M273.0,510.7h1.1M270.0,516.3h1.1M257.0,500.5h1.1M234.2,519.3h1.1M286.4,497.2h1.1M281.6,490.8h1.1M283.3,503.6h1.1M294.4,501.9h1.1M260.3,518.1h1.1M277.6,504.2h1.1M243.7,503.0h1.1M261.2,505.4h1.1M255.6,516.7h1.1M250.6,502.5h1.1M270.5,498.7h1.1M283.2,508.7h1.1M255.4,507.0h1.1M249.9,508.7h1.1M264.0,509.7h1.1M268.0,495.0h1.1M278.4,509.3h1.1M248.2,517.5h1.1M289.4,519.8h1.1M264.8,507.4h1.1M272.0,494.1h1.1M261.9,504.1h1.1M290.7,496.3h1.1M286.0,497.0h1.1M299.2,515.9h1.1M242.2,501.6h1.1M267.3,494.6h1.1M287.8,506.2h1.1M290.2,516.7h1.1M281.0,509.8h1.1M255.8,506.5h1.1M251.7,516.9h1.1M289.5,512.4h1.1M261.6,506.2h1.1M288.2,511.0h1.1M253.3,506.4h1.1M286.3,504.3h1.1M272.2,515.1h1.1M249.1,497.5h1.1M268.7,507.5h1.1M274.9,505.9h1.1M283.8,491.5h1.1M292.4,502.8h1.1M241.8,505.9h1.1M253.9,514.7h1.1M254.6,509.7h1.1M240.9,504.6h1.1M263.3,500.9h1.1M261.0,497.7h1.1M251.4,509.4h1.1M287.8,520.6h1.1M272.2,511.3h1.1M255.6,513.7h1.1M262.8,512.3h1.1M277.3,519.5h1.1M275.3,494.6h1.1M286.6,509.2h1.1M294.9,497.1h1.1M259.0,500.4h1.1M249.2,511.3h1.1M259.5,512.5h1.1M271.6,503.9h1.1M256.6,514.8h1.1M275.2,504.8h1.1M244.2,503.8h1.1M268.1,505.2h1.1M275.5,505.6h1.1M251.8,515.4h1.1M284.1,514.6h1.1M252.7,500.6h1.1M264.8,509.8h1.1M284.1,508.1h1.1M248.2,509.3h1.1M271.8,495.0h1.1M297.2,507.5h1.1M274.5,499.5h1.1M257.4,495.6h1.1M256.8,505.3h1.1M273.4,501.9h1.1M277.6,509.4h1.1M276.1,509.2h1.1M268.8,504.7h1.1M251.7,507.6h1.1M262.1,504.4h1.1M271.7,497.7h1.1M279.2,513.8h1.1M255.6,513.2h1.1M282.5,514.3h1.1M299.8,496.2h1.1M278.5,496.2h1.1M284.1,506.9h1.1M259.8,512.8h1.1M248.1,505.3h1.1M278.0,515.0h1.1M275.9,495.9h1.1M289.4,510.1h1.1M247.3,497.8h1.1M246.2,571.3h1.1M267.9,560.4h1.1M252.2,540.9h1.1M260.1,564.4h1.1M271.3,570.1h1.1M252.1,546.7h1.1M271.9,525.2h1.1M247.8,562.1h1.1M277.0,574.6h1.1M247.4,567.7h1.1M244.7,524.0h1.1M265.4,561.2h1.1M277.9,552.8h1.1M236.9,544.4h1.1M272.8,546.6h1.1M275.3,536.7h1.1M264.7,533.5h1.1M242.1,558.1h1.1M246.8,550.2h1.1M266.2,553.5h1.1M274.2,556.1h1.1M242.9,523.5h1.1M244.9,552.8h1.1M269.1,550.2h1.1M250.8,557.5h1.1M268.7,569.0h1.1M254.1,535.4h1.1M253.3,572.9h1.1M258.3,567.4h1.1M268.6,543.2h1.1M267.9,566.8h1.1M259.2,581.6h1.1M278.1,587.1h1.1M280.0,546.2h1.1M270.4,572.5h1.1M241.8,551.4h1.1M251.5,532.1h1.1M266.7,578.8h1.1M277.3,572.1h1.1M252.1,545.8h1.1M276.3,558.2h1.1M244.4,541.4h1.1M254.3,539.0h1.1M256.6,554.2h1.1M276.2,575.1h1.1M255.1,549.7h1.1M261.3,576.0h1.1M282.6,559.6h1.1M263.5,550.9h1.1M242.0,552.7h1.1M246.0,502.2h1.1M253.7,576.2h1.1M263.1,567.6h1.1M263.7,561.9h1.1M237.7,556.8h1.1M245.2,526.4h1.1M243.2,553.8h1.1M259.7,528.6h1.1M264.9,537.3h1.1M257.2,521.6h1.1M266.5,542.0h1.1M257.5,577.1h1.1M261.1,562.3h1.1M279.1,527.8h1.1M270.2,529.0h1.1M253.0,578.3h1.1M255.6,544.8h1.1M274.9,572.6h1.1M251.1,576.5h1.1M265.9,524.0h1.1M243.6,493.8h1.1M253.6,516.3h1.1M264.6,514.9h1.1M289.0,537.0h1.1M263.5,541.8h1.1M246.4,565.6h1.1M237.9,533.5h1.1M261.9,528.3h1.1M256.5,571.7h1.1M242.5,526.4h1.1M259.9,515.5h1.1M245.3,552.4h1.1M257.9,580.1h1.1M266.2,551.4h1.1M250.6,510.0h1.1M277.4,550.0h1.1M248.4,578.0h1.1M245.3,532.5h1.1M274.1,510.0h1.1M254.3,549.7h1.1M250.5,497.2h1.1M247.8,563.0h1.1M265.6,569.4h1.1M251.4,554.6h1.1M253.6,521.9h1.1M236.2,578.4h1.1M241.7,585.4h1.1M254.5,580.6h1.1M241.2,541.0h1.1M253.4,564.0h1.1M273.9,533.6h1.1M261.1,582.1h1.1M273.8,540.2h1.1M246.9,520.5h1.1M267.5,545.6h1.1M254.0,565.0h1.1M269.6,548.5h1.1M245.0,546.8h1.1M261.2,526.6h1.1M272.2,553.1h1.1M262.2,548.6h1.1M263.4,552.7h1.1M255.9,546.8h1.1M248.5,529.9h1.1M271.7,509.6h1.1M261.4,556.4h1.1M246.5,580.0h1.1M271.9,506.7h1.1M265.1,508.0h1.1M238.5,568.9h1.1M265.0,577.7h1.1M273.7,536.6h1.1M239.2,535.6h1.1M274.9,517.8h1.1M262.8,534.1h1.1M254.6,572.7h1.1M264.0,542.0h1.1M268.3,559.5h1.1M255.2,570.6h1.1M247.6,533.4h1.1M268.0,540.5h1.1M264.6,554.7h1.1M244.3,529.7h1.1M277.0,552.5h1.1M256.2,566.2h1.1M284.6,551.0h1.1M279.2,508.3h1.1M257.8,557.1h1.1M270.5,545.2h1.1M246.3,549.4h1.1M262.2,520.7h1.1M235.0,551.6h1.1M245.0,547.2h1.1M258.9,535.5h1.1M267.9,530.6h1.1M271.1,545.8h1.1M274.9,502.1h1.1M273.2,555.9h1.1M253.6,537.0h1.1M258.5,575.6h1.1M251.3,503.5h1.1M260.2,537.5h1.1M236.2,557.1h1.1M249.0,556.2h1.1M278.4,538.8h1.1M261.9,573.8h1.1M250.7,537.9h1.1M268.7,562.4h1.1M263.4,548.4h1.1M259.0,543.2h1.1M254.8,530.2h1.1M246.2,532.5h1.1M259.3,535.7h1.1M261.2,557.8h1.1M260.0,534.7h1.1M279.4,523.4h1.1M260.0,564.3h1.1M263.9,552.9h1.1M276.6,563.1h1.1M271.0,551.5h1.1M258.8,567.8h1.1M246.1,557.3h1.1M249.5,561.7h1.1M272.4,574.1h1.1M281.0,553.5h1.1M265.5,567.7h1.1M253.4,588.4h1.1M255.5,545.5h1.1M281.0,566.0h1.1M266.0,541.5h1.1M268.8,545.6h1.1M260.6,566.9h1.1M257.6,505.0h1.1M242.4,545.8h1.1M259.6,516.5h1.1M250.4,564.9h1.1M239.4,562.4h1.1M251.8,570.5h1.1M256.1,501.4h1.1M283.7,547.4h1.1M251.3,571.9h1.1M250.0,583.8h1.1M258.5,563.8h1.1M270.2,587.1h1.1M242.8,560.3h1.1M256.1,546.6h1.1M276.4,558.1h1.1M236.8,559.8h1.1M257.6,562.8h1.1M256.5,563.2h1.1M273.7,513.7h1.1M271.2,537.6h1.1M260.2,554.1h1.1M248.2,531.1h1.1M263.8,544.9h1.1M248.1,519.8h1.1M247.0,547.5h1.1M258.8,574.2h1.1M285.7,551.2h1.1M283.2,570.0h1.1M278.9,545.6h1.1M238.1,529.9h1.1M267.7,552.9h1.1M249.4,505.6h1.1M265.9,530.9h1.1M271.3,541.3h1.1M268.9,535.5h1.1M250.8,558.7h1.1M246.2,530.2h1.1M269.0,572.1h1.1M276.3,569.8h1.1M249.6,552.4h1.1M248.1,533.0h1.1M257.9,521.2h1.1M252.2,564.7h1.1M272.4,542.8h1.1M270.6,570.7h1.1M251.6,584.2h1.1M248.0,526.7h1.1M255.4,547.6h1.1M261.4,537.1h1.1M218.6,489.7h1.1M265.7,490.5h1.1M253.9,488.6h1.1M256.0,487.6h1.1M268.1,487.1h1.1M279.4,488.3h1.1M271.7,489.0h1.1M292.2,491.8h1.1M249.5,489.1h1.1M276.2,487.3h1.1M248.0,485.7h1.1M257.1,486.6h1.1M281.0,490.1h1.1M270.7,489.2h1.1M265.9,492.9h1.1M265.6,488.5h1.1M273.5,487.7h1.1M284.4,493.1h1.1M272.7,491.8h1.1M254.1,492.5h1.1M276.6,485.3h1.1M261.3,488.8h1.1M266.6,489.6h1.1M264.7,489.5h1.1M278.8,482.0h1.1M266.0,489.1h1.1M255.3,488.9h1.1M236.8,492.2h1.1M238.6,488.3h1.1M268.2,489.1h1.1M250.4,488.4h1.1M277.3,485.7h1.1M262.7,490.8h1.1M266.9,494.6h1.1M261.1,486.1h1.1M307.2,493.5h1.1M279.1,494.0h1.1M271.3,484.8h1.1M274.0,485.1h1.1M219.5,486.6h1.1M246.3,486.1h1.1M283.3,486.8h1.1M284.6,485.8h1.1M248.2,487.9h1.1M224.7,490.3h1.1M238.6,491.3h1.1M270.9,488.3h1.1M258.1,486.0h1.1M281.0,490.5h1.1M257.4,490.8h1.1" stroke="#e8322c" stroke-width="1.1" fill="none" opacity="0.95"/>
</g>
<g clip-path="url(#cB6)">
<path d="M402.3,499.4h1.1M435.3,505.3h1.1M393.3,498.0h1.1M404.5,500.4h1.1M426.9,499.7h1.1M417.1,496.7h1.1M454.6,500.0h1.1M419.4,500.5h1.1M430.6,498.1h1.1M455.2,499.4h1.1M381.0,502.7h1.1M441.9,502.5h1.1M456.2,501.6h1.1M418.1,502.1h1.1M454.4,503.5h1.1M393.2,500.1h1.1M399.4,498.9h1.1M386.3,500.8h1.1M468.3,500.9h1.1M399.7,499.0h1.1M438.3,501.1h1.1M376.8,501.2h1.1M449.6,502.9h1.1M385.4,498.4h1.1M403.1,503.4h1.1M351.3,500.1h1.1M387.2,497.4h1.1M449.9,503.0h1.1M384.2,501.7h1.1M467.9,500.8h1.1M485.1,497.9h1.1M418.0,502.5h1.1M384.7,498.2h1.1M412.7,498.1h1.1M430.3,500.4h1.1M365.8,502.7h1.1M404.8,500.6h1.1M427.8,500.8h1.1M435.5,498.4h1.1M369.9,502.6h1.1M422.0,499.7h1.1M426.5,501.9h1.1M455.1,506.9h1.1M432.3,501.0h1.1M453.9,498.2h1.1M439.7,497.3h1.1M399.7,498.3h1.1M502.4,498.2h1.1M443.0,501.1h1.1M431.1,503.5h1.1M413.1,500.5h1.1M468.5,499.8h1.1M426.5,501.9h1.1M440.5,498.6h1.1M430.3,500.0h1.1M420.2,502.6h1.1M379.0,503.3h1.1M407.6,499.7h1.1M474.0,499.7h1.1M431.1,499.4h1.1M404.5,501.2h1.1M398.4,504.0h1.1M399.8,500.7h1.1M411.8,497.9h1.1M419.3,503.0h1.1M465.5,503.0h1.1M434.1,503.1h1.1M472.4,502.4h1.1M376.0,499.7h1.1M418.7,498.2h1.1M368.7,501.8h1.1M361.7,499.9h1.1M429.9,500.8h1.1M372.2,503.5h1.1M425.3,496.4h1.1M398.3,496.6h1.1M456.5,497.2h1.1M457.9,498.9h1.1M378.2,500.2h1.1M445.3,501.2h1.1M423.0,498.7h1.1M438.3,503.1h1.1M408.4,499.8h1.1M458.5,502.2h1.1M451.6,504.2h1.1M421.9,503.0h1.1M377.6,499.8h1.1M354.5,500.3h1.1M451.6,501.6h1.1M428.7,502.4h1.1M382.0,497.9h1.1M395.7,498.0h1.1M498.1,499.2h1.1M391.5,502.9h1.1M433.1,501.0h1.1M460.9,500.3h1.1M490.5,497.3h1.1M432.9,497.4h1.1M437.8,501.3h1.1M389.4,498.1h1.1M436.9,502.7h1.1M422.4,498.5h1.1M392.1,500.9h1.1M390.2,502.2h1.1M459.8,501.8h1.1M454.2,500.4h1.1M500.7,505.4h1.1M413.7,500.3h1.1M364.9,501.5h1.1M482.6,499.7h1.1M441.9,502.8h1.1M473.4,503.3h1.1M403.9,503.2h1.1M412.4,501.2h1.1M467.9,502.7h1.1M401.1,498.2h1.1M422.3,499.7h1.1M423.7,502.0h1.1M450.4,495.5h1.1M454.8,496.9h1.1M402.0,502.1h1.1M451.6,500.9h1.1M418.1,499.9h1.1M421.7,500.0h1.1M429.3,503.9h1.1M452.2,501.6h1.1M422.2,499.7h1.1M439.2,497.2h1.1M403.1,500.8h1.1M384.0,497.9h1.1M393.0,500.1h1.1M432.8,498.8h1.1M427.9,503.4h1.1M430.1,498.9h1.1M386.7,500.4h1.1M403.2,503.7h1.1M426.5,495.4h1.1M446.0,499.3h1.1M440.3,496.9h1.1M416.1,504.1h1.1M405.1,501.5h1.1M381.8,500.3h1.1M410.2,500.9h1.1M458.7,502.3h1.1M418.9,501.9h1.1M409.1,500.8h1.1M433.1,502.7h1.1M504.3,501.4h1.1M411.7,505.0h1.1M396.9,498.1h1.1M375.8,499.8h1.1M366.4,502.3h1.1M436.5,502.5h1.1M434.5,499.4h1.1M407.1,503.6h1.1M436.2,502.7h1.1M441.8,504.5h1.1M402.5,500.0h1.1M432.5,503.4h1.1M449.4,500.4h1.1M381.9,501.4h1.1M420.6,502.4h1.1M427.1,499.6h1.1M372.5,499.9h1.1M494.9,504.6h1.1M455.7,498.4h1.1M480.0,501.9h1.1M382.9,503.7h1.1M423.3,504.0h1.1M458.9,500.2h1.1M471.3,494.3h1.1M476.1,490.8h1.1M472.4,522.3h1.1M473.6,555.0h1.1M471.9,562.3h1.1M470.4,542.5h1.1M472.2,575.5h1.1M472.9,552.2h1.1M469.5,536.8h1.1M476.7,577.2h1.1M472.9,548.8h1.1M477.2,521.3h1.1M476.1,548.3h1.1M472.3,514.9h1.1M473.5,567.1h1.1M472.5,534.9h1.1M473.5,497.7h1.1M473.7,571.6h1.1M474.4,550.3h1.1M474.5,528.5h1.1M473.9,544.6h1.1M472.1,557.0h1.1M470.0,540.0h1.1M474.0,546.4h1.1M473.1,566.6h1.1M475.0,530.8h1.1M472.1,540.6h1.1M474.1,584.2h1.1M471.3,533.6h1.1M474.4,524.3h1.1M472.9,542.9h1.1M474.5,564.5h1.1M479.4,521.8h1.1M475.4,535.3h1.1M473.3,526.1h1.1M474.2,583.1h1.1M473.6,570.7h1.1M473.5,549.1h1.1M473.7,568.5h1.1M473.6,507.6h1.1M473.5,522.4h1.1M475.8,547.7h1.1M475.8,572.7h1.1M477.5,505.0h1.1M474.6,548.7h1.1M474.5,533.7h1.1M478.9,533.6h1.1M470.3,543.4h1.1M474.0,514.3h1.1M474.6,575.4h1.1M475.0,527.1h1.1M472.1,549.1h1.1M472.7,513.8h1.1M470.3,523.6h1.1M472.4,498.1h1.1M469.3,576.0h1.1M475.3,604.5h1.1M473.1,542.6h1.1M471.3,549.7h1.1M476.7,589.7h1.1M473.5,525.4h1.1M471.3,547.5h1.1M474.6,524.1h1.1M472.4,561.3h1.1M469.2,551.6h1.1M473.7,567.4h1.1M476.9,565.9h1.1M469.7,515.6h1.1M472.5,526.4h1.1M475.1,546.3h1.1M474.2,555.4h1.1M475.5,538.9h1.1M473.0,556.3h1.1M476.4,560.7h1.1M473.5,531.1h1.1M473.3,542.2h1.1M474.4,531.2h1.1M472.9,513.0h1.1M472.8,566.6h1.1M472.5,586.0h1.1M471.7,537.3h1.1M471.9,583.4h1.1M470.5,580.7h1.1M474.7,527.5h1.1M474.2,533.7h1.1M469.1,528.7h1.1M472.5,565.0h1.1M473.6,574.0h1.1M471.2,529.7h1.1M474.4,505.0h1.1M472.2,543.5h1.1M473.5,572.6h1.1M471.4,551.4h1.1M473.9,542.0h1.1M473.8,502.2h1.1M478.6,556.7h1.1M477.0,534.0h1.1M473.9,542.7h1.1M473.6,544.9h1.1M473.6,530.8h1.1M474.1,519.0h1.1M468.7,544.5h1.1M473.4,555.0h1.1M474.9,583.2h1.1M473.6,535.1h1.1M470.8,516.6h1.1M470.1,586.7h1.1M469.5,567.4h1.1M477.1,523.6h1.1M475.1,535.7h1.1M476.4,543.5h1.1M472.8,576.6h1.1M471.8,541.7h1.1M470.0,576.6h1.1M474.3,547.7h1.1M470.3,524.2h1.1M471.7,546.9h1.1M476.1,501.4h1.1M476.8,526.6h1.1M472.9,556.4h1.1M475.4,522.2h1.1M473.8,533.9h1.1M474.6,511.3h1.1M470.6,542.1h1.1M474.1,500.7h1.1M474.0,533.0h1.1M474.4,560.0h1.1M474.3,528.8h1.1M473.8,563.6h1.1M474.7,551.5h1.1M471.8,557.0h1.1M474.3,524.2h1.1M471.5,540.1h1.1M473.7,516.9h1.1M472.5,524.0h1.1M471.9,529.6h1.1M472.2,554.6h1.1M472.3,579.3h1.1M475.3,509.3h1.1M471.9,577.7h1.1M474.3,486.0h1.1M474.7,491.7h1.1M478.4,583.3h1.1M475.7,571.1h1.1M471.5,546.3h1.1M470.9,547.1h1.1M473.7,542.6h1.1M474.6,488.8h1.1M472.1,558.3h1.1M475.6,530.0h1.1M366.8,588.7h1.1M441.0,590.3h1.1M447.4,583.7h1.1M464.5,584.8h1.1M456.4,585.8h1.1M419.5,584.5h1.1M446.2,587.8h1.1M426.1,586.4h1.1M431.3,585.6h1.1M479.4,583.4h1.1M418.1,583.5h1.1M356.8,586.1h1.1M414.3,582.9h1.1M383.7,587.3h1.1M398.3,585.3h1.1M467.3,587.7h1.1M439.1,586.5h1.1M405.0,587.0h1.1M422.2,586.7h1.1M455.1,585.0h1.1M432.3,585.1h1.1M474.9,585.4h1.1M398.6,586.2h1.1M434.0,587.3h1.1M430.2,585.7h1.1M401.9,588.2h1.1M436.4,585.4h1.1M446.3,584.2h1.1M460.0,584.9h1.1M370.5,585.0h1.1M430.8,588.3h1.1M444.1,587.4h1.1M460.5,586.7h1.1M437.8,585.9h1.1M428.2,586.5h1.1M407.6,584.1h1.1M467.7,590.0h1.1M424.4,587.0h1.1M469.6,587.7h1.1M430.1,588.0h1.1M435.4,586.0h1.1M404.2,585.8h1.1M389.6,584.5h1.1M435.0,585.9h1.1M421.8,585.8h1.1M464.2,583.1h1.1M388.2,586.5h1.1M389.6,584.1h1.1M456.2,585.7h1.1M401.1,589.7h1.1M395.2,588.8h1.1M367.1,583.7h1.1M399.7,586.3h1.1M441.8,586.6h1.1M451.2,588.6h1.1M372.5,589.3h1.1M434.5,586.1h1.1M397.9,585.2h1.1M404.7,586.7h1.1M441.4,586.8h1.1M419.5,583.1h1.1M432.4,586.5h1.1M441.9,585.4h1.1M441.3,588.7h1.1M433.7,587.0h1.1M448.7,586.5h1.1M410.2,587.4h1.1M398.8,585.8h1.1M400.6,586.3h1.1M425.0,586.6h1.1M402.0,583.1h1.1M430.3,587.5h1.1M420.0,587.7h1.1M466.9,587.2h1.1M397.7,587.8h1.1M458.6,584.2h1.1M444.8,586.4h1.1M489.3,585.8h1.1M407.6,585.7h1.1M440.8,584.1h1.1M409.8,584.6h1.1M414.7,585.8h1.1M433.6,584.3h1.1M451.6,585.4h1.1M466.5,584.1h1.1M415.8,586.8h1.1M406.1,589.3h1.1M429.0,586.7h1.1M456.9,585.9h1.1M442.9,583.8h1.1M444.9,584.8h1.1M452.5,587.0h1.1M427.3,586.2h1.1M443.3,585.6h1.1M483.7,583.0h1.1M442.2,584.2h1.1M408.8,586.6h1.1M416.0,584.4h1.1M420.1,587.3h1.1M435.0,586.1h1.1M444.0,584.4h1.1M383.7,588.9h1.1M405.5,581.9h1.1M415.3,585.3h1.1M397.6,583.5h1.1M369.7,585.4h1.1M391.2,586.8h1.1M455.1,588.1h1.1M388.9,586.6h1.1M470.3,585.6h1.1M426.9,586.3h1.1M429.7,584.0h1.1M478.0,585.8h1.1M480.4,587.2h1.1M392.6,586.4h1.1M454.3,587.1h1.1M442.9,585.3h1.1M405.8,586.9h1.1M416.3,585.7h1.1M399.7,584.5h1.1M376.6,561.0h1.1M375.4,576.0h1.1M377.6,507.4h1.1M378.2,525.6h1.1M379.2,537.9h1.1M377.8,501.0h1.1M377.2,543.0h1.1M379.5,541.9h1.1M379.7,534.9h1.1M379.8,538.0h1.1M379.6,503.9h1.1M378.1,554.5h1.1M379.6,573.7h1.1M379.7,508.3h1.1M380.4,512.0h1.1M378.6,540.3h1.1M377.4,512.0h1.1M380.6,518.9h1.1M380.4,530.7h1.1M378.7,507.1h1.1M375.7,499.9h1.1M377.7,562.8h1.1M380.5,514.7h1.1M377.9,560.5h1.1M378.1,520.2h1.1M380.6,556.0h1.1M379.1,528.1h1.1M379.0,503.2h1.1M377.9,551.3h1.1M379.5,535.9h1.1M379.2,522.4h1.1M380.0,591.8h1.1M376.3,581.9h1.1M380.8,511.9h1.1M381.8,536.9h1.1M379.8,529.9h1.1M378.4,519.0h1.1M380.8,551.4h1.1M380.9,558.6h1.1M377.9,565.7h1.1M378.9,511.3h1.1M379.3,553.0h1.1M377.7,569.8h1.1M378.8,490.2h1.1M380.4,531.0h1.1M382.1,520.0h1.1M376.3,556.7h1.1M380.0,504.2h1.1M376.8,537.6h1.1M378.1,534.5h1.1M380.0,520.6h1.1M377.5,538.7h1.1M379.6,501.2h1.1M378.3,511.3h1.1M380.1,516.3h1.1M377.0,558.0h1.1M382.0,572.6h1.1M377.6,533.7h1.1M378.0,529.1h1.1M377.2,500.5h1.1M381.0,504.8h1.1M379.6,543.0h1.1M379.1,565.3h1.1M381.3,529.1h1.1M377.3,521.9h1.1M377.7,524.8h1.1M379.5,553.9h1.1M377.8,569.5h1.1M378.6,538.8h1.1M378.7,530.4h1.1M378.6,545.2h1.1M379.4,525.5h1.1M377.3,538.0h1.1M380.6,566.7h1.1M379.0,550.9h1.1M377.9,502.3h1.1M378.2,587.1h1.1M379.4,608.8h1.1M378.8,504.5h1.1M379.8,528.7h1.1M381.2,554.7h1.1M379.0,569.9h1.1M376.6,495.5h1.1M379.5,579.9h1.1M379.2,569.3h1.1M379.2,556.2h1.1M378.8,537.9h1.1M376.6,494.2h1.1M378.6,543.9h1.1M379.3,520.8h1.1M378.8,549.0h1.1M381.4,529.5h1.1M381.6,510.4h1.1M376.1,589.9h1.1M382.0,602.5h1.1M377.2,503.6h1.1M378.3,546.4h1.1M383.2,514.2h1.1M381.4,558.2h1.1M380.4,518.0h1.1M377.5,551.6h1.1M379.2,526.8h1.1M379.8,555.9h1.1M377.6,496.1h1.1M379.6,551.0h1.1M377.0,545.6h1.1M381.1,550.4h1.1M378.9,544.4h1.1M377.8,573.6h1.1M381.1,571.0h1.1M420.8,499.5h1.1M416.6,472.3h1.1M464.6,485.4h1.1M457.7,496.7h1.1M447.2,481.7h1.1M414.0,475.0h1.1M424.1,475.3h1.1M457.4,471.9h1.1M454.5,482.8h1.1M455.5,488.7h1.1M446.5,479.0h1.1M409.0,483.5h1.1M419.7,487.4h1.1M401.7,488.0h1.1M471.1,482.9h1.1M455.7,492.6h1.1M427.3,478.0h1.1M403.4,496.4h1.1M488.8,562.7h1.1M477.3,536.9h1.1M484.4,559.0h1.1M480.2,517.4h1.1M483.8,575.5h1.1M477.7,577.7h1.1M480.7,575.8h1.1M476.6,530.4h1.1M487.6,568.1h1.1M491.2,550.1h1.1M478.6,525.2h1.1M497.8,524.2h1.1M480.9,506.9h1.1M494.3,573.8h1.1M480.2,516.8h1.1M474.8,579.9h1.1M475.6,527.7h1.1M475.3,524.1h1.1M496.0,568.3h1.1M486.5,559.2h1.1M493.9,504.9h1.1M487.6,541.9h1.1M474.1,530.2h1.1M489.6,513.4h1.1" stroke="#6a665f" stroke-width="1.1" fill="none" opacity="0.95"/>
<g filter="url(#rough3)">
<g fill="#86827c"><rect x="380" y="502.5" width="92.5" height="82.5" rx="10"/></g>
<g filter="url(#bl2)"><rect x="382" y="504.5" width="88.5" height="78.5" rx="9" fill="none" stroke="#67635c" stroke-width="5"/></g>
<g filter="url(#bl4)"><ellipse cx="397" cy="566" rx="13" ry="13" fill="#ffffff"/><ellipse cx="404" cy="546" rx="9" ry="13" fill="#d6d3ce"/><ellipse cx="452" cy="524" rx="14" ry="17" fill="#bdb9b3"/><ellipse cx="432" cy="571" rx="14" ry="8" fill="#b8b4ae"/><ellipse cx="425" cy="545" rx="22" ry="14" fill="#a19d97" opacity="0.7"/></g>
<g filter="url(#bl2)"><ellipse cx="396" cy="568" rx="6" ry="6" fill="#ffffff"/></g>
<g filter="url(#bl15)"><ellipse cx="408.5" cy="521.5" rx="12.5" ry="10" fill="#e8322c"/></g>
</g>
<path d="M407.8,519.9h1.1M418.0,529.3h1.1M395.3,516.3h1.1M415.1,518.5h1.1M408.3,537.1h1.1M413.3,523.7h1.1M411.0,538.6h1.1M412.3,520.3h1.1M405.6,511.8h1.1M419.3,521.5h1.1M420.1,525.7h1.1M416.1,520.0h1.1M400.7,508.9h1.1M406.6,506.1h1.1M411.3,538.5h1.1M429.4,514.3h1.1M416.8,526.4h1.1M414.5,530.8h1.1M421.2,530.1h1.1M395.6,492.1h1.1M415.3,506.8h1.1M378.5,509.1h1.1M403.7,527.1h1.1M410.6,516.8h1.1M393.5,509.4h1.1M384.3,527.1h1.1M394.0,528.6h1.1M413.2,521.9h1.1M412.6,508.7h1.1M412.3,524.6h1.1M406.8,513.1h1.1M419.4,520.0h1.1M414.3,524.0h1.1M402.7,523.4h1.1M408.5,519.4h1.1M429.1,520.7h1.1M403.3,527.7h1.1M396.3,522.7h1.1M394.5,498.0h1.1M387.9,514.1h1.1M394.8,521.6h1.1M422.3,531.3h1.1M415.3,516.7h1.1M414.1,515.9h1.1M417.0,525.8h1.1M401.7,511.4h1.1M404.4,527.6h1.1M409.7,515.6h1.1M423.6,523.4h1.1M403.8,524.8h1.1M394.5,525.4h1.1M399.3,532.1h1.1M424.0,519.6h1.1M407.7,514.5h1.1M395.5,521.9h1.1M411.8,541.8h1.1M416.5,531.9h1.1M400.4,512.6h1.1M401.9,510.1h1.1M398.3,520.0h1.1M391.4,508.2h1.1M404.4,509.6h1.1M416.0,532.3h1.1M414.9,531.7h1.1M407.7,530.8h1.1M393.8,537.3h1.1M409.8,502.8h1.1M419.1,523.3h1.1M419.8,515.8h1.1M402.8,531.6h1.1M399.1,512.5h1.1M418.7,526.0h1.1M410.0,530.0h1.1M423.7,531.2h1.1M418.3,537.0h1.1M420.5,536.2h1.1M409.2,523.2h1.1M396.3,507.5h1.1M413.4,526.0h1.1M406.2,536.2h1.1M415.5,533.2h1.1M407.1,503.1h1.1M415.4,513.1h1.1M402.6,528.0h1.1M409.9,527.3h1.1M419.4,523.0h1.1M423.9,523.3h1.1M396.0,514.6h1.1M412.2,526.9h1.1M411.8,538.8h1.1M411.2,522.8h1.1M409.0,506.2h1.1M410.9,515.6h1.1M404.6,527.0h1.1M414.4,527.3h1.1M424.1,514.9h1.1M392.2,513.9h1.1M423.9,523.7h1.1M395.6,524.7h1.1M405.1,523.6h1.1M399.6,522.0h1.1M415.9,521.8h1.1M406.5,515.4h1.1M414.9,504.1h1.1M388.7,510.2h1.1M408.7,518.3h1.1M417.8,529.3h1.1M408.9,513.5h1.1M398.4,541.4h1.1M409.8,520.6h1.1M425.9,514.5h1.1M419.0,529.1h1.1M421.8,533.5h1.1M399.8,536.2h1.1M408.8,530.2h1.1M403.1,527.4h1.1M407.2,518.8h1.1M399.1,523.9h1.1M401.8,525.1h1.1M422.9,515.5h1.1M396.4,526.3h1.1M416.2,504.8h1.1M407.4,515.7h1.1M402.9,517.8h1.1M416.5,522.6h1.1M410.9,526.3h1.1M423.0,525.6h1.1M430.7,524.9h1.1M416.0,508.3h1.1M405.3,542.6h1.1M402.7,517.4h1.1M391.9,533.7h1.1M409.8,524.5h1.1M402.7,523.5h1.1M431.7,519.6h1.1M403.3,521.5h1.1M402.4,506.8h1.1M399.1,518.6h1.1M407.9,542.8h1.1M403.1,528.5h1.1M390.6,516.5h1.1M420.6,518.1h1.1M414.0,517.4h1.1M426.4,520.3h1.1M416.2,534.3h1.1M409.2,526.7h1.1M419.1,516.8h1.1M408.7,501.4h1.1M420.9,537.7h1.1M409.2,532.6h1.1M411.9,521.6h1.1M390.4,525.4h1.1M404.8,518.2h1.1M412.7,515.6h1.1M410.5,545.2h1.1M408.3,499.7h1.1M421.3,519.1h1.1M421.6,526.0h1.1M396.0,527.0h1.1M409.9,522.4h1.1M414.2,519.6h1.1M431.1,525.1h1.1M412.3,511.6h1.1M404.5,511.6h1.1M408.1,527.7h1.1M421.9,514.7h1.1M383.8,528.7h1.1M419.4,532.7h1.1M421.3,535.5h1.1M407.3,533.0h1.1M421.0,512.3h1.1M401.4,522.6h1.1M397.7,521.9h1.1M392.3,532.1h1.1M407.1,519.3h1.1M413.3,534.8h1.1M410.6,523.6h1.1M394.7,534.7h1.1M409.5,523.3h1.1M414.9,523.2h1.1M413.6,512.0h1.1M424.0,518.5h1.1M398.0,537.0h1.1M412.8,536.5h1.1M407.3,499.9h1.1M409.9,544.5h1.1M403.1,538.5h1.1M409.4,515.3h1.1M394.7,529.1h1.1M402.7,531.0h1.1M419.0,498.3h1.1M402.8,520.6h1.1M405.6,523.4h1.1M412.8,520.2h1.1M414.6,508.9h1.1M421.7,520.8h1.1M400.7,527.2h1.1M406.5,526.0h1.1M395.6,511.7h1.1M413.6,544.0h1.1M409.7,511.9h1.1M410.9,516.0h1.1M397.8,527.0h1.1M416.0,517.1h1.1M396.6,516.6h1.1M395.9,516.9h1.1M403.3,520.8h1.1M399.6,544.7h1.1M414.6,519.2h1.1M410.1,516.7h1.1M401.0,511.0h1.1M419.2,524.0h1.1M415.6,527.5h1.1M406.1,513.9h1.1M400.5,517.6h1.1M397.7,525.5h1.1M411.4,516.3h1.1M408.2,514.2h1.1M411.7,528.7h1.1M412.4,534.1h1.1M411.6,518.6h1.1M401.6,502.7h1.1M412.1,526.1h1.1M408.2,507.2h1.1M385.8,539.6h1.1M403.3,524.5h1.1M420.2,528.0h1.1M412.4,524.6h1.1M404.0,531.4h1.1M403.1,528.6h1.1M412.5,526.0h1.1M404.5,524.0h1.1M392.6,507.3h1.1M394.6,528.2h1.1M432.9,519.2h1.1M405.5,524.4h1.1M408.9,530.9h1.1M410.5,513.9h1.1M412.1,514.4h1.1M415.8,529.6h1.1M409.5,515.0h1.1M404.5,517.2h1.1M406.5,517.6h1.1M407.9,527.7h1.1M425.7,519.0h1.1M426.4,523.7h1.1M416.3,534.7h1.1M426.5,527.0h1.1M403.4,526.5h1.1M400.5,521.3h1.1M385.5,518.0h1.1M417.5,507.6h1.1M413.1,519.8h1.1M395.9,532.2h1.1M414.3,539.4h1.1M405.6,516.4h1.1M411.0,522.0h1.1M419.1,526.6h1.1M415.2,524.7h1.1M408.1,518.0h1.1M404.4,499.3h1.1M419.0,517.4h1.1M397.2,515.3h1.1M412.1,518.6h1.1M418.2,520.2h1.1M423.0,515.0h1.1M393.0,523.8h1.1M414.2,515.4h1.1M406.2,508.3h1.1M406.5,525.2h1.1M418.1,520.9h1.1M411.1,525.5h1.1M381.6,531.2h1.1M416.1,507.3h1.1M397.7,519.3h1.1M414.4,509.6h1.1M402.8,523.6h1.1M401.3,508.9h1.1M408.8,496.5h1.1M414.3,533.8h1.1M398.8,511.2h1.1M421.5,516.3h1.1M402.8,525.2h1.1M412.9,530.1h1.1M427.0,523.0h1.1M404.8,517.9h1.1M411.5,539.9h1.1M415.8,518.8h1.1M417.6,513.2h1.1M419.0,523.9h1.1M410.3,515.6h1.1M409.6,524.5h1.1M411.1,512.9h1.1M404.1,525.6h1.1M390.5,506.0h1.1M412.3,523.2h1.1M409.3,528.1h1.1M436.2,523.4h1.1M404.2,521.3h1.1M396.5,543.0h1.1M402.4,522.1h1.1M403.3,514.3h1.1M414.1,522.0h1.1M403.9,534.3h1.1M414.6,517.1h1.1M402.9,505.7h1.1M403.5,518.6h1.1M410.4,509.8h1.1M409.8,519.0h1.1M394.4,506.4h1.1M413.5,535.8h1.1M406.6,521.0h1.1M428.6,527.5h1.1M406.8,521.7h1.1M412.1,529.0h1.1M399.0,518.9h1.1M414.3,517.3h1.1M403.1,512.7h1.1M410.6,515.7h1.1M417.6,529.4h1.1M395.0,530.9h1.1M387.3,516.4h1.1M406.0,506.7h1.1M409.9,529.9h1.1M414.3,512.9h1.1M421.7,514.6h1.1M404.2,518.8h1.1M405.2,530.6h1.1M398.4,524.9h1.1M413.3,518.8h1.1M420.1,507.3h1.1M408.0,521.7h1.1M418.0,532.4h1.1M403.3,523.0h1.1M403.9,528.1h1.1M422.3,522.5h1.1M421.5,519.5h1.1M409.8,523.3h1.1M398.3,521.8h1.1M411.2,544.7h1.1M396.5,523.9h1.1M414.0,521.3h1.1M404.6,522.0h1.1M399.0,524.4h1.1M407.7,524.6h1.1M434.0,530.0h1.1M413.9,529.7h1.1M414.3,524.5h1.1M396.6,503.2h1.1M415.4,529.8h1.1M392.5,524.7h1.1M402.6,535.5h1.1M411.0,499.7h1.1M430.7,529.5h1.1M401.2,500.5h1.1M414.0,522.5h1.1M405.8,518.9h1.1M389.2,530.3h1.1M415.1,502.4h1.1M433.5,529.0h1.1M416.7,506.2h1.1M400.5,517.4h1.1M407.7,515.7h1.1M414.1,527.1h1.1M398.3,517.6h1.1M410.6,522.8h1.1M402.3,514.9h1.1M408.7,517.1h1.1M404.3,514.2h1.1M409.4,525.5h1.1M412.6,515.5h1.1M401.3,512.2h1.1M424.7,528.1h1.1M397.9,525.7h1.1M414.0,536.8h1.1M429.1,521.0h1.1M424.0,529.2h1.1M407.2,515.9h1.1M414.2,531.2h1.1M399.8,535.8h1.1M413.0,535.6h1.1M399.0,505.1h1.1M421.1,510.6h1.1M412.6,503.0h1.1M402.3,531.7h1.1M417.0,533.5h1.1M403.1,518.3h1.1M411.4,513.4h1.1M400.6,515.8h1.1M402.9,513.0h1.1M418.1,516.0h1.1M428.7,514.2h1.1M426.5,528.8h1.1M420.2,541.1h1.1M411.0,520.5h1.1M418.0,529.6h1.1M408.0,536.6h1.1M408.3,535.4h1.1M406.8,519.9h1.1M418.8,526.9h1.1M412.4,534.6h1.1M395.0,532.7h1.1M412.2,535.3h1.1M422.1,515.7h1.1M414.8,522.1h1.1M402.8,530.4h1.1M409.4,520.2h1.1M409.2,541.6h1.1M418.4,545.8h1.1M415.2,514.0h1.1M406.3,516.2h1.1M418.5,521.3h1.1M390.1,525.1h1.1M389.8,532.8h1.1M416.8,539.9h1.1M389.2,515.0h1.1M424.7,521.3h1.1M411.9,529.8h1.1M410.4,516.8h1.1M421.8,527.1h1.1M429.8,508.7h1.1M409.9,525.4h1.1M413.7,520.9h1.1M399.3,526.3h1.1M396.2,511.6h1.1M395.9,514.5h1.1M422.9,516.7h1.1M405.0,508.8h1.1M425.2,503.8h1.1M397.3,511.0h1.1M400.0,527.1h1.1M410.7,519.7h1.1M419.5,524.2h1.1M399.7,521.2h1.1M403.8,538.3h1.1M401.4,517.6h1.1M427.8,520.6h1.1M413.0,529.7h1.1M413.6,522.8h1.1M401.5,524.5h1.1M407.2,526.8h1.1M400.8,512.7h1.1M432.3,510.5h1.1M407.1,515.8h1.1M387.2,530.6h1.1M395.8,546.1h1.1M384.8,511.7h1.1M394.6,525.4h1.1M389.5,502.0h1.1M420.1,520.4h1.1M405.3,525.1h1.1M395.4,522.9h1.1M429.4,509.6h1.1M403.4,518.3h1.1M426.5,537.3h1.1M405.8,523.2h1.1M409.0,515.5h1.1M414.9,523.6h1.1M425.3,514.2h1.1M408.6,517.6h1.1M425.4,519.0h1.1M399.9,521.3h1.1M431.8,518.5h1.1M412.8,527.1h1.1M410.3,508.5h1.1M406.9,510.9h1.1M411.7,530.5h1.1M415.2,517.5h1.1M411.2,520.2h1.1M394.3,517.1h1.1M429.2,517.1h1.1M402.3,511.0h1.1M399.7,522.5h1.1M398.5,521.3h1.1M416.3,512.9h1.1M400.6,522.2h1.1M405.9,532.0h1.1M425.2,503.4h1.1M418.1,530.8h1.1M408.7,515.9h1.1M398.2,517.9h1.1M408.0,524.3h1.1M414.1,529.2h1.1M398.5,523.3h1.1M401.2,527.0h1.1M415.0,509.2h1.1M405.7,509.5h1.1M423.9,511.8h1.1M394.9,518.3h1.1M403.2,512.1h1.1M400.4,511.2h1.1M411.9,528.6h1.1M401.6,520.0h1.1M418.8,509.1h1.1M428.3,533.6h1.1M408.5,533.5h1.1M413.5,532.8h1.1M403.1,499.7h1.1M420.6,509.6h1.1M400.2,511.0h1.1M407.5,523.2h1.1M413.7,526.9h1.1M398.5,526.4h1.1M416.3,515.4h1.1M406.8,531.9h1.1M412.4,541.5h1.1M405.1,522.8h1.1M396.1,532.4h1.1M415.9,522.9h1.1M410.8,497.3h1.1M410.6,515.7h1.1M405.1,518.3h1.1M414.6,527.1h1.1M404.5,529.7h1.1M410.8,516.2h1.1M425.8,511.9h1.1M405.1,513.1h1.1M413.6,520.3h1.1M404.6,518.8h1.1M412.2,522.5h1.1M426.6,549.5h1.1M396.9,549.4h1.1M439.3,542.9h1.1M407.3,529.8h1.1M430.6,547.4h1.1M413.1,530.8h1.1M420.9,521.6h1.1M402.6,542.3h1.1M425.1,513.9h1.1M412.0,537.3h1.1M392.7,527.9h1.1M408.4,533.6h1.1M400.2,560.7h1.1M421.4,509.8h1.1M404.7,537.1h1.1M424.3,551.0h1.1M422.9,546.0h1.1M420.9,538.4h1.1M404.9,517.7h1.1M428.4,553.7h1.1M411.2,525.4h1.1M410.3,563.4h1.1M427.5,531.9h1.1M406.3,548.1h1.1M429.9,546.4h1.1M424.4,524.1h1.1M421.7,530.9h1.1M411.6,550.4h1.1M404.8,525.4h1.1M418.9,545.2h1.1M396.6,528.0h1.1M416.8,542.3h1.1M400.0,534.8h1.1M429.3,536.1h1.1M414.3,553.0h1.1M427.1,518.2h1.1M398.6,516.8h1.1M403.7,580.7h1.1M410.3,525.2h1.1M396.5,550.2h1.1M426.0,526.9h1.1M401.1,524.2h1.1M419.2,519.3h1.1M420.5,565.3h1.1M432.1,519.2h1.1M421.5,516.0h1.1M389.4,538.5h1.1M401.8,541.6h1.1M395.6,538.0h1.1M394.9,515.9h1.1M398.0,533.5h1.1M422.9,545.6h1.1M422.1,520.6h1.1M417.0,557.7h1.1M397.5,523.8h1.1M405.4,539.6h1.1M421.4,535.3h1.1M416.6,527.0h1.1M396.7,548.7h1.1M414.6,509.7h1.1M413.7,531.0h1.1M434.6,512.8h1.1M408.8,539.1h1.1M417.7,542.6h1.1M428.6,522.1h1.1M390.5,546.8h1.1M425.6,525.8h1.1M429.4,557.4h1.1M416.0,528.5h1.1M405.4,526.6h1.1M413.9,522.6h1.1M408.9,525.2h1.1M417.2,508.7h1.1M430.6,534.4h1.1M416.3,503.9h1.1M406.5,530.0h1.1M423.5,523.5h1.1M409.1,525.9h1.1M391.4,518.2h1.1M417.3,526.7h1.1M440.0,529.5h1.1M407.9,534.4h1.1M416.4,554.7h1.1M393.5,526.3h1.1M411.8,543.4h1.1M408.7,545.6h1.1M416.6,544.6h1.1M413.7,528.5h1.1M410.9,563.8h1.1M424.8,508.7h1.1M404.4,522.5h1.1M398.7,536.7h1.1M428.9,521.1h1.1M421.8,534.1h1.1M400.5,542.0h1.1M396.4,530.9h1.1M397.3,526.7h1.1M445.0,539.5h1.1M423.6,526.0h1.1M417.3,522.7h1.1M423.6,504.1h1.1M421.6,541.9h1.1M447.8,558.8h1.1M422.1,515.6h1.1M420.7,521.7h1.1M409.8,552.4h1.1M426.7,511.9h1.1M419.0,515.8h1.1M416.4,539.4h1.1M410.8,541.8h1.1M401.0,508.9h1.1M423.5,543.7h1.1M385.3,520.8h1.1M404.9,549.8h1.1M397.8,544.6h1.1M413.7,523.3h1.1M415.9,549.3h1.1M419.4,528.2h1.1M405.3,515.6h1.1M408.8,524.9h1.1M395.9,509.9h1.1M416.0,527.9h1.1M404.2,516.2h1.1M430.1,550.2h1.1M443.3,515.1h1.1M391.6,551.5h1.1M412.3,543.6h1.1M395.8,505.6h1.1M396.7,529.6h1.1M415.7,527.5h1.1M420.0,522.1h1.1M409.3,528.7h1.1M425.2,563.9h1.1M413.9,529.1h1.1M405.5,512.6h1.1M437.4,517.2h1.1M421.4,523.5h1.1M413.9,567.7h1.1M424.5,523.7h1.1M425.8,554.7h1.1M411.3,508.5h1.1M428.5,524.0h1.1M391.1,525.3h1.1M396.2,524.6h1.1M415.7,536.0h1.1M395.1,538.2h1.1M435.3,528.9h1.1M412.7,510.2h1.1M427.2,534.5h1.1M414.6,530.9h1.1M406.8,542.1h1.1M410.2,517.1h1.1M425.7,551.9h1.1M409.4,536.6h1.1M385.6,512.0h1.1M433.0,544.5h1.1M408.4,515.6h1.1M409.5,520.3h1.1M410.5,526.9h1.1M399.5,536.1h1.1M405.2,527.8h1.1M403.8,540.0h1.1M415.5,538.9h1.1M415.1,527.5h1.1M406.9,507.3h1.1M402.0,532.2h1.1M419.1,537.6h1.1M412.7,508.5h1.1M393.1,536.4h1.1M404.5,548.3h1.1M413.2,519.9h1.1M397.5,541.2h1.1M401.8,550.2h1.1M398.4,514.4h1.1M417.2,521.6h1.1M410.2,536.1h1.1M408.8,515.2h1.1M417.8,531.5h1.1M424.3,535.2h1.1M398.2,550.3h1.1M408.4,538.0h1.1M417.0,518.3h1.1M406.5,505.9h1.1M430.0,542.3h1.1M411.9,564.7h1.1M414.4,510.1h1.1M425.4,540.1h1.1M421.8,543.3h1.1M402.5,579.7h1.1M415.2,564.5h1.1M402.0,525.6h1.1M419.6,548.1h1.1M422.5,544.3h1.1M426.4,503.9h1.1M418.1,534.4h1.1M411.3,558.7h1.1M401.0,528.3h1.1M423.0,539.7h1.1M428.3,555.7h1.1M417.0,548.3h1.1M405.8,512.1h1.1M419.2,531.7h1.1M424.3,538.0h1.1M429.0,540.5h1.1M427.4,528.1h1.1M409.5,547.6h1.1M415.6,520.4h1.1M413.4,525.2h1.1M429.8,555.5h1.1M392.2,527.7h1.1M391.3,509.8h1.1M417.4,545.9h1.1M405.2,554.2h1.1M407.9,570.2h1.1M412.2,577.9h1.1M414.7,565.1h1.1M414.5,568.0h1.1M415.5,577.2h1.1M414.6,531.7h1.1M413.7,582.2h1.1M411.4,557.0h1.1M409.7,535.6h1.1M408.6,561.5h1.1M421.4,566.7h1.1M415.1,549.8h1.1M412.3,573.1h1.1M416.5,569.1h1.1M413.5,587.6h1.1M413.8,556.8h1.1M412.2,557.5h1.1M413.8,551.1h1.1M412.0,543.6h1.1M405.3,562.3h1.1M412.3,585.6h1.1M413.9,549.2h1.1M411.3,546.6h1.1M410.1,559.2h1.1M412.1,548.2h1.1M411.0,563.9h1.1M406.1,554.0h1.1M410.9,550.7h1.1M407.8,550.4h1.1M405.5,558.0h1.1M413.0,576.0h1.1M412.3,531.8h1.1M415.0,581.9h1.1M409.9,562.1h1.1M413.2,576.1h1.1M411.7,569.0h1.1M413.7,565.1h1.1M407.5,546.2h1.1M415.3,546.1h1.1M408.0,567.7h1.1M402.1,564.5h1.1M410.8,584.2h1.1M404.4,515.0h1.1M415.5,549.1h1.1M405.5,523.0h1.1M411.4,583.0h1.1M403.6,547.9h1.1M412.8,537.8h1.1M417.5,565.6h1.1M409.6,566.7h1.1M416.4,540.4h1.1M410.4,547.7h1.1M406.0,554.2h1.1M409.8,576.9h1.1M407.4,546.8h1.1M413.8,556.2h1.1M413.5,569.8h1.1M418.6,558.5h1.1M407.5,551.9h1.1M410.5,558.1h1.1M408.4,574.1h1.1M407.5,556.8h1.1M409.6,570.1h1.1M413.5,543.9h1.1M414.0,552.9h1.1M415.8,548.5h1.1M409.6,570.3h1.1M410.4,542.3h1.1M409.1,534.9h1.1M395.6,562.6h1.1M411.1,571.4h1.1M411.2,584.7h1.1M408.6,535.5h1.1M411.8,540.1h1.1M415.9,573.7h1.1M405.5,565.3h1.1M412.8,550.8h1.1M408.1,560.5h1.1M410.3,571.6h1.1M410.1,564.8h1.1M409.9,533.4h1.1M417.8,556.6h1.1M410.5,559.4h1.1M409.9,571.7h1.1M406.1,573.2h1.1M418.3,558.7h1.1M413.1,564.1h1.1M411.2,552.0h1.1M407.2,545.5h1.1M409.5,560.0h1.1M418.4,538.2h1.1M407.1,529.8h1.1M406.6,538.9h1.1M417.3,564.6h1.1M406.5,558.0h1.1M414.2,555.5h1.1M419.7,577.1h1.1M405.5,561.7h1.1M406.6,552.6h1.1M416.8,572.8h1.1M417.0,556.7h1.1M420.1,535.5h1.1M412.2,548.6h1.1M411.9,549.5h1.1M405.9,560.3h1.1M409.9,555.2h1.1M410.9,563.5h1.1M412.4,556.9h1.1M429.1,510.5h1.1M428.4,512.1h1.1M430.0,510.2h1.1M427.7,517.9h1.1M417.2,520.6h1.1M423.5,511.6h1.1M437.3,509.6h1.1M420.4,513.7h1.1M445.4,513.4h1.1M435.5,516.4h1.1M430.0,511.0h1.1M415.9,512.3h1.1M429.9,513.0h1.1M428.5,512.4h1.1M437.1,514.4h1.1M443.7,514.7h1.1M442.1,514.5h1.1M439.1,506.7h1.1M441.0,514.9h1.1M449.7,513.7h1.1M439.1,506.3h1.1M438.3,513.2h1.1M426.4,510.6h1.1M433.0,512.5h1.1M437.9,508.9h1.1M415.0,515.7h1.1M451.5,515.3h1.1M430.6,516.5h1.1M438.8,514.8h1.1M409.7,514.8h1.1M433.2,515.0h1.1M420.6,517.3h1.1M430.9,513.1h1.1M420.5,516.1h1.1M421.0,508.9h1.1M414.8,515.8h1.1M444.5,512.4h1.1M424.4,518.7h1.1M420.6,514.8h1.1M416.3,510.0h1.1M430.3,514.6h1.1M447.7,511.5h1.1M430.9,517.1h1.1M422.7,513.2h1.1M430.5,512.6h1.1" stroke="#e8322c" stroke-width="1.1" fill="none" opacity="0.95"/>
</g>
<rect x="75.2" y="285" width="134.8" height="2.3" fill="#141414" />
<line x1="76.5" y1="285" x2="76.5" y2="418.1" stroke="#141414" stroke-width="2.6" />
<line x1="208.5" y1="285" x2="208.5" y2="418.1" stroke="#141414" stroke-width="2.9" />
<line x1="75.2" y1="416.8" x2="210" y2="416.8" stroke="#141414" stroke-width="2.6" />
<line x1="72.3" y1="299.4" x2="76" y2="299.4" stroke="#222" stroke-width="1.1" />
<line x1="72.3" y1="328.8" x2="76" y2="328.8" stroke="#222" stroke-width="1.1" />
<line x1="72.3" y1="358.6" x2="76" y2="358.6" stroke="#222" stroke-width="1.1" />
<line x1="72.3" y1="388.8" x2="76" y2="388.8" stroke="#222" stroke-width="1.1" />
<line x1="72.3" y1="398.5" x2="76" y2="398.5" stroke="#222" stroke-width="1.1" />
<line x1="74" y1="290.0" x2="76" y2="290.0" stroke="#555" stroke-width="0.6" />
<line x1="74" y1="293.0" x2="76" y2="293.0" stroke="#555" stroke-width="0.6" />
<line x1="74" y1="296.0" x2="76" y2="296.0" stroke="#555" stroke-width="0.6" />
<line x1="74" y1="299.0" x2="76" y2="299.0" stroke="#555" stroke-width="0.6" />
<line x1="74" y1="302.0" x2="76" y2="302.0" stroke="#555" stroke-width="0.6" />
<line x1="74" y1="305.0" x2="76" y2="305.0" stroke="#555" stroke-width="0.6" />
<line x1="74" y1="308.0" x2="76" y2="308.0" stroke="#555" stroke-width="0.6" />
<line x1="74" y1="311.0" x2="76" y2="311.0" stroke="#555" stroke-width="0.6" />
<line x1="74" y1="314.0" x2="76" y2="314.0" stroke="#555" stroke-width="0.6" />
<line x1="74" y1="317.0" x2="76" y2="317.0" stroke="#555" stroke-width="0.6" />
<line x1="74" y1="320.0" x2="76" y2="320.0" stroke="#555" stroke-width="0.6" />
<line x1="74" y1="323.0" x2="76" y2="323.0" stroke="#555" stroke-width="0.6" />
<line x1="74" y1="326.0" x2="76" y2="326.0" stroke="#555" stroke-width="0.6" />
<line x1="74" y1="329.0" x2="76" y2="329.0" stroke="#555" stroke-width="0.6" />
<line x1="74" y1="332.0" x2="76" y2="332.0" stroke="#555" stroke-width="0.6" />
<line x1="74" y1="335.0" x2="76" y2="335.0" stroke="#555" stroke-width="0.6" />
<line x1="74" y1="338.0" x2="76" y2="338.0" stroke="#555" stroke-width="0.6" />
<line x1="74" y1="341.0" x2="76" y2="341.0" stroke="#555" stroke-width="0.6" />
<line x1="74" y1="344.0" x2="76" y2="344.0" stroke="#555" stroke-width="0.6" />
<line x1="74" y1="347.0" x2="76" y2="347.0" stroke="#555" stroke-width="0.6" />
<line x1="74" y1="350.0" x2="76" y2="350.0" stroke="#555" stroke-width="0.6" />
<line x1="74" y1="353.0" x2="76" y2="353.0" stroke="#555" stroke-width="0.6" />
<line x1="74" y1="356.0" x2="76" y2="356.0" stroke="#555" stroke-width="0.6" />
<line x1="74" y1="359.0" x2="76" y2="359.0" stroke="#555" stroke-width="0.6" />
<line x1="74" y1="362.0" x2="76" y2="362.0" stroke="#555" stroke-width="0.6" />
<line x1="74" y1="365.0" x2="76" y2="365.0" stroke="#555" stroke-width="0.6" />
<line x1="74" y1="368.0" x2="76" y2="368.0" stroke="#555" stroke-width="0.6" />
<line x1="74" y1="371.0" x2="76" y2="371.0" stroke="#555" stroke-width="0.6" />
<line x1="74" y1="374.0" x2="76" y2="374.0" stroke="#555" stroke-width="0.6" />
<line x1="74" y1="377.0" x2="76" y2="377.0" stroke="#555" stroke-width="0.6" />
<line x1="74" y1="380.0" x2="76" y2="380.0" stroke="#555" stroke-width="0.6" />
<line x1="74" y1="383.0" x2="76" y2="383.0" stroke="#555" stroke-width="0.6" />
<line x1="74" y1="386.0" x2="76" y2="386.0" stroke="#555" stroke-width="0.6" />
<line x1="74" y1="389.0" x2="76" y2="389.0" stroke="#555" stroke-width="0.6" />
<line x1="74" y1="392.0" x2="76" y2="392.0" stroke="#555" stroke-width="0.6" />
<line x1="74" y1="395.0" x2="76" y2="395.0" stroke="#555" stroke-width="0.6" />
<line x1="74" y1="398.0" x2="76" y2="398.0" stroke="#555" stroke-width="0.6" />
<line x1="74" y1="401.0" x2="76" y2="401.0" stroke="#555" stroke-width="0.6" />
<line x1="74" y1="404.0" x2="76" y2="404.0" stroke="#555" stroke-width="0.6" />
<line x1="74" y1="407.0" x2="76" y2="407.0" stroke="#555" stroke-width="0.6" />
<line x1="74" y1="410.0" x2="76" y2="410.0" stroke="#555" stroke-width="0.6" />
<line x1="74" y1="413.0" x2="76" y2="413.0" stroke="#555" stroke-width="0.6" />
<line x1="77.5" y1="417" x2="77.5" y2="421" stroke="#222" stroke-width="1.0" />
<line x1="104.5" y1="417" x2="104.5" y2="421" stroke="#222" stroke-width="1.0" />
<line x1="107" y1="417" x2="107" y2="421" stroke="#222" stroke-width="1.0" />
<line x1="137" y1="417" x2="137" y2="421" stroke="#222" stroke-width="1.0" />
<line x1="167" y1="417" x2="167" y2="421" stroke="#222" stroke-width="1.0" />
<line x1="197" y1="417" x2="197" y2="421" stroke="#222" stroke-width="1.0" />
<line x1="79.0" y1="417" x2="79.0" y2="420" stroke="#333" stroke-width="0.7" />
<line x1="82.2" y1="417" x2="82.2" y2="420" stroke="#333" stroke-width="0.7" />
<line x1="85.4" y1="417" x2="85.4" y2="420" stroke="#333" stroke-width="0.7" />
<line x1="88.6" y1="417" x2="88.6" y2="420" stroke="#333" stroke-width="0.7" />
<line x1="91.8" y1="417" x2="91.8" y2="420" stroke="#333" stroke-width="0.7" />
<line x1="95.0" y1="417" x2="95.0" y2="420" stroke="#333" stroke-width="0.7" />
<line x1="98.2" y1="417" x2="98.2" y2="420" stroke="#333" stroke-width="0.7" />
<line x1="101.4" y1="417" x2="101.4" y2="420" stroke="#333" stroke-width="0.7" />
<line x1="104.6" y1="417" x2="104.6" y2="420" stroke="#333" stroke-width="0.7" />
<line x1="107.8" y1="417" x2="107.8" y2="420" stroke="#333" stroke-width="0.7" />
<line x1="111.0" y1="417" x2="111.0" y2="420" stroke="#333" stroke-width="0.7" />
<line x1="114.2" y1="417" x2="114.2" y2="420" stroke="#333" stroke-width="0.7" />
<line x1="117.4" y1="417" x2="117.4" y2="420" stroke="#333" stroke-width="0.7" />
<line x1="120.6" y1="417" x2="120.6" y2="420" stroke="#333" stroke-width="0.7" />
<line x1="123.80000000000001" y1="417" x2="123.80000000000001" y2="420" stroke="#333" stroke-width="0.7" />
<line x1="127.0" y1="417" x2="127.0" y2="420" stroke="#333" stroke-width="0.7" />
<line x1="130.2" y1="417" x2="130.2" y2="420" stroke="#333" stroke-width="0.7" />
<line x1="133.4" y1="417" x2="133.4" y2="420" stroke="#333" stroke-width="0.7" />
<line x1="136.6" y1="417" x2="136.6" y2="420" stroke="#333" stroke-width="0.7" />
<line x1="139.8" y1="417" x2="139.8" y2="420" stroke="#333" stroke-width="0.7" />
<line x1="143.0" y1="417" x2="143.0" y2="420" stroke="#333" stroke-width="0.7" />
<line x1="146.2" y1="417" x2="146.2" y2="420" stroke="#333" stroke-width="0.7" />
<line x1="149.4" y1="417" x2="149.4" y2="420" stroke="#333" stroke-width="0.7" />
<line x1="152.60000000000002" y1="417" x2="152.60000000000002" y2="420" stroke="#333" stroke-width="0.7" />
<line x1="155.8" y1="417" x2="155.8" y2="420" stroke="#333" stroke-width="0.7" />
<line x1="159.0" y1="417" x2="159.0" y2="420" stroke="#333" stroke-width="0.7" />
<line x1="162.2" y1="417" x2="162.2" y2="420" stroke="#333" stroke-width="0.7" />
<line x1="165.4" y1="417" x2="165.4" y2="420" stroke="#333" stroke-width="0.7" />
<line x1="168.60000000000002" y1="417" x2="168.60000000000002" y2="420" stroke="#333" stroke-width="0.7" />
<line x1="171.8" y1="417" x2="171.8" y2="420" stroke="#333" stroke-width="0.7" />
<line x1="175.0" y1="417" x2="175.0" y2="420" stroke="#333" stroke-width="0.7" />
<line x1="178.2" y1="417" x2="178.2" y2="420" stroke="#333" stroke-width="0.7" />
<line x1="181.4" y1="417" x2="181.4" y2="420" stroke="#333" stroke-width="0.7" />
<line x1="184.60000000000002" y1="417" x2="184.60000000000002" y2="420" stroke="#333" stroke-width="0.7" />
<line x1="187.8" y1="417" x2="187.8" y2="420" stroke="#333" stroke-width="0.7" />
<line x1="191.0" y1="417" x2="191.0" y2="420" stroke="#333" stroke-width="0.7" />
<line x1="194.2" y1="417" x2="194.2" y2="420" stroke="#333" stroke-width="0.7" />
<line x1="197.4" y1="417" x2="197.4" y2="420" stroke="#333" stroke-width="0.7" />
<line x1="200.60000000000002" y1="417" x2="200.60000000000002" y2="420" stroke="#333" stroke-width="0.7" />
<line x1="203.8" y1="417" x2="203.8" y2="420" stroke="#333" stroke-width="0.7" />
<line x1="207.0" y1="417" x2="207.0" y2="420" stroke="#333" stroke-width="0.7" />
<rect x="224.7" y="283.5" width="134" height="3.5" fill="#141414" />
<line x1="226" y1="283.5" x2="226" y2="418" stroke="#141414" stroke-width="2.5" />
<line x1="357.4" y1="283.5" x2="357.4" y2="418" stroke="#141414" stroke-width="2.6" />
<line x1="224.7" y1="416.9" x2="358.7" y2="416.9" stroke="#141414" stroke-width="2.4" />
<rect x="228.6" y="288.2" width="126.2" height="126.2" fill="none" stroke="#9a9a9a" stroke-width="0.7" />
<rect x="374.6" y="284.7" width="134.2" height="2.9" fill="#141414" />
<line x1="375.8" y1="284.7" x2="375.8" y2="418.3" stroke="#141414" stroke-width="2.5" />
<line x1="507.4" y1="284.7" x2="507.4" y2="418.3" stroke="#141414" stroke-width="2.7" />
<line x1="374.6" y1="417" x2="508.8" y2="417" stroke="#141414" stroke-width="2.7" />
<rect x="74.9" y="458.8" width="132" height="130.9" fill="none" stroke="#141414" stroke-width="2.6" />
<rect x="226.2" y="458.2" width="132.8" height="131.2" fill="none" stroke="#141414" stroke-width="1.9" />
<rect x="375" y="459.4" width="132.3" height="130.6" fill="none" stroke="#141414" stroke-width="2.6" />
<text x="69" y="467.5" font-size="4" fill="#888">10</text>
<text x="69" y="500.5" font-size="4" fill="#888">10</text>
<text x="69" y="533.5" font-size="4" fill="#888">10</text>
<text x="69" y="561.5" font-size="4" fill="#888">10</text>
<text x="69" y="588.5" font-size="4" fill="#888">10</text>
<text x="94" y="597" font-size="4" fill="#888">10</text>
<text x="126" y="597" font-size="4" fill="#888">10</text>
<text x="159" y="597" font-size="4" fill="#888">10</text>
<text x="192" y="597" font-size="4" fill="#888">10</text>
<text x="81.3" y="281.2" font-size="25" font-weight="bold" fill="#141414" stroke="#141414" stroke-width="0.45" stroke-linejoin="round" textLength="75" lengthAdjust="spacingAndGlyphs" >10004</text>
<text x="229.2" y="281" font-size="25" font-weight="bold" fill="#141414" stroke="#141414" stroke-width="0.45" stroke-linejoin="round" textLength="72.3" lengthAdjust="spacingAndGlyphs" >10071</text>
<text x="381.5" y="281.2" font-size="25" font-weight="bold" fill="#141414" stroke="#141414" stroke-width="0.45" stroke-linejoin="round" textLength="73.5" lengthAdjust="spacingAndGlyphs" >10074</text>
<text x="0" y="288.6" font-size="37.5" font-weight="bold" fill="#141414" stroke="#141414" stroke-width="0.45" stroke-linejoin="round" textLength="29.5" lengthAdjust="spacingAndGlyphs" >B</text>
<text x="63.6" y="367" font-size="26.5" font-weight="bold" fill="#141414" stroke="#141414" stroke-width="0.45" stroke-linejoin="round" textLength="43" lengthAdjust="spacingAndGlyphs" transform="rotate(-90 63.6 367)" >CD8</text>
<text x="63.8" y="567.6" font-size="26.5" font-weight="bold" fill="#141414" stroke="#141414" stroke-width="0.45" stroke-linejoin="round" textLength="86.6" lengthAdjust="spacingAndGlyphs" transform="rotate(-90 63.8 567.6)" >CD45RO</text>
<text x="149" y="315.3" font-size="23.2" font-weight="bold" fill="#141414" stroke="#141414" stroke-width="0.45" stroke-linejoin="round" textLength="42.6" lengthAdjust="spacingAndGlyphs" >1.5%</text>
<text x="298.4" y="315.8" font-size="23.2" font-weight="bold" fill="#141414" stroke="#141414" stroke-width="0.45" stroke-linejoin="round" textLength="43" lengthAdjust="spacingAndGlyphs" >3.5%</text>
<text x="448.2" y="315.8" font-size="23.2" font-weight="bold" fill="#141414" stroke="#141414" stroke-width="0.45" stroke-linejoin="round" textLength="43" lengthAdjust="spacingAndGlyphs" >0.7%</text>
<text x="81.2" y="442.3" font-size="25.3" font-weight="bold" fill="#141414" stroke="#141414" stroke-width="0.45" stroke-linejoin="round" textLength="129.3" lengthAdjust="spacingAndGlyphs" >B57KF11-tet</text>
<text x="243.8" y="441.8" font-size="25.3" font-weight="bold" fill="#141414" stroke="#141414" stroke-width="0.45" stroke-linejoin="round" textLength="102.2" lengthAdjust="spacingAndGlyphs" >B8FL8-tet</text>
<text x="392.4" y="441.8" font-size="25.3" font-weight="bold" fill="#141414" stroke="#141414" stroke-width="0.45" stroke-linejoin="round" textLength="102.4" lengthAdjust="spacingAndGlyphs" >B8FL8-tet</text>
<rect x="80.5" y="601.7" width="184.3" height="3.6" fill="#141414" />
<rect x="335" y="601.7" width="185" height="3.6" fill="#141414" />
<text x="271" y="612.5" font-size="26" font-weight="bold" fill="#141414" stroke="#141414" stroke-width="0.45" stroke-linejoin="round" textLength="60.5" lengthAdjust="spacingAndGlyphs" >CCR7</text>
<text x="82.5" y="653.7" font-size="23.3" font-weight="bold" fill="#141414" stroke="#141414" stroke-width="0.45" stroke-linejoin="round" textLength="53.8" lengthAdjust="spacingAndGlyphs" >43.6%</text>
<text x="153.8" y="653.7" font-size="23.3" font-weight="bold" fill="#141414" stroke="#141414" stroke-width="0.45" stroke-linejoin="round" textLength="43.0" lengthAdjust="spacingAndGlyphs" >5.7%</text>
<text x="82.5" y="676.3" font-size="23.3" font-weight="bold" fill="#141414" stroke="#141414" stroke-width="0.45" stroke-linejoin="round" textLength="53.8" lengthAdjust="spacingAndGlyphs" >48.3%</text>
<text x="153.8" y="676.3" font-size="23.3" font-weight="bold" fill="#141414" stroke="#141414" stroke-width="0.45" stroke-linejoin="round" textLength="43.2" lengthAdjust="spacingAndGlyphs" >2.5%</text>
<line x1="90" y1="657" x2="201" y2="657" stroke="#141414" stroke-width="1.8" />
<line x1="145.8" y1="640" x2="145.8" y2="677.5" stroke="#141414" stroke-width="1.6" />
<text x="83.8" y="713.3" font-size="23.3" font-weight="bold" fill="#d7262b" stroke="#d7262b" stroke-width="0.45" stroke-linejoin="round" textLength="52.5" lengthAdjust="spacingAndGlyphs" >81.3%</text>
<text x="154.5" y="713.3" font-size="23.3" font-weight="bold" fill="#d7262b" stroke="#d7262b" stroke-width="0.45" stroke-linejoin="round" textLength="50.0" lengthAdjust="spacingAndGlyphs" >11.1%</text>
<text x="87.5" y="736.8" font-size="23.3" font-weight="bold" fill="#d7262b" stroke="#d7262b" stroke-width="0.45" stroke-linejoin="round" textLength="41.3" lengthAdjust="spacingAndGlyphs" >7.5%</text>
<text x="160" y="736.8" font-size="23.3" font-weight="bold" fill="#d7262b" stroke="#d7262b" stroke-width="0.45" stroke-linejoin="round" textLength="37.5" lengthAdjust="spacingAndGlyphs" >&lt;1%</text>
<line x1="88.8" y1="717.6" x2="201" y2="717.6" stroke="#141414" stroke-width="1.8" />
<line x1="145.8" y1="698.8" x2="145.8" y2="737.5" stroke="#141414" stroke-width="1.6" />
<text x="231.3" y="653.3" font-size="23.3" font-weight="bold" fill="#141414" stroke="#141414" stroke-width="0.45" stroke-linejoin="round" textLength="52.5" lengthAdjust="spacingAndGlyphs" >31.1%</text>
<text x="299.5" y="653.3" font-size="23.3" font-weight="bold" fill="#141414" stroke="#141414" stroke-width="0.45" stroke-linejoin="round" textLength="43.0" lengthAdjust="spacingAndGlyphs" >8.3%</text>
<text x="231.3" y="680" font-size="23.3" font-weight="bold" fill="#141414" stroke="#141414" stroke-width="0.45" stroke-linejoin="round" textLength="53.2" lengthAdjust="spacingAndGlyphs" >55.9%</text>
<text x="303.8" y="678.3" font-size="23.3" font-weight="bold" fill="#141414" stroke="#141414" stroke-width="0.45" stroke-linejoin="round" textLength="41.2" lengthAdjust="spacingAndGlyphs" >4.1%</text>
<line x1="230" y1="657.5" x2="343.8" y2="657.5" stroke="#141414" stroke-width="1.8" />
<line x1="292.5" y1="636" x2="292.5" y2="677.5" stroke="#141414" stroke-width="1.6" />
<text x="236.3" y="713.7" font-size="23.3" font-weight="bold" fill="#d7262b" stroke="#d7262b" stroke-width="0.45" stroke-linejoin="round" textLength="52.5" lengthAdjust="spacingAndGlyphs" >56.5%</text>
<text x="300" y="713.7" font-size="23.3" font-weight="bold" fill="#d7262b" stroke="#d7262b" stroke-width="0.45" stroke-linejoin="round" textLength="42.5" lengthAdjust="spacingAndGlyphs" >6.5%</text>
<text x="236.3" y="737.5" font-size="23.3" font-weight="bold" fill="#d7262b" stroke="#d7262b" stroke-width="0.45" stroke-linejoin="round" textLength="52.5" lengthAdjust="spacingAndGlyphs" >36.9%</text>
<text x="301.3" y="737.5" font-size="23.3" font-weight="bold" fill="#d7262b" stroke="#d7262b" stroke-width="0.45" stroke-linejoin="round" textLength="37.5" lengthAdjust="spacingAndGlyphs" >&lt;1%</text>
<line x1="231.3" y1="718" x2="343.8" y2="718" stroke="#141414" stroke-width="1.8" />
<line x1="292.5" y1="697.5" x2="292.5" y2="738.8" stroke="#141414" stroke-width="1.6" />
<text x="390.5" y="653.3" font-size="23.3" font-weight="bold" fill="#141414" stroke="#141414" stroke-width="0.45" stroke-linejoin="round" textLength="52.5" lengthAdjust="spacingAndGlyphs" >26.2%</text>
<text x="455" y="653.3" font-size="23.3" font-weight="bold" fill="#141414" stroke="#141414" stroke-width="0.45" stroke-linejoin="round" textLength="52.5" lengthAdjust="spacingAndGlyphs" >16.9%</text>
<text x="390.5" y="676.3" font-size="23.3" font-weight="bold" fill="#141414" stroke="#141414" stroke-width="0.45" stroke-linejoin="round" textLength="52.5" lengthAdjust="spacingAndGlyphs" >50.3%</text>
<text x="457.5" y="676.3" font-size="23.3" font-weight="bold" fill="#141414" stroke="#141414" stroke-width="0.45" stroke-linejoin="round" textLength="42.5" lengthAdjust="spacingAndGlyphs" >6.7%</text>
<line x1="388.8" y1="657" x2="502.5" y2="657" stroke="#141414" stroke-width="1.8" />
<line x1="445.8" y1="637.5" x2="445.8" y2="677.5" stroke="#141414" stroke-width="1.6" />
<text x="390.5" y="713.5" font-size="23.3" font-weight="bold" fill="#d7262b" stroke="#d7262b" stroke-width="0.45" stroke-linejoin="round" textLength="52.5" lengthAdjust="spacingAndGlyphs" >78.9%</text>
<text x="453.8" y="713.5" font-size="23.3" font-weight="bold" fill="#d7262b" stroke="#d7262b" stroke-width="0.45" stroke-linejoin="round" textLength="41.2" lengthAdjust="spacingAndGlyphs" >5.8%</text>
<text x="390.5" y="737.5" font-size="23.3" font-weight="bold" fill="#d7262b" stroke="#d7262b" stroke-width="0.45" stroke-linejoin="round" textLength="52.5" lengthAdjust="spacingAndGlyphs" >14.6%</text>
<text x="456.3" y="737.5" font-size="23.3" font-weight="bold" fill="#d7262b" stroke="#d7262b" stroke-width="0.45" stroke-linejoin="round" textLength="36.2" lengthAdjust="spacingAndGlyphs" >&lt;1%</text>
<line x1="388.8" y1="717.6" x2="502.5" y2="717.6" stroke="#141414" stroke-width="1.8" />
<line x1="445.8" y1="697.5" x2="445.8" y2="738.8" stroke="#141414" stroke-width="1.6" />
<g transform="rotate(-40 33.3 682.2)" font-weight="bold" fill="#141414" stroke="#141414" stroke-width="0.5"><text x="33.3" y="682.2" font-size="25" textLength="46.4" lengthAdjust="spacingAndGlyphs">CD8</text></g>
<g transform="rotate(-40 66.1 649.9)" font-weight="bold" fill="#141414" stroke="#141414" stroke-width="0.5"><text x="66.1" y="649.9" font-size="25">+</text></g>
<text x="33.4" y="737.4" font-size="24.5" font-weight="bold" fill="#141414" stroke="#141414" stroke-width="0.5" transform="rotate(-42 33.4 737.4)">tet<tspan dy="-3">+</tspan></text>
</g>
<g id="panelC">
<text x="0.3" y="809.7" font-size="38.5" font-weight="bold" fill="#141414" stroke="#141414" stroke-width="0.45" stroke-linejoin="round" >C</text>
<text x="125.3" y="798.1" font-size="24" font-weight="bold" fill="#141414" stroke="#141414" stroke-width="0.45" stroke-linejoin="round" textLength="148.3" lengthAdjust="spacingAndGlyphs" >CD8+ T cells</text>
<text x="326.2" y="798.1" font-size="24" font-weight="bold" fill="#141414" stroke="#141414" stroke-width="0.45" stroke-linejoin="round" textLength="170.4" lengthAdjust="spacingAndGlyphs" >HIVtet+ T cells</text>
<line x1="111" y1="816.3" x2="504" y2="816.3" stroke="#141414" stroke-width="1.3" />
<line x1="111" y1="861.9" x2="504" y2="861.9" stroke="#141414" stroke-width="1.3" />
<line x1="111" y1="907.5" x2="504" y2="907.5" stroke="#141414" stroke-width="1.3" />
<line x1="111" y1="953.1" x2="504" y2="953.1" stroke="#141414" stroke-width="1.3" />
<line x1="111" y1="998.7" x2="504" y2="998.7" stroke="#141414" stroke-width="1.3" />
<line x1="111" y1="1044.5" x2="504" y2="1044.5" stroke="#141414" stroke-width="1.5" />
<line x1="115" y1="816" x2="115" y2="1049.5" stroke="#141414" stroke-width="1.4" />
<line x1="308.7" y1="816" x2="308.7" y2="1049.5" stroke="#141414" stroke-width="1.5" />
<line x1="503.9" y1="816" x2="503.9" y2="1049.5" stroke="#141414" stroke-width="1.4" />
<line x1="214.3" y1="1044.5" x2="214.3" y2="1049.5" stroke="#141414" stroke-width="1.3" />
<line x1="408.5" y1="1044.5" x2="408.5" y2="1049.5" stroke="#141414" stroke-width="1.3" />
<text x="97.6" y="824.9" font-size="24" font-weight="bold" fill="#141414" stroke="#141414" stroke-width="0.45" stroke-linejoin="round" text-anchor="end" >100</text>
<text x="97.6" y="870.5" font-size="24" font-weight="bold" fill="#141414" stroke="#141414" stroke-width="0.45" stroke-linejoin="round" text-anchor="end" >80</text>
<text x="97.6" y="916.1" font-size="24" font-weight="bold" fill="#141414" stroke="#141414" stroke-width="0.45" stroke-linejoin="round" text-anchor="end" >60</text>
<text x="97.6" y="961.7" font-size="24" font-weight="bold" fill="#141414" stroke="#141414" stroke-width="0.45" stroke-linejoin="round" text-anchor="end" >40</text>
<text x="97.6" y="1007.3000000000001" font-size="24" font-weight="bold" fill="#141414" stroke="#141414" stroke-width="0.45" stroke-linejoin="round" text-anchor="end" >20</text>
<text x="97.6" y="1053.1" font-size="24" font-weight="bold" fill="#141414" stroke="#141414" stroke-width="0.45" stroke-linejoin="round" text-anchor="end" >0</text>
<text x="57.6" y="955.6" font-size="25.5" font-weight="bold" fill="#141414" stroke="#141414" stroke-width="0.45" stroke-linejoin="round" textLength="114" lengthAdjust="spacingAndGlyphs" transform="rotate(-90 57.6 955.6)" >cells [%]</text>
<text x="136.5" y="1120.3" font-size="25" font-weight="bold" fill="#141414" stroke="#141414" stroke-width="0.45" stroke-linejoin="round" transform="rotate(-45 136.5 1120.3)" >TemRO</text>
<text x="233.4" y="1120.3" font-size="25" font-weight="bold" fill="#141414" stroke="#141414" stroke-width="0.45" stroke-linejoin="round" transform="rotate(-45 233.4 1120.3)" >TemRA</text>
<text x="332.5" y="1120.3" font-size="25" font-weight="bold" fill="#141414" stroke="#141414" stroke-width="0.45" stroke-linejoin="round" transform="rotate(-45 332.5 1120.3)" >TemRO</text>
<text x="427.6" y="1120.3" font-size="25" font-weight="bold" fill="#141414" stroke="#141414" stroke-width="0.45" stroke-linejoin="round" transform="rotate(-45 427.6 1120.3)" >TemRA</text>
<circle cx="164.6" cy="917.5" r="6.8" fill="#161616"/>
<circle cx="164.6" cy="924" r="6.8" fill="#161616"/>
<circle cx="164.6" cy="935" r="6.8" fill="#161616"/>
<circle cx="164.6" cy="942" r="6.8" fill="#161616"/>
<circle cx="164.6" cy="950" r="6.8" fill="#161616"/>
<circle cx="164.6" cy="957" r="6.8" fill="#161616"/>
<circle cx="164.6" cy="964" r="6.8" fill="#161616"/>
<circle cx="164.6" cy="971.5" r="6.8" fill="#161616"/>
<circle cx="164.6" cy="995.4" r="6.8" fill="#161616"/>
<line x1="165.10000000000002" y1="930.2" x2="165.10000000000002" y2="977.8" stroke="#9b9691" stroke-width="1.6" />
<line x1="158.8" y1="930.2" x2="171.10000000000002" y2="930.2" stroke="#9b9691" stroke-width="1.8" />
<line x1="158.8" y1="977.8" x2="171.10000000000002" y2="977.8" stroke="#9b9691" stroke-width="1.8" />
<rect x="148.55" y="950.1999999999999" width="31.5" height="6.2" fill="#9b9691" />
<circle cx="247.9" cy="875.4" r="6.8" fill="#161616"/>
<circle cx="247.9" cy="913" r="6.8" fill="#161616"/>
<circle cx="247.9" cy="920" r="6.8" fill="#161616"/>
<circle cx="247.9" cy="928" r="6.8" fill="#161616"/>
<circle cx="247.9" cy="936" r="6.8" fill="#161616"/>
<circle cx="247.9" cy="944" r="6.8" fill="#161616"/>
<circle cx="247.9" cy="951" r="6.8" fill="#161616"/>
<circle cx="247.9" cy="958" r="6.8" fill="#161616"/>
<circle cx="247.9" cy="971.8" r="6.8" fill="#161616"/>
<line x1="248.8" y1="905.5" x2="248.8" y2="964.6" stroke="#9b9691" stroke-width="1.6" />
<line x1="242.0" y1="905.5" x2="255.3" y2="905.5" stroke="#9b9691" stroke-width="1.8" />
<line x1="242.0" y1="964.6" x2="255.3" y2="964.6" stroke="#9b9691" stroke-width="1.8" />
<rect x="232.2" y="931.5" width="31.6" height="6.2" fill="#9b9691" />
<circle cx="360.6" cy="846.7" r="7" fill="#161616"/>
<circle cx="360.6" cy="851.5" r="7" fill="#161616"/>
<circle cx="360.6" cy="856.5" r="7" fill="#161616"/>
<circle cx="360.6" cy="861.5" r="7" fill="#161616"/>
<circle cx="360.6" cy="866.5" r="7" fill="#161616"/>
<circle cx="360.6" cy="871.5" r="7" fill="#161616"/>
<circle cx="360.6" cy="902.7" r="7" fill="#161616"/>
<circle cx="360.6" cy="942.5" r="7" fill="#161616"/>
<circle cx="360.6" cy="961.5" r="7" fill="#161616"/>
<line x1="362.0" y1="880" x2="362.0" y2="892.3" stroke="#9b9691" stroke-width="1.6" />
<line x1="355.2" y1="880" x2="368.5" y2="880" stroke="#9b9691" stroke-width="1.8" />
<line x1="355.2" y1="892.3" x2="368.5" y2="892.3" stroke="#9b9691" stroke-width="1.8" />
<rect x="344.7" y="882.6" width="33" height="6.2" fill="#9b9691" />
<circle cx="441.2" cy="913" r="6.9" fill="#161616"/>
<circle cx="441.2" cy="928.6" r="6.9" fill="#161616"/>
<circle cx="441.2" cy="963.3" r="6.9" fill="#161616"/>
<circle cx="441.2" cy="975" r="6.9" fill="#161616"/>
<circle cx="441.2" cy="987" r="6.9" fill="#161616"/>
<circle cx="441.2" cy="998" r="6.9" fill="#161616"/>
<circle cx="441.2" cy="1009" r="6.9" fill="#161616"/>
<circle cx="441.2" cy="1028" r="6.9" fill="#161616"/>
<circle cx="441.2" cy="1037" r="6.9" fill="#161616"/>
<line x1="441.40000000000003" y1="967.8" x2="441.40000000000003" y2="1015.9" stroke="#9b9691" stroke-width="1.6" />
<line x1="434.85" y1="967.8" x2="447.65000000000003" y2="967.8" stroke="#9b9691" stroke-width="1.8" />
<line x1="434.85" y1="1015.9" x2="447.65000000000003" y2="1015.9" stroke="#9b9691" stroke-width="1.8" />
<rect x="424.5" y="987.9" width="32.2" height="6.2" fill="#9b9691" />
<path d="M168,862 V850 H252 V862" fill="none" stroke="#141414" stroke-width="4.2"/>
<path d="M372.6,850.2 H443.3 V862" fill="none" stroke="#141414" stroke-width="4.2"/>
<text x="149" y="884" font-size="21" font-weight="bold" fill="#141414" stroke="#141414" stroke-width="0.45" stroke-linejoin="round" textLength="40" lengthAdjust="spacingAndGlyphs" >n. s.</text>
<rect x="165" y="890" width="4.2" height="10" fill="#141414" />
<text x="443.3" y="841" font-size="23" font-weight="bold" fill="#141414" stroke="#141414" stroke-width="0.45" stroke-linejoin="round" textLength="54.5" lengthAdjust="spacingAndGlyphs" >n=15</text>
<text x="409" y="885" font-size="22" font-weight="bold" fill="#141414" textLength="66.6" lengthAdjust="spacingAndGlyphs"><tspan font-style="italic">P</tspan> &lt; .01</text>
<rect x="439.2" y="890.4" width="4.2" height="9" fill="#141414" />
</g>
</svg>
</body></html>
